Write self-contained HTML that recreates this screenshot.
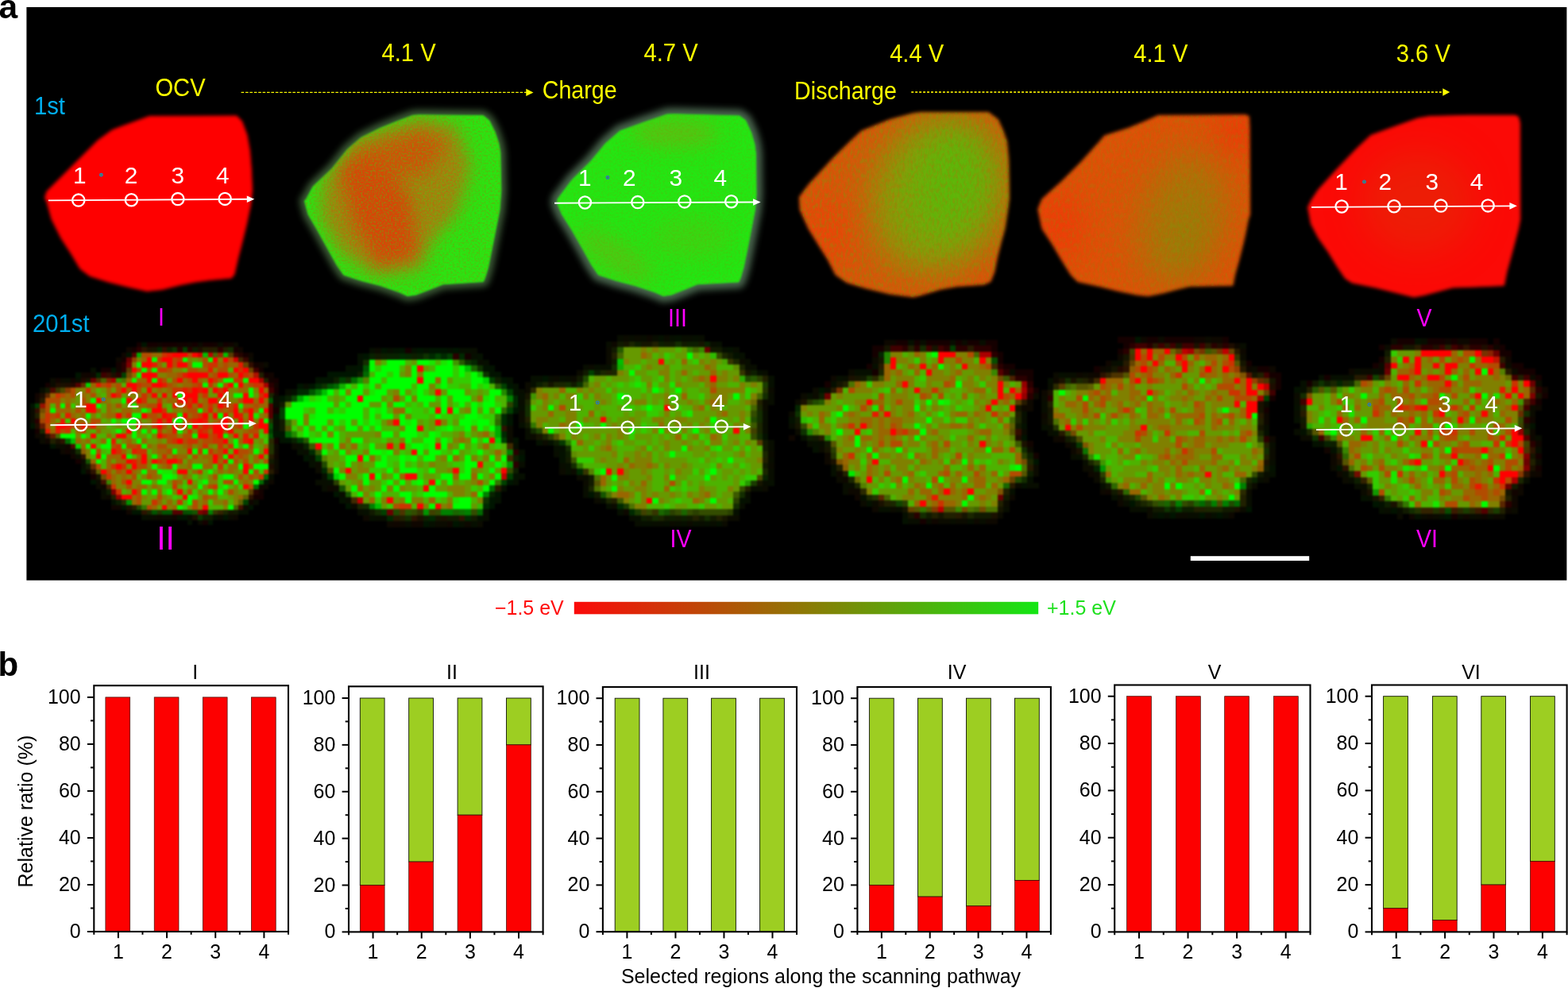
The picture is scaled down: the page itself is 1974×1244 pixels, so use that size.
<!DOCTYPE html>
<html lang="en">
<head>
<meta charset="utf-8">
<title>Figure</title>
<style>
html,body{margin:0;padding:0;background:#fff;}
body{width:1974px;height:1244px;}
svg{display:block;}
</style>
</head>
<body>
<svg width="1974" height="1244" viewBox="0 0 1974 1244">
<defs>
<filter id="b3" color-interpolation-filters="sRGB" x="-10%" y="-10%" width="120%" height="120%"><feGaussianBlur stdDeviation="3"/></filter>
<filter id="b2" color-interpolation-filters="sRGB" x="-10%" y="-10%" width="120%" height="120%"><feGaussianBlur stdDeviation="2"/></filter>
<filter id="b1" color-interpolation-filters="sRGB" x="-10%" y="-10%" width="120%" height="120%"><feGaussianBlur stdDeviation="1.2"/></filter>
<filter id="b5" color-interpolation-filters="sRGB" x="-20%" y="-20%" width="140%" height="140%"><feGaussianBlur stdDeviation="5"/></filter>
<filter id="b14" color-interpolation-filters="sRGB" x="-50%" y="-50%" width="200%" height="200%"><feGaussianBlur stdDeviation="14"/></filter>
<filter id="bp" color-interpolation-filters="sRGB" x="-5%" y="-5%" width="110%" height="110%"><feGaussianBlur stdDeviation="0.9"/></filter>
<filter id="b10" color-interpolation-filters="sRGB" x="-50%" y="-50%" width="200%" height="200%"><feGaussianBlur stdDeviation="10"/></filter>
<filter id="b12" color-interpolation-filters="sRGB" x="-50%" y="-50%" width="200%" height="200%"><feGaussianBlur stdDeviation="12"/></filter>
<filter id="b22" color-interpolation-filters="sRGB" x="-60%" y="-60%" width="220%" height="220%"><feGaussianBlur stdDeviation="22"/></filter>
<filter id="b4" color-interpolation-filters="sRGB" x="-20%" y="-20%" width="140%" height="140%"><feGaussianBlur stdDeviation="4"/></filter>
<clipPath id="c1"><polygon points="56.5,249 59,241 91,209 123,177 141,164 151,160 188,146.5 298,146 304.5,152.5 311,170 314.5,190 316.5,215 317.5,240 315.5,258 310.5,282 304.5,306.5 299.8,324.5 295,345.5 291.5,350 264.5,352.5 246,355 228,358.5 204,364.5 185,366.5 160.5,361 136.5,355 113,347.5 101,338.5 89,318.5 77,300 65,276 59,254"/></clipPath>
<clipPath id="c2"><polygon points="383.5,253 385.7,250.6 394.1,234.9 418.2,212 437.5,187.9 454.4,173.4 478.5,161.4 502.6,151.7 520,145.3 527.8,144.8 608.5,145.7 615.8,151.7 623,166.2 627.8,180.6 629.8,192 630.8,240 629,264.1 624.2,288.2 619.4,312.4 614.6,336.5 610.9,348.5 608.5,354.6 557.9,357.8 542.2,364 524,371 513,372.6 502.6,367.8 478.5,359.4 454.4,353.3 432.7,346.1 424.3,334.1 412.2,312.4 400.1,290.6 388.1,270.1"/></clipPath>
<clipPath id="c3"><polygon points="701.5,256 702.1,250.6 720.1,226.5 744.3,202.4 762.4,180.6 780.4,165 810.6,154.1 840,144 850.1,143.8 931,146 938.5,151.5 945.7,167 950,182 951.5,194.3 952,245 950.5,264 945.5,290 941,313 936,337 932.5,349 930,355 878,357.8 863,364 845.6,371 835,372.6 824,367.8 800,359.8 776,353.5 753.3,346 745,334 733,312.4 720.5,290.6 707.5,270"/></clipPath>
<clipPath id="c4"><polygon points="1006.5,248 1018,232.5 1048,200 1072.5,176 1084.5,165 1120.5,150.5 1150,142.7 1160,141.5 1244.5,141.5 1256.5,150.5 1262.5,164 1267.5,178 1269.8,202 1270.5,250 1268.7,264 1265,288 1260,306 1255.4,324.4 1251.8,342.5 1247,354.6 1238.5,358.2 1204.8,360.6 1184.3,364.2 1160,371.4 1150,373.9 1120.6,370.2 1090.4,363 1066.3,355.8 1052,346 1042.2,326.8 1030,307.5 1018,288 1007.2,264"/></clipPath>
<clipPath id="c5"><polygon points="1306.8,263.5 1312,250.6 1336,229 1360.3,204.8 1384.4,178.2 1390.4,171 1420.6,161.4 1440,153.5 1458,145.5 1568,144.8 1572.3,146.5 1573,160 1573.5,270 1571.4,276.2 1566.6,300.3 1560.6,324.4 1554.6,346.1 1552,359.4 1498,360.4 1482.2,364.2 1464,369 1446,372.6 1432.6,371.4 1408.5,366.6 1384.4,360.6 1356.7,354.6 1348.2,346.1 1336.2,326.8 1324.1,306.3 1312.1,288.2"/></clipPath>
<clipPath id="c6"><polygon points="1646.5,261 1651,252 1659.5,239 1683.5,212.5 1707.5,187.5 1725.5,170.5 1755.5,159.5 1785,149 1800,146.5 1850,145.3 1907,145.3 1911.5,147 1913.5,155 1913.8,276 1911.5,288 1906.8,306 1902,324 1897,342 1893.5,359.5 1859,361 1829,362 1811,366.8 1793,371.6 1780,374 1755.5,368 1731.5,362 1702,356 1693.5,350.5 1684,336.5 1672,317 1660,300 1650.5,282"/></clipPath>
<filter id="ng" x="0" y="0" width="100%" height="100%" color-interpolation-filters="sRGB"><feTurbulence type="fractalNoise" baseFrequency="0.42" numOctaves="2" seed="3"/><feColorMatrix type="matrix" values="0 0 0 0 0.196 0 0 0 0 0.882 0 0 0 0 0.078 3.2 0 0 0 -1.35"/><feComposite operator="in" in2="SourceGraphic"/></filter>
<filter id="nr" x="0" y="0" width="100%" height="100%" color-interpolation-filters="sRGB"><feTurbulence type="fractalNoise" baseFrequency="0.40" numOctaves="2" seed="11"/><feColorMatrix type="matrix" values="0 0 0 0 0.882 0 0 0 0 0.235 0 0 0 0 0.039 3.2 0 0 0 -1.45"/><feComposite operator="in" in2="SourceGraphic"/></filter>
<filter id="ngs" x="0" y="0" width="100%" height="100%" color-interpolation-filters="sRGB"><feTurbulence type="fractalNoise" baseFrequency="0.34 0.16" numOctaves="2" seed="5"/><feColorMatrix type="matrix" values="0 0 0 0 0.275 0 0 0 0 0.745 0 0 0 0 0.039 3.0 0 0 0 -1.25"/><feComposite operator="in" in2="SourceGraphic"/></filter>
<filter id="nrs" x="0" y="0" width="100%" height="100%" color-interpolation-filters="sRGB"><feTurbulence type="fractalNoise" baseFrequency="0.30 0.16" numOctaves="2" seed="9"/><feColorMatrix type="matrix" values="0 0 0 0 0.882 0 0 0 0 0.275 0 0 0 0 0.031 3.0 0 0 0 -1.35"/><feComposite operator="in" in2="SourceGraphic"/></filter>
<linearGradient id="cb" x1="0" x2="1" y1="0" y2="0"><stop offset="0" stop-color="#fb0a0a"/><stop offset="0.5" stop-color="#8c7a05"/><stop offset="1" stop-color="#14e614"/></linearGradient>
</defs>
<rect x="0" y="0" width="1974" height="1244" fill="#fff"/>
<rect x="33.4" y="9" width="1939" height="721.7" fill="#000"/>
<g filter="url(#b2)">
<polygon points="56.5,249 59,241 91,209 123,177 141,164 151,160 188,146.5 298,146 304.5,152.5 311,170 314.5,190 316.5,215 317.5,240 315.5,258 310.5,282 304.5,306.5 299.8,324.5 295,345.5 291.5,350 264.5,352.5 246,355 228,358.5 204,364.5 185,366.5 160.5,361 136.5,355 113,347.5 101,338.5 89,318.5 77,300 65,276 59,254" fill="#fe0000" stroke="#fe0000" stroke-width="1" stroke-linejoin="round"/>
</g>
<polygon points="383.5,253 385.7,250.6 394.1,234.9 418.2,212 437.5,187.9 454.4,173.4 478.5,161.4 502.6,151.7 520,145.3 527.8,144.8 608.5,145.7 615.8,151.7 623,166.2 627.8,180.6 629.8,192 630.8,240 629,264.1 624.2,288.2 619.4,312.4 614.6,336.5 610.9,348.5 608.5,354.6 557.9,357.8 542.2,364 524,371 513,372.6 502.6,367.8 478.5,359.4 454.4,353.3 432.7,346.1 424.3,334.1 412.2,312.4 400.1,290.6 388.1,270.1" fill="#46683f" stroke="#46683f" stroke-width="13" stroke-linejoin="round" filter="url(#b4)" opacity="0.85"/>
<g filter="url(#b1)">
<polygon points="383.5,253 385.7,250.6 394.1,234.9 418.2,212 437.5,187.9 454.4,173.4 478.5,161.4 502.6,151.7 520,145.3 527.8,144.8 608.5,145.7 615.8,151.7 623,166.2 627.8,180.6 629.8,192 630.8,240 629,264.1 624.2,288.2 619.4,312.4 614.6,336.5 610.9,348.5 608.5,354.6 557.9,357.8 542.2,364 524,371 513,372.6 502.6,367.8 478.5,359.4 454.4,353.3 432.7,346.1 424.3,334.1 412.2,312.4 400.1,290.6 388.1,270.1" fill="#2ce412" stroke="#2ce412" stroke-width="1" stroke-linejoin="round"/>
<g clip-path="url(#c2)"><g filter="url(#b10)"><polygon points="406.3,228 446.8,171.8 530.1,147 575.1,158.3 593.1,210 575.1,268.5 543.6,304.6 527.8,340.6 473.8,347.3 428.8,318.1 404,273" fill="#a8800e" opacity="0.95"/><polygon points="426.5,210 467,187.5 516.6,246 527.8,322.6 476,336.1 444.5,282.1" fill="#da4408" opacity="0.95"/><polygon points="440,194.3 530.1,162.8 563.8,180.8 536.8,221.3 476,223.5" fill="#d25008" opacity="0.9"/></g></g>
</g>
<g clip-path="url(#c2)">
<polygon points="383.5,253 385.7,250.6 394.1,234.9 418.2,212 437.5,187.9 454.4,173.4 478.5,161.4 502.6,151.7 520,145.3 527.8,144.8 608.5,145.7 615.8,151.7 623,166.2 627.8,180.6 629.8,192 630.8,240 629,264.1 624.2,288.2 619.4,312.4 614.6,336.5 610.9,348.5 608.5,354.6 557.9,357.8 542.2,364 524,371 513,372.6 502.6,367.8 478.5,359.4 454.4,353.3 432.7,346.1 424.3,334.1 412.2,312.4 400.1,290.6 388.1,270.1" fill="#fff" filter="url(#ng)" opacity="0.32"/>
<polygon points="383.5,253 385.7,250.6 394.1,234.9 418.2,212 437.5,187.9 454.4,173.4 478.5,161.4 502.6,151.7 520,145.3 527.8,144.8 608.5,145.7 615.8,151.7 623,166.2 627.8,180.6 629.8,192 630.8,240 629,264.1 624.2,288.2 619.4,312.4 614.6,336.5 610.9,348.5 608.5,354.6 557.9,357.8 542.2,364 524,371 513,372.6 502.6,367.8 478.5,359.4 454.4,353.3 432.7,346.1 424.3,334.1 412.2,312.4 400.1,290.6 388.1,270.1" fill="#fff" filter="url(#nr)" opacity="0.22"/>
</g>
<polygon points="701.5,256 702.1,250.6 720.1,226.5 744.3,202.4 762.4,180.6 780.4,165 810.6,154.1 840,144 850.1,143.8 931,146 938.5,151.5 945.7,167 950,182 951.5,194.3 952,245 950.5,264 945.5,290 941,313 936,337 932.5,349 930,355 878,357.8 863,364 845.6,371 835,372.6 824,367.8 800,359.8 776,353.5 753.3,346 745,334 733,312.4 720.5,290.6 707.5,270" fill="#55755a" stroke="#55755a" stroke-width="16" stroke-linejoin="round" filter="url(#b4)" opacity="0.85"/>
<g filter="url(#b1)">
<polygon points="701.5,256 702.1,250.6 720.1,226.5 744.3,202.4 762.4,180.6 780.4,165 810.6,154.1 840,144 850.1,143.8 931,146 938.5,151.5 945.7,167 950,182 951.5,194.3 952,245 950.5,264 945.5,290 941,313 936,337 932.5,349 930,355 878,357.8 863,364 845.6,371 835,372.6 824,367.8 800,359.8 776,353.5 753.3,346 745,334 733,312.4 720.5,290.6 707.5,270" fill="#24e612" stroke="#24e612" stroke-width="1" stroke-linejoin="round"/>
<g clip-path="url(#c3)"><g filter="url(#b12)"><ellipse cx="850" cy="168" rx="55" ry="16" fill="#72b010" opacity="0.7"/><ellipse cx="775" cy="322" rx="55" ry="18" fill="#68b810" transform="rotate(32 775 322)" opacity="0.6"/><ellipse cx="870" cy="300" rx="50" ry="25" fill="#50c810" opacity="0.5"/></g></g>
</g>
<g clip-path="url(#c3)">
<polygon points="701.5,256 702.1,250.6 720.1,226.5 744.3,202.4 762.4,180.6 780.4,165 810.6,154.1 840,144 850.1,143.8 931,146 938.5,151.5 945.7,167 950,182 951.5,194.3 952,245 950.5,264 945.5,290 941,313 936,337 932.5,349 930,355 878,357.8 863,364 845.6,371 835,372.6 824,367.8 800,359.8 776,353.5 753.3,346 745,334 733,312.4 720.5,290.6 707.5,270" fill="#fff" filter="url(#nr)" opacity="0.1"/>
</g>
<g filter="url(#b2)">
<polygon points="1006.5,248 1018,232.5 1048,200 1072.5,176 1084.5,165 1120.5,150.5 1150,142.7 1160,141.5 1244.5,141.5 1256.5,150.5 1262.5,164 1267.5,178 1269.8,202 1270.5,250 1268.7,264 1265,288 1260,306 1255.4,324.4 1251.8,342.5 1247,354.6 1238.5,358.2 1204.8,360.6 1184.3,364.2 1160,371.4 1150,373.9 1120.6,370.2 1090.4,363 1066.3,355.8 1052,346 1042.2,326.8 1030,307.5 1018,288 1007.2,264" fill="#d6580a" stroke="#d6580a" stroke-width="1" stroke-linejoin="round"/>
<g clip-path="url(#c4)"><g filter="url(#b22)"><ellipse cx="1183" cy="245" rx="82" ry="100" fill="#7ea40a" transform="rotate(18 1183 245)" opacity="0.95"/><ellipse cx="1200" cy="228" rx="46" ry="72" fill="#54be0a" transform="rotate(12 1200 228)" opacity="0.75"/><ellipse cx="1040" cy="292" rx="36" ry="48" fill="#ee4208" opacity="0.85"/><ellipse cx="1200" cy="366" rx="75" ry="12" fill="#ea4608" opacity="0.9"/><ellipse cx="1250" cy="340" rx="22" ry="26" fill="#e04c08" opacity="0.7"/></g></g>
</g>
<g clip-path="url(#c4)">
<polygon points="1006.5,248 1018,232.5 1048,200 1072.5,176 1084.5,165 1120.5,150.5 1150,142.7 1160,141.5 1244.5,141.5 1256.5,150.5 1262.5,164 1267.5,178 1269.8,202 1270.5,250 1268.7,264 1265,288 1260,306 1255.4,324.4 1251.8,342.5 1247,354.6 1238.5,358.2 1204.8,360.6 1184.3,364.2 1160,371.4 1150,373.9 1120.6,370.2 1090.4,363 1066.3,355.8 1052,346 1042.2,326.8 1030,307.5 1018,288 1007.2,264" fill="#fff" filter="url(#ngs)" opacity="0.24"/>
<polygon points="1006.5,248 1018,232.5 1048,200 1072.5,176 1084.5,165 1120.5,150.5 1150,142.7 1160,141.5 1244.5,141.5 1256.5,150.5 1262.5,164 1267.5,178 1269.8,202 1270.5,250 1268.7,264 1265,288 1260,306 1255.4,324.4 1251.8,342.5 1247,354.6 1238.5,358.2 1204.8,360.6 1184.3,364.2 1160,371.4 1150,373.9 1120.6,370.2 1090.4,363 1066.3,355.8 1052,346 1042.2,326.8 1030,307.5 1018,288 1007.2,264" fill="#fff" filter="url(#nrs)" opacity="0.22"/>
</g>
<g filter="url(#b2)">
<polygon points="1306.8,263.5 1312,250.6 1336,229 1360.3,204.8 1384.4,178.2 1390.4,171 1420.6,161.4 1440,153.5 1458,145.5 1568,144.8 1572.3,146.5 1573,160 1573.5,270 1571.4,276.2 1566.6,300.3 1560.6,324.4 1554.6,346.1 1552,359.4 1498,360.4 1482.2,364.2 1464,369 1446,372.6 1432.6,371.4 1408.5,366.6 1384.4,360.6 1356.7,354.6 1348.2,346.1 1336.2,326.8 1324.1,306.3 1312.1,288.2" fill="#de5208" stroke="#de5208" stroke-width="1" stroke-linejoin="round"/>
<g clip-path="url(#c5)"><g filter="url(#b22)"><ellipse cx="1488" cy="275" rx="52" ry="85" fill="#a27a08" transform="rotate(15 1488 275)" opacity="0.85"/><ellipse cx="1498" cy="300" rx="25" ry="50" fill="#868808" transform="rotate(15 1498 300)" opacity="0.5"/><ellipse cx="1334" cy="285" rx="30" ry="48" fill="#f03a08"/><ellipse cx="1558" cy="165" rx="26" ry="28" fill="#f03408"/></g></g>
</g>
<g clip-path="url(#c5)">
<polygon points="1306.8,263.5 1312,250.6 1336,229 1360.3,204.8 1384.4,178.2 1390.4,171 1420.6,161.4 1440,153.5 1458,145.5 1568,144.8 1572.3,146.5 1573,160 1573.5,270 1571.4,276.2 1566.6,300.3 1560.6,324.4 1554.6,346.1 1552,359.4 1498,360.4 1482.2,364.2 1464,369 1446,372.6 1432.6,371.4 1408.5,366.6 1384.4,360.6 1356.7,354.6 1348.2,346.1 1336.2,326.8 1324.1,306.3 1312.1,288.2" fill="#fff" filter="url(#ngs)" opacity="0.14"/>
<polygon points="1306.8,263.5 1312,250.6 1336,229 1360.3,204.8 1384.4,178.2 1390.4,171 1420.6,161.4 1440,153.5 1458,145.5 1568,144.8 1572.3,146.5 1573,160 1573.5,270 1571.4,276.2 1566.6,300.3 1560.6,324.4 1554.6,346.1 1552,359.4 1498,360.4 1482.2,364.2 1464,369 1446,372.6 1432.6,371.4 1408.5,366.6 1384.4,360.6 1356.7,354.6 1348.2,346.1 1336.2,326.8 1324.1,306.3 1312.1,288.2" fill="#fff" filter="url(#nrs)" opacity="0.2"/>
</g>
<g filter="url(#b2)">
<polygon points="1646.5,261 1651,252 1659.5,239 1683.5,212.5 1707.5,187.5 1725.5,170.5 1755.5,159.5 1785,149 1800,146.5 1850,145.3 1907,145.3 1911.5,147 1913.5,155 1913.8,276 1911.5,288 1906.8,306 1902,324 1897,342 1893.5,359.5 1859,361 1829,362 1811,366.8 1793,371.6 1780,374 1755.5,368 1731.5,362 1702,356 1693.5,350.5 1684,336.5 1672,317 1660,300 1650.5,282" fill="#fb0a06" stroke="#fb0a06" stroke-width="1" stroke-linejoin="round"/>
<g clip-path="url(#c6)"><g filter="url(#b22)"><ellipse cx="1785" cy="255" rx="70" ry="65" fill="#ea2206" opacity="0.8"/></g></g>
</g>
<g filter="url(#bp)"><g transform="translate(31.10 424.40) scale(6.4)" shape-rendering="crispEdges">
<path fill="#150000" d="M22 1h1v1h-1zM24 1h1v1h-1zM25 1h1v1h-1zM27 1h1v1h-1zM28 1h1v1h-1zM29 1h1v1h-1zM33 1h1v1h-1zM35 1h1v1h-1zM36 1h1v1h-1zM39 1h1v1h-1zM21 2h1v1h-1zM41 2h1v1h-1zM43 3h1v1h-1zM19 4h1v1h-1zM15 6h1v1h-1zM16 6h1v1h-1zM47 7h1v1h-1zM49 8h1v1h-1zM4 9h1v1h-1zM49 10h1v1h-1zM2 18h1v1h-1zM49 19h1v1h-1zM49 20h1v1h-1zM10 24h1v1h-1zM13 27h1v1h-1zM45 31h1v1h-1zM46 31h1v1h-1zM35 36h1v1h-1z"/>
<path fill="#001500" d="M23 1h1v1h-1zM20 3h1v1h-1zM17 6h1v1h-1zM10 7h1v1h-1zM49 12h1v1h-1zM1 13h1v1h-1zM1 17h1v1h-1zM5 21h1v1h-1zM11 26h1v1h-1zM13 28h1v1h-1zM47 28h1v1h-1zM19 33h1v1h-1zM44 33h1v1h-1zM21 34h1v1h-1zM22 34h1v1h-1zM31 35h1v1h-1zM39 35h1v1h-1zM36 36h1v1h-1z"/>
<path fill="#110400" d="M26 1h1v1h-1zM30 1h1v1h-1zM40 1h1v1h-1zM18 6h1v1h-1zM12 7h1v1h-1zM48 7h1v1h-1zM6 8h1v1h-1zM9 8h1v1h-1zM49 9h1v1h-1zM2 11h1v1h-1zM8 22h1v1h-1zM9 23h1v1h-1zM17 33h1v1h-1z"/>
<path fill="#130200" d="M31 1h1v1h-1zM37 1h1v1h-1zM18 5h1v1h-1zM45 5h1v1h-1zM46 6h1v1h-1zM48 8h1v1h-1zM46 30h1v1h-1z"/>
<path fill="#0f0600" d="M32 1h1v1h-1zM20 2h1v1h-1zM42 2h1v1h-1zM19 3h1v1h-1zM46 5h1v1h-1zM11 7h1v1h-1zM49 11h1v1h-1zM2 12h1v1h-1zM4 20h1v1h-1zM8 21h1v1h-1zM49 23h1v1h-1zM12 26h1v1h-1zM49 26h1v1h-1zM15 29h1v1h-1zM46 29h1v1h-1zM44 32h1v1h-1zM18 33h1v1h-1zM20 34h1v1h-1zM29 35h1v1h-1z"/>
<path fill="#0b0b00" d="M34 1h1v1h-1zM41 1h1v1h-1zM44 4h1v1h-1zM47 5h1v1h-1zM5 8h1v1h-1zM7 8h1v1h-1zM5 9h1v1h-1zM1 14h1v1h-1zM1 15h1v1h-1zM1 16h1v1h-1zM49 18h1v1h-1zM3 19h1v1h-1zM3 20h1v1h-1zM6 21h1v1h-1zM7 21h1v1h-1zM49 21h1v1h-1zM9 22h1v1h-1zM11 24h1v1h-1zM49 24h1v1h-1zM49 25h1v1h-1zM14 28h1v1h-1zM14 29h1v1h-1zM15 31h1v1h-1zM43 33h1v1h-1zM25 35h1v1h-1zM27 35h1v1h-1zM28 35h1v1h-1zM32 35h1v1h-1zM38 35h1v1h-1zM40 35h1v1h-1zM34 36h1v1h-1z"/>
<path fill="#080d00" d="M38 1h1v1h-1zM8 8h1v1h-1zM10 8h1v1h-1zM3 10h1v1h-1zM49 13h1v1h-1zM49 15h1v1h-1zM10 23h1v1h-1zM11 25h1v1h-1zM48 27h1v1h-1zM15 30h1v1h-1zM45 32h1v1h-1zM24 35h1v1h-1z"/>
<path fill="#2a0000" d="M22 2h1v1h-1zM30 2h1v1h-1zM32 2h1v1h-1zM38 2h1v1h-1zM19 5h1v1h-1zM19 6h1v1h-1zM18 7h1v1h-1zM48 9h1v1h-1zM2 16h1v1h-1z"/>
<path fill="#2d1300" d="M23 2h1v1h-1zM4 19h1v1h-1zM7 20h1v1h-1zM11 23h1v1h-1zM13 26h1v1h-1zM44 31h1v1h-1zM23 34h1v1h-1z"/>
<path fill="#1a1100" d="M24 2h1v1h-1zM17 7h1v1h-1zM7 9h1v1h-1zM6 20h1v1h-1zM20 33h1v1h-1zM33 35h1v1h-1z"/>
<path fill="#151500" d="M25 2h1v1h-1zM12 8h1v1h-1zM14 27h1v1h-1zM40 34h1v1h-1z"/>
<path fill="#002a00" d="M26 2h1v1h-1zM14 7h1v1h-1z"/>
<path fill="#330d00" d="M27 2h1v1h-1zM44 5h1v1h-1zM16 7h1v1h-1zM2 14h1v1h-1z"/>
<path fill="#0d1e00" d="M28 2h1v1h-1zM33 2h1v1h-1zM16 30h1v1h-1zM18 32h1v1h-1zM35 35h1v1h-1z"/>
<path fill="#0d3300" d="M29 2h1v1h-1z"/>
<path fill="#004000" d="M31 2h1v1h-1zM19 7h1v1h-1zM2 13h1v1h-1zM48 18h1v1h-1zM43 32h1v1h-1z"/>
<path fill="#1e0d00" d="M34 2h1v1h-1zM6 9h1v1h-1zM8 9h1v1h-1zM3 11h1v1h-1zM2 17h1v1h-1zM48 25h1v1h-1z"/>
<path fill="#202000" d="M35 2h1v1h-1zM37 2h1v1h-1zM39 2h1v1h-1zM46 7h1v1h-1zM47 8h1v1h-1zM2 15h1v1h-1zM5 20h1v1h-1zM17 31h1v1h-1z"/>
<path fill="#261a00" d="M36 2h1v1h-1zM3 12h1v1h-1zM48 23h1v1h-1zM48 26h1v1h-1zM21 33h1v1h-1z"/>
<path fill="#132d00" d="M40 2h1v1h-1zM10 22h1v1h-1z"/>
<path fill="#550000" d="M21 3h1v1h-1zM10 9h1v1h-1zM48 13h1v1h-1zM48 14h1v1h-1zM48 15h1v1h-1zM29 34h1v1h-1zM30 34h1v1h-1z"/>
<path fill="#00aa00" d="M22 3h1v1h-1z"/>
<path fill="#b24c00" d="M23 3h1v1h-1zM24 3h1v1h-1zM32 3h1v1h-1zM29 4h1v1h-1zM35 4h1v1h-1zM40 4h1v1h-1zM29 5h1v1h-1zM35 5h1v1h-1zM39 5h1v1h-1zM22 6h1v1h-1zM24 6h1v1h-1zM28 6h1v1h-1zM32 6h1v1h-1zM33 6h1v1h-1zM38 6h1v1h-1zM39 6h1v1h-1zM30 7h1v1h-1zM37 7h1v1h-1zM40 7h1v1h-1zM44 7h1v1h-1zM27 8h1v1h-1zM29 8h1v1h-1zM32 8h1v1h-1zM15 9h1v1h-1zM18 9h1v1h-1zM23 9h1v1h-1zM24 9h1v1h-1zM28 9h1v1h-1zM33 9h1v1h-1zM39 9h1v1h-1zM44 9h1v1h-1zM9 10h1v1h-1zM18 10h1v1h-1zM22 10h1v1h-1zM7 11h1v1h-1zM9 11h1v1h-1zM13 11h1v1h-1zM4 12h1v1h-1zM5 12h1v1h-1zM6 12h1v1h-1zM11 12h1v1h-1zM42 12h1v1h-1zM4 13h1v1h-1zM6 13h1v1h-1zM8 13h1v1h-1zM11 13h1v1h-1zM18 13h1v1h-1zM24 13h1v1h-1zM25 13h1v1h-1zM31 13h1v1h-1zM40 13h1v1h-1zM45 13h1v1h-1zM4 14h1v1h-1zM10 14h1v1h-1zM32 14h1v1h-1zM33 14h1v1h-1zM38 14h1v1h-1zM40 14h1v1h-1zM5 15h1v1h-1zM24 15h1v1h-1zM25 15h1v1h-1zM33 15h1v1h-1zM13 16h1v1h-1zM14 16h1v1h-1zM25 16h1v1h-1zM27 16h1v1h-1zM38 16h1v1h-1zM4 17h1v1h-1zM9 17h1v1h-1zM10 17h1v1h-1zM12 17h1v1h-1zM27 17h1v1h-1zM34 17h1v1h-1zM41 17h1v1h-1zM7 18h1v1h-1zM39 18h1v1h-1zM44 18h1v1h-1zM45 18h1v1h-1zM28 19h1v1h-1zM29 19h1v1h-1zM31 19h1v1h-1zM32 19h1v1h-1zM36 19h1v1h-1zM28 20h1v1h-1zM31 20h1v1h-1zM35 20h1v1h-1zM36 20h1v1h-1zM17 21h1v1h-1zM20 21h1v1h-1zM21 21h1v1h-1zM26 21h1v1h-1zM27 21h1v1h-1zM32 21h1v1h-1zM44 21h1v1h-1zM14 22h1v1h-1zM28 22h1v1h-1zM38 22h1v1h-1zM42 22h1v1h-1zM43 22h1v1h-1zM29 23h1v1h-1zM33 23h1v1h-1zM38 23h1v1h-1zM42 23h1v1h-1zM22 24h1v1h-1zM27 24h1v1h-1zM41 24h1v1h-1zM43 24h1v1h-1zM47 24h1v1h-1zM14 25h1v1h-1zM22 25h1v1h-1zM23 25h1v1h-1zM28 25h1v1h-1zM44 25h1v1h-1zM16 26h1v1h-1zM18 26h1v1h-1zM45 26h1v1h-1zM21 27h1v1h-1zM24 27h1v1h-1zM37 27h1v1h-1zM42 27h1v1h-1zM44 27h1v1h-1zM19 28h1v1h-1zM29 28h1v1h-1zM39 28h1v1h-1zM40 28h1v1h-1zM20 29h1v1h-1zM36 29h1v1h-1zM44 29h1v1h-1zM22 30h1v1h-1zM32 30h1v1h-1zM40 30h1v1h-1zM22 31h1v1h-1zM26 31h1v1h-1zM35 31h1v1h-1zM22 32h1v1h-1zM33 32h1v1h-1zM24 33h1v1h-1zM33 33h1v1h-1z"/>
<path fill="#996600" d="M25 3h1v1h-1zM26 3h1v1h-1zM23 4h1v1h-1zM26 5h1v1h-1zM32 5h1v1h-1zM38 5h1v1h-1zM40 5h1v1h-1zM41 5h1v1h-1zM34 6h1v1h-1zM35 6h1v1h-1zM21 7h1v1h-1zM28 7h1v1h-1zM29 7h1v1h-1zM36 7h1v1h-1zM41 7h1v1h-1zM20 8h1v1h-1zM22 8h1v1h-1zM23 8h1v1h-1zM31 8h1v1h-1zM34 8h1v1h-1zM38 8h1v1h-1zM13 9h1v1h-1zM17 9h1v1h-1zM29 9h1v1h-1zM31 9h1v1h-1zM32 9h1v1h-1zM43 9h1v1h-1zM16 10h1v1h-1zM20 10h1v1h-1zM26 10h1v1h-1zM28 10h1v1h-1zM42 10h1v1h-1zM43 10h1v1h-1zM47 10h1v1h-1zM5 11h1v1h-1zM8 11h1v1h-1zM11 11h1v1h-1zM16 11h1v1h-1zM24 11h1v1h-1zM34 11h1v1h-1zM8 12h1v1h-1zM15 12h1v1h-1zM28 12h1v1h-1zM29 12h1v1h-1zM35 12h1v1h-1zM45 12h1v1h-1zM47 12h1v1h-1zM16 13h1v1h-1zM22 13h1v1h-1zM23 13h1v1h-1zM30 13h1v1h-1zM33 13h1v1h-1zM35 13h1v1h-1zM37 13h1v1h-1zM43 13h1v1h-1zM44 13h1v1h-1zM46 13h1v1h-1zM47 13h1v1h-1zM6 14h1v1h-1zM7 14h1v1h-1zM8 14h1v1h-1zM14 14h1v1h-1zM16 14h1v1h-1zM19 14h1v1h-1zM20 14h1v1h-1zM31 14h1v1h-1zM35 14h1v1h-1zM39 14h1v1h-1zM45 14h1v1h-1zM9 15h1v1h-1zM11 15h1v1h-1zM16 15h1v1h-1zM17 15h1v1h-1zM19 15h1v1h-1zM26 15h1v1h-1zM32 15h1v1h-1zM47 15h1v1h-1zM5 16h1v1h-1zM10 16h1v1h-1zM11 16h1v1h-1zM22 16h1v1h-1zM31 16h1v1h-1zM37 16h1v1h-1zM43 16h1v1h-1zM23 17h1v1h-1zM30 17h1v1h-1zM5 18h1v1h-1zM10 18h1v1h-1zM14 18h1v1h-1zM28 18h1v1h-1zM36 18h1v1h-1zM43 18h1v1h-1zM16 19h1v1h-1zM10 20h1v1h-1zM12 20h1v1h-1zM15 20h1v1h-1zM20 20h1v1h-1zM23 20h1v1h-1zM34 20h1v1h-1zM42 20h1v1h-1zM11 21h1v1h-1zM24 21h1v1h-1zM31 21h1v1h-1zM34 21h1v1h-1zM47 21h1v1h-1zM19 22h1v1h-1zM26 22h1v1h-1zM27 22h1v1h-1zM37 22h1v1h-1zM44 22h1v1h-1zM16 23h1v1h-1zM17 23h1v1h-1zM18 23h1v1h-1zM22 23h1v1h-1zM30 23h1v1h-1zM31 23h1v1h-1zM35 23h1v1h-1zM36 23h1v1h-1zM41 23h1v1h-1zM43 23h1v1h-1zM45 23h1v1h-1zM13 24h1v1h-1zM16 24h1v1h-1zM18 24h1v1h-1zM19 24h1v1h-1zM32 24h1v1h-1zM36 24h1v1h-1zM38 24h1v1h-1zM45 24h1v1h-1zM16 25h1v1h-1zM27 25h1v1h-1zM32 25h1v1h-1zM35 25h1v1h-1zM36 25h1v1h-1zM40 25h1v1h-1zM41 25h1v1h-1zM19 26h1v1h-1zM21 26h1v1h-1zM24 26h1v1h-1zM25 26h1v1h-1zM33 26h1v1h-1zM38 26h1v1h-1zM40 26h1v1h-1zM17 27h1v1h-1zM19 27h1v1h-1zM25 27h1v1h-1zM31 27h1v1h-1zM45 27h1v1h-1zM17 28h1v1h-1zM30 28h1v1h-1zM43 28h1v1h-1zM22 29h1v1h-1zM23 29h1v1h-1zM25 29h1v1h-1zM26 30h1v1h-1zM21 31h1v1h-1zM36 31h1v1h-1zM37 31h1v1h-1zM42 31h1v1h-1zM21 32h1v1h-1zM26 32h1v1h-1zM28 32h1v1h-1zM35 32h1v1h-1zM39 32h1v1h-1zM25 33h1v1h-1zM29 33h1v1h-1z"/>
<path fill="#cc3300" d="M27 3h1v1h-1zM26 4h1v1h-1zM30 4h1v1h-1zM36 5h1v1h-1zM37 5h1v1h-1zM26 6h1v1h-1zM27 6h1v1h-1zM42 6h1v1h-1zM43 7h1v1h-1zM37 8h1v1h-1zM41 8h1v1h-1zM42 8h1v1h-1zM16 9h1v1h-1zM22 9h1v1h-1zM34 9h1v1h-1zM36 9h1v1h-1zM45 9h1v1h-1zM46 9h1v1h-1zM12 10h1v1h-1zM29 10h1v1h-1zM30 10h1v1h-1zM32 10h1v1h-1zM38 10h1v1h-1zM6 11h1v1h-1zM18 11h1v1h-1zM23 11h1v1h-1zM35 11h1v1h-1zM46 11h1v1h-1zM23 12h1v1h-1zM26 12h1v1h-1zM32 12h1v1h-1zM39 12h1v1h-1zM36 13h1v1h-1zM39 13h1v1h-1zM27 14h1v1h-1zM43 14h1v1h-1zM4 15h1v1h-1zM6 15h1v1h-1zM20 15h1v1h-1zM29 15h1v1h-1zM34 15h1v1h-1zM4 16h1v1h-1zM32 16h1v1h-1zM40 16h1v1h-1zM25 17h1v1h-1zM36 17h1v1h-1zM42 17h1v1h-1zM45 17h1v1h-1zM8 18h1v1h-1zM11 18h1v1h-1zM26 18h1v1h-1zM32 18h1v1h-1zM35 18h1v1h-1zM27 19h1v1h-1zM37 19h1v1h-1zM29 20h1v1h-1zM32 20h1v1h-1zM33 20h1v1h-1zM37 20h1v1h-1zM38 20h1v1h-1zM18 21h1v1h-1zM22 21h1v1h-1zM35 21h1v1h-1zM38 21h1v1h-1zM40 21h1v1h-1zM18 22h1v1h-1zM22 22h1v1h-1zM23 22h1v1h-1zM34 22h1v1h-1zM36 22h1v1h-1zM27 23h1v1h-1zM26 24h1v1h-1zM30 24h1v1h-1zM17 25h1v1h-1zM19 25h1v1h-1zM38 25h1v1h-1zM34 26h1v1h-1zM47 26h1v1h-1zM16 27h1v1h-1zM46 27h1v1h-1zM17 29h1v1h-1zM29 29h1v1h-1zM37 29h1v1h-1zM18 30h1v1h-1zM25 32h1v1h-1zM30 32h1v1h-1z"/>
<path fill="#e61a00" d="M28 3h1v1h-1zM25 5h1v1h-1zM42 5h1v1h-1zM36 6h1v1h-1zM31 7h1v1h-1zM26 8h1v1h-1zM14 9h1v1h-1zM27 9h1v1h-1zM31 10h1v1h-1zM34 10h1v1h-1zM30 12h1v1h-1zM29 13h1v1h-1zM32 13h1v1h-1zM34 13h1v1h-1zM41 13h1v1h-1zM36 14h1v1h-1zM8 15h1v1h-1zM28 15h1v1h-1zM42 15h1v1h-1zM7 16h1v1h-1zM33 16h1v1h-1zM35 16h1v1h-1zM8 17h1v1h-1zM11 17h1v1h-1zM13 17h1v1h-1zM31 17h1v1h-1zM35 17h1v1h-1zM4 18h1v1h-1zM6 18h1v1h-1zM29 18h1v1h-1zM34 18h1v1h-1zM43 19h1v1h-1zM45 19h1v1h-1zM17 20h1v1h-1zM43 20h1v1h-1zM21 22h1v1h-1zM21 24h1v1h-1zM39 24h1v1h-1z"/>
<path fill="#ff0000" d="M29 3h1v1h-1zM30 3h1v1h-1zM31 3h1v1h-1zM33 3h1v1h-1zM24 4h1v1h-1zM27 4h1v1h-1zM28 4h1v1h-1zM37 4h1v1h-1zM39 4h1v1h-1zM23 5h1v1h-1zM24 5h1v1h-1zM28 5h1v1h-1zM30 5h1v1h-1zM31 5h1v1h-1zM21 6h1v1h-1zM41 6h1v1h-1zM43 6h1v1h-1zM23 7h1v1h-1zM24 7h1v1h-1zM25 7h1v1h-1zM32 7h1v1h-1zM33 7h1v1h-1zM34 7h1v1h-1zM35 7h1v1h-1zM38 7h1v1h-1zM39 7h1v1h-1zM42 7h1v1h-1zM24 8h1v1h-1zM30 8h1v1h-1zM33 8h1v1h-1zM36 8h1v1h-1zM44 8h1v1h-1zM45 8h1v1h-1zM20 9h1v1h-1zM21 9h1v1h-1zM25 9h1v1h-1zM26 9h1v1h-1zM40 9h1v1h-1zM42 9h1v1h-1zM19 10h1v1h-1zM21 10h1v1h-1zM24 10h1v1h-1zM33 10h1v1h-1zM35 10h1v1h-1zM37 10h1v1h-1zM39 10h1v1h-1zM46 10h1v1h-1zM17 11h1v1h-1zM25 11h1v1h-1zM27 11h1v1h-1zM29 11h1v1h-1zM31 11h1v1h-1zM32 11h1v1h-1zM33 11h1v1h-1zM38 11h1v1h-1zM43 11h1v1h-1zM47 11h1v1h-1zM14 12h1v1h-1zM20 12h1v1h-1zM22 12h1v1h-1zM31 12h1v1h-1zM33 12h1v1h-1zM36 12h1v1h-1zM37 12h1v1h-1zM43 12h1v1h-1zM44 12h1v1h-1zM46 12h1v1h-1zM12 13h1v1h-1zM13 13h1v1h-1zM26 13h1v1h-1zM38 13h1v1h-1zM12 14h1v1h-1zM13 14h1v1h-1zM25 14h1v1h-1zM26 14h1v1h-1zM41 14h1v1h-1zM44 14h1v1h-1zM47 14h1v1h-1zM18 15h1v1h-1zM23 15h1v1h-1zM27 15h1v1h-1zM31 15h1v1h-1zM35 15h1v1h-1zM37 15h1v1h-1zM39 15h1v1h-1zM41 15h1v1h-1zM44 15h1v1h-1zM9 16h1v1h-1zM26 16h1v1h-1zM28 16h1v1h-1zM34 16h1v1h-1zM39 16h1v1h-1zM42 16h1v1h-1zM44 16h1v1h-1zM46 16h1v1h-1zM6 17h1v1h-1zM7 17h1v1h-1zM22 17h1v1h-1zM26 17h1v1h-1zM29 17h1v1h-1zM33 17h1v1h-1zM37 17h1v1h-1zM38 17h1v1h-1zM39 17h1v1h-1zM46 17h1v1h-1zM47 17h1v1h-1zM20 18h1v1h-1zM37 18h1v1h-1zM38 18h1v1h-1zM40 18h1v1h-1zM47 18h1v1h-1zM13 19h1v1h-1zM18 19h1v1h-1zM19 19h1v1h-1zM26 19h1v1h-1zM34 19h1v1h-1zM35 19h1v1h-1zM38 19h1v1h-1zM41 19h1v1h-1zM30 20h1v1h-1zM39 20h1v1h-1zM44 20h1v1h-1zM13 21h1v1h-1zM17 22h1v1h-1zM32 22h1v1h-1zM39 22h1v1h-1zM41 22h1v1h-1zM47 22h1v1h-1zM14 23h1v1h-1zM19 23h1v1h-1zM23 23h1v1h-1zM37 23h1v1h-1zM40 23h1v1h-1zM46 23h1v1h-1zM20 24h1v1h-1zM23 24h1v1h-1zM25 24h1v1h-1zM28 24h1v1h-1zM29 24h1v1h-1zM37 24h1v1h-1zM18 25h1v1h-1zM21 25h1v1h-1zM43 25h1v1h-1zM15 26h1v1h-1zM20 26h1v1h-1zM30 26h1v1h-1zM31 26h1v1h-1zM43 26h1v1h-1zM20 28h1v1h-1zM32 28h1v1h-1zM43 29h1v1h-1zM21 30h1v1h-1zM30 30h1v1h-1zM19 31h1v1h-1zM20 31h1v1h-1zM31 31h1v1h-1zM27 33h1v1h-1zM35 33h1v1h-1z"/>
<path fill="#d40000" d="M34 3h1v1h-1zM41 4h1v1h-1z"/>
<path fill="#00bf00" d="M35 3h1v1h-1zM39 3h1v1h-1zM9 20h1v1h-1z"/>
<path fill="#bf0000" d="M36 3h1v1h-1z"/>
<path fill="#446600" d="M37 3h1v1h-1zM15 8h1v1h-1zM6 19h1v1h-1zM41 33h1v1h-1z"/>
<path fill="#992600" d="M38 3h1v1h-1z"/>
<path fill="#593c00" d="M40 3h1v1h-1zM20 6h1v1h-1zM44 30h1v1h-1z"/>
<path fill="#390600" d="M41 3h1v1h-1zM43 4h1v1h-1z"/>
<path fill="#260400" d="M42 3h1v1h-1zM45 30h1v1h-1z"/>
<path fill="#0d0800" d="M44 3h1v1h-1zM18 4h1v1h-1zM13 7h1v1h-1zM49 14h1v1h-1zM2 19h1v1h-1zM7 22h1v1h-1zM49 22h1v1h-1zM48 28h1v1h-1zM47 29h1v1h-1zM16 31h1v1h-1zM26 35h1v1h-1zM41 35h1v1h-1z"/>
<path fill="#6a0000" d="M20 4h1v1h-1zM13 8h1v1h-1zM35 34h1v1h-1z"/>
<path fill="#954000" d="M21 4h1v1h-1z"/>
<path fill="#808000" d="M22 4h1v1h-1zM32 4h1v1h-1zM34 4h1v1h-1zM38 4h1v1h-1zM21 5h1v1h-1zM29 6h1v1h-1zM30 6h1v1h-1zM37 6h1v1h-1zM26 7h1v1h-1zM27 7h1v1h-1zM35 8h1v1h-1zM30 9h1v1h-1zM37 9h1v1h-1zM10 10h1v1h-1zM11 10h1v1h-1zM13 10h1v1h-1zM25 10h1v1h-1zM27 10h1v1h-1zM40 10h1v1h-1zM41 10h1v1h-1zM45 10h1v1h-1zM12 11h1v1h-1zM20 11h1v1h-1zM21 11h1v1h-1zM22 11h1v1h-1zM28 11h1v1h-1zM39 11h1v1h-1zM40 11h1v1h-1zM7 12h1v1h-1zM9 12h1v1h-1zM12 12h1v1h-1zM16 12h1v1h-1zM21 12h1v1h-1zM24 12h1v1h-1zM25 12h1v1h-1zM27 12h1v1h-1zM34 12h1v1h-1zM38 12h1v1h-1zM40 12h1v1h-1zM41 12h1v1h-1zM10 13h1v1h-1zM17 13h1v1h-1zM20 13h1v1h-1zM9 14h1v1h-1zM11 14h1v1h-1zM17 14h1v1h-1zM21 14h1v1h-1zM22 14h1v1h-1zM29 14h1v1h-1zM30 14h1v1h-1zM37 14h1v1h-1zM10 15h1v1h-1zM13 15h1v1h-1zM15 15h1v1h-1zM36 15h1v1h-1zM40 15h1v1h-1zM43 15h1v1h-1zM46 15h1v1h-1zM24 16h1v1h-1zM36 16h1v1h-1zM45 16h1v1h-1zM5 17h1v1h-1zM14 17h1v1h-1zM15 17h1v1h-1zM18 17h1v1h-1zM24 17h1v1h-1zM28 17h1v1h-1zM44 17h1v1h-1zM22 18h1v1h-1zM24 18h1v1h-1zM27 18h1v1h-1zM31 18h1v1h-1zM33 18h1v1h-1zM41 18h1v1h-1zM42 18h1v1h-1zM10 19h1v1h-1zM20 19h1v1h-1zM25 19h1v1h-1zM30 19h1v1h-1zM40 19h1v1h-1zM42 19h1v1h-1zM44 19h1v1h-1zM11 20h1v1h-1zM19 20h1v1h-1zM26 20h1v1h-1zM46 20h1v1h-1zM25 21h1v1h-1zM28 21h1v1h-1zM29 21h1v1h-1zM30 21h1v1h-1zM33 21h1v1h-1zM36 21h1v1h-1zM39 21h1v1h-1zM12 22h1v1h-1zM25 22h1v1h-1zM30 22h1v1h-1zM31 22h1v1h-1zM12 23h1v1h-1zM26 23h1v1h-1zM28 23h1v1h-1zM34 23h1v1h-1zM24 24h1v1h-1zM33 24h1v1h-1zM34 24h1v1h-1zM35 24h1v1h-1zM42 24h1v1h-1zM24 25h1v1h-1zM26 25h1v1h-1zM30 25h1v1h-1zM31 25h1v1h-1zM17 26h1v1h-1zM22 26h1v1h-1zM39 26h1v1h-1zM41 26h1v1h-1zM18 27h1v1h-1zM20 27h1v1h-1zM23 27h1v1h-1zM26 27h1v1h-1zM32 27h1v1h-1zM36 27h1v1h-1zM43 27h1v1h-1zM18 28h1v1h-1zM21 28h1v1h-1zM22 28h1v1h-1zM36 28h1v1h-1zM37 28h1v1h-1zM42 28h1v1h-1zM44 28h1v1h-1zM18 29h1v1h-1zM19 29h1v1h-1zM21 29h1v1h-1zM26 29h1v1h-1zM33 29h1v1h-1zM35 29h1v1h-1zM41 29h1v1h-1zM29 30h1v1h-1zM34 30h1v1h-1zM41 30h1v1h-1zM23 31h1v1h-1zM27 31h1v1h-1zM41 31h1v1h-1zM34 32h1v1h-1zM37 32h1v1h-1zM38 32h1v1h-1zM41 32h1v1h-1zM28 33h1v1h-1zM32 33h1v1h-1zM34 33h1v1h-1zM39 33h1v1h-1z"/>
<path fill="#00ff00" d="M25 4h1v1h-1zM31 4h1v1h-1zM36 4h1v1h-1zM22 5h1v1h-1zM33 5h1v1h-1zM34 5h1v1h-1zM23 6h1v1h-1zM25 6h1v1h-1zM22 7h1v1h-1zM21 8h1v1h-1zM25 8h1v1h-1zM39 8h1v1h-1zM40 8h1v1h-1zM43 8h1v1h-1zM35 9h1v1h-1zM38 9h1v1h-1zM41 9h1v1h-1zM44 10h1v1h-1zM30 11h1v1h-1zM41 11h1v1h-1zM42 11h1v1h-1zM44 11h1v1h-1zM13 12h1v1h-1zM19 12h1v1h-1zM7 13h1v1h-1zM14 13h1v1h-1zM21 13h1v1h-1zM42 13h1v1h-1zM5 14h1v1h-1zM23 14h1v1h-1zM34 14h1v1h-1zM46 14h1v1h-1zM12 15h1v1h-1zM21 15h1v1h-1zM22 15h1v1h-1zM30 15h1v1h-1zM38 15h1v1h-1zM17 16h1v1h-1zM19 16h1v1h-1zM20 16h1v1h-1zM21 16h1v1h-1zM29 16h1v1h-1zM30 16h1v1h-1zM47 16h1v1h-1zM32 17h1v1h-1zM43 17h1v1h-1zM18 18h1v1h-1zM21 18h1v1h-1zM23 18h1v1h-1zM25 18h1v1h-1zM30 18h1v1h-1zM7 19h1v1h-1zM8 19h1v1h-1zM9 19h1v1h-1zM11 19h1v1h-1zM21 19h1v1h-1zM33 19h1v1h-1zM39 19h1v1h-1zM16 20h1v1h-1zM22 20h1v1h-1zM41 20h1v1h-1zM12 21h1v1h-1zM15 21h1v1h-1zM16 21h1v1h-1zM19 21h1v1h-1zM23 21h1v1h-1zM41 21h1v1h-1zM43 21h1v1h-1zM13 22h1v1h-1zM29 22h1v1h-1zM33 22h1v1h-1zM35 22h1v1h-1zM45 22h1v1h-1zM15 23h1v1h-1zM20 23h1v1h-1zM25 23h1v1h-1zM39 23h1v1h-1zM14 24h1v1h-1zM40 24h1v1h-1zM25 25h1v1h-1zM29 25h1v1h-1zM33 25h1v1h-1zM34 25h1v1h-1zM42 25h1v1h-1zM45 25h1v1h-1zM46 25h1v1h-1zM47 25h1v1h-1zM23 26h1v1h-1zM26 26h1v1h-1zM36 26h1v1h-1zM44 26h1v1h-1zM27 27h1v1h-1zM28 27h1v1h-1zM39 27h1v1h-1zM40 27h1v1h-1zM23 28h1v1h-1zM24 28h1v1h-1zM26 28h1v1h-1zM27 28h1v1h-1zM35 28h1v1h-1zM41 28h1v1h-1zM45 28h1v1h-1zM34 29h1v1h-1zM39 29h1v1h-1zM23 30h1v1h-1zM25 30h1v1h-1zM28 30h1v1h-1zM36 30h1v1h-1zM38 30h1v1h-1zM32 31h1v1h-1zM32 32h1v1h-1zM30 33h1v1h-1zM40 33h1v1h-1z"/>
<path fill="#669900" d="M33 4h1v1h-1zM27 5h1v1h-1zM28 8h1v1h-1zM15 10h1v1h-1zM17 10h1v1h-1zM23 10h1v1h-1zM36 10h1v1h-1zM10 11h1v1h-1zM14 11h1v1h-1zM19 11h1v1h-1zM26 11h1v1h-1zM36 11h1v1h-1zM37 11h1v1h-1zM45 11h1v1h-1zM10 12h1v1h-1zM17 12h1v1h-1zM18 12h1v1h-1zM19 13h1v1h-1zM27 13h1v1h-1zM18 14h1v1h-1zM42 14h1v1h-1zM7 15h1v1h-1zM6 16h1v1h-1zM12 16h1v1h-1zM16 16h1v1h-1zM23 16h1v1h-1zM41 16h1v1h-1zM17 17h1v1h-1zM19 17h1v1h-1zM40 17h1v1h-1zM12 18h1v1h-1zM15 18h1v1h-1zM16 18h1v1h-1zM19 18h1v1h-1zM17 19h1v1h-1zM22 19h1v1h-1zM23 19h1v1h-1zM14 20h1v1h-1zM21 20h1v1h-1zM24 20h1v1h-1zM25 20h1v1h-1zM27 20h1v1h-1zM40 20h1v1h-1zM45 20h1v1h-1zM37 21h1v1h-1zM42 21h1v1h-1zM46 21h1v1h-1zM20 22h1v1h-1zM46 22h1v1h-1zM24 23h1v1h-1zM44 23h1v1h-1zM47 23h1v1h-1zM17 24h1v1h-1zM31 24h1v1h-1zM44 24h1v1h-1zM46 24h1v1h-1zM20 25h1v1h-1zM32 26h1v1h-1zM37 26h1v1h-1zM42 26h1v1h-1zM30 27h1v1h-1zM34 27h1v1h-1zM41 27h1v1h-1zM25 28h1v1h-1zM28 28h1v1h-1zM33 28h1v1h-1zM24 29h1v1h-1zM30 29h1v1h-1zM32 29h1v1h-1zM20 30h1v1h-1zM24 30h1v1h-1zM31 30h1v1h-1zM35 30h1v1h-1zM37 30h1v1h-1zM39 30h1v1h-1zM42 30h1v1h-1zM43 30h1v1h-1zM24 31h1v1h-1zM25 31h1v1h-1zM28 31h1v1h-1zM34 31h1v1h-1zM40 31h1v1h-1zM23 32h1v1h-1zM24 32h1v1h-1zM27 32h1v1h-1zM29 32h1v1h-1zM26 33h1v1h-1z"/>
<path fill="#402a00" d="M42 4h1v1h-1z"/>
<path fill="#800000" d="M20 5h1v1h-1zM17 30h1v1h-1zM34 34h1v1h-1z"/>
<path fill="#664400" d="M43 5h1v1h-1zM44 6h1v1h-1z"/>
<path fill="#060f00" d="M13 6h1v1h-1zM49 16h1v1h-1zM49 17h1v1h-1zM42 34h1v1h-1zM43 34h1v1h-1zM23 35h1v1h-1zM37 35h1v1h-1z"/>
<path fill="#4db200" d="M31 6h1v1h-1zM40 6h1v1h-1zM19 9h1v1h-1zM14 10h1v1h-1zM15 11h1v1h-1zM5 13h1v1h-1zM15 13h1v1h-1zM28 13h1v1h-1zM15 14h1v1h-1zM24 14h1v1h-1zM28 14h1v1h-1zM14 15h1v1h-1zM15 16h1v1h-1zM18 16h1v1h-1zM16 17h1v1h-1zM20 17h1v1h-1zM21 17h1v1h-1zM9 18h1v1h-1zM13 18h1v1h-1zM17 18h1v1h-1zM46 18h1v1h-1zM12 19h1v1h-1zM14 19h1v1h-1zM15 19h1v1h-1zM47 19h1v1h-1zM13 20h1v1h-1zM18 20h1v1h-1zM14 21h1v1h-1zM45 21h1v1h-1zM15 22h1v1h-1zM24 22h1v1h-1zM40 22h1v1h-1zM13 23h1v1h-1zM21 23h1v1h-1zM32 23h1v1h-1zM15 24h1v1h-1zM15 25h1v1h-1zM39 25h1v1h-1zM29 26h1v1h-1zM35 26h1v1h-1zM22 27h1v1h-1zM35 27h1v1h-1zM31 28h1v1h-1zM27 29h1v1h-1zM28 29h1v1h-1zM40 29h1v1h-1zM19 30h1v1h-1zM30 31h1v1h-1zM38 31h1v1h-1zM39 31h1v1h-1zM31 32h1v1h-1zM40 32h1v1h-1zM36 33h1v1h-1zM37 33h1v1h-1zM38 33h1v1h-1z"/>
<path fill="#400000" d="M45 6h1v1h-1zM15 7h1v1h-1zM48 10h1v1h-1z"/>
<path fill="#734c00" d="M20 7h1v1h-1zM3 14h1v1h-1zM15 27h1v1h-1z"/>
<path fill="#ac1300" d="M45 7h1v1h-1z"/>
<path fill="#220800" d="M11 8h1v1h-1zM9 9h1v1h-1z"/>
<path fill="#4c3300" d="M14 8h1v1h-1z"/>
<path fill="#882200" d="M16 8h1v1h-1z"/>
<path fill="#aa0000" d="M17 8h1v1h-1zM46 8h1v1h-1zM47 9h1v1h-1z"/>
<path fill="#269900" d="M18 8h1v1h-1z"/>
<path fill="#4c7300" d="M19 8h1v1h-1z"/>
<path fill="#682d00" d="M11 9h1v1h-1zM13 25h1v1h-1z"/>
<path fill="#00d400" d="M12 9h1v1h-1zM10 21h1v1h-1z"/>
<path fill="#111a00" d="M4 10h1v1h-1zM48 24h1v1h-1zM12 25h1v1h-1zM41 34h1v1h-1zM36 35h1v1h-1z"/>
<path fill="#4c0800" d="M5 10h1v1h-1zM9 21h1v1h-1z"/>
<path fill="#353500" d="M6 10h1v1h-1zM37 34h1v1h-1z"/>
<path fill="#4a4a00" d="M7 10h1v1h-1z"/>
<path fill="#863900" d="M8 10h1v1h-1z"/>
<path fill="#592600" d="M4 11h1v1h-1z"/>
<path fill="#1a2600" d="M48 11h1v1h-1zM3 18h1v1h-1zM24 34h1v1h-1zM39 34h1v1h-1z"/>
<path fill="#005500" d="M48 12h1v1h-1zM48 17h1v1h-1zM48 19h1v1h-1zM25 34h1v1h-1zM27 34h1v1h-1zM28 34h1v1h-1zM32 34h1v1h-1z"/>
<path fill="#991100" d="M3 13h1v1h-1z"/>
<path fill="#33cc00" d="M9 13h1v1h-1zM8 16h1v1h-1zM24 19h1v1h-1zM46 19h1v1h-1zM47 20h1v1h-1zM16 22h1v1h-1zM37 25h1v1h-1zM46 26h1v1h-1zM33 27h1v1h-1zM38 27h1v1h-1zM34 28h1v1h-1zM38 28h1v1h-1zM31 29h1v1h-1zM38 29h1v1h-1zM42 29h1v1h-1zM27 30h1v1h-1zM33 30h1v1h-1zM29 31h1v1h-1zM36 32h1v1h-1zM31 33h1v1h-1z"/>
<path fill="#8c5e00" d="M3 15h1v1h-1zM11 22h1v1h-1z"/>
<path fill="#19e600" d="M45 15h1v1h-1zM27 26h1v1h-1zM28 26h1v1h-1zM29 27h1v1h-1zM33 31h1v1h-1z"/>
<path fill="#a44600" d="M3 16h1v1h-1z"/>
<path fill="#223300" d="M48 16h1v1h-1zM48 21h1v1h-1zM48 22h1v1h-1zM26 34h1v1h-1z"/>
<path fill="#661a00" d="M3 17h1v1h-1zM5 19h1v1h-1z"/>
<path fill="#006a00" d="M8 20h1v1h-1zM47 27h1v1h-1zM46 28h1v1h-1zM45 29h1v1h-1z"/>
<path fill="#2a2a00" d="M48 20h1v1h-1zM19 32h1v1h-1z"/>
<path fill="#155500" d="M12 24h1v1h-1zM33 34h1v1h-1z"/>
<path fill="#606000" d="M14 26h1v1h-1zM43 31h1v1h-1zM42 32h1v1h-1z"/>
<path fill="#441100" d="M15 28h1v1h-1zM42 33h1v1h-1z"/>
<path fill="#398600" d="M16 28h1v1h-1z"/>
<path fill="#4a2000" d="M16 29h1v1h-1z"/>
<path fill="#950000" d="M18 31h1v1h-1z"/>
<path fill="#041100" d="M17 32h1v1h-1zM32 36h1v1h-1z"/>
<path fill="#009500" d="M20 32h1v1h-1z"/>
<path fill="#204a00" d="M22 33h1v1h-1z"/>
<path fill="#337700" d="M23 33h1v1h-1z"/>
<path fill="#084c00" d="M31 34h1v1h-1z"/>
<path fill="#008000" d="M36 34h1v1h-1z"/>
<path fill="#332200" d="M38 34h1v1h-1z"/>
<path fill="#021300" d="M30 35h1v1h-1z"/>
<path fill="#063900" d="M34 35h1v1h-1z"/>
</g></g>
<g filter="url(#bp)"><g transform="translate(336.68 430.18) scale(7.54)" shape-rendering="crispEdges">
<path fill="#060f00" d="M17 1h1v1h-1zM20 1h1v1h-1zM32 1h1v1h-1zM33 1h1v1h-1zM34 2h1v1h-1zM36 3h1v1h-1zM1 14h1v1h-1zM41 17h1v1h-1zM5 18h1v1h-1zM42 18h1v1h-1zM7 19h1v1h-1zM7 20h1v1h-1zM9 22h1v1h-1zM42 22h1v1h-1zM10 23h1v1h-1zM41 23h1v1h-1zM39 24h1v1h-1zM16 28h1v1h-1zM17 29h1v1h-1zM27 30h1v1h-1zM32 30h1v1h-1zM34 30h1v1h-1z"/>
<path fill="#0b0b00" d="M18 1h1v1h-1zM40 14h1v1h-1zM40 15h1v1h-1zM40 16h1v1h-1zM4 17h1v1h-1zM8 20h1v1h-1zM8 21h1v1h-1zM11 24h1v1h-1zM14 27h1v1h-1zM28 30h1v1h-1zM29 30h1v1h-1zM35 30h1v1h-1z"/>
<path fill="#001500" d="M19 1h1v1h-1zM22 1h1v1h-1zM25 1h1v1h-1zM27 1h1v1h-1zM28 1h1v1h-1zM29 1h1v1h-1zM31 1h1v1h-1zM16 2h1v1h-1zM15 4h1v1h-1zM10 5h1v1h-1zM11 5h1v1h-1zM12 5h1v1h-1zM13 5h1v1h-1zM14 5h1v1h-1zM9 6h1v1h-1zM39 6h1v1h-1zM5 7h1v1h-1zM7 7h1v1h-1zM40 7h1v1h-1zM2 9h1v1h-1zM41 11h1v1h-1zM42 11h1v1h-1zM1 12h1v1h-1zM40 13h1v1h-1zM1 15h1v1h-1zM2 15h1v1h-1zM3 16h1v1h-1zM6 19h1v1h-1zM42 19h1v1h-1zM40 23h1v1h-1zM11 25h1v1h-1zM38 25h1v1h-1zM37 26h1v1h-1zM13 27h1v1h-1zM37 27h1v1h-1zM26 30h1v1h-1zM31 30h1v1h-1z"/>
<path fill="#021300" d="M21 1h1v1h-1zM14 4h1v1h-1zM36 4h1v1h-1zM37 4h1v1h-1zM37 5h1v1h-1zM38 5h1v1h-1zM8 6h1v1h-1zM10 6h1v1h-1zM2 16h1v1h-1zM41 16h1v1h-1z"/>
<path fill="#150000" d="M23 1h1v1h-1zM33 2h1v1h-1zM1 11h1v1h-1z"/>
<path fill="#041100" d="M24 1h1v1h-1zM26 1h1v1h-1zM30 1h1v1h-1zM15 2h1v1h-1zM35 2h1v1h-1zM15 3h1v1h-1zM13 4h1v1h-1zM40 6h1v1h-1zM41 7h1v1h-1zM4 8h1v1h-1zM41 8h1v1h-1zM40 12h1v1h-1zM41 22h1v1h-1zM12 26h1v1h-1zM38 26h1v1h-1zM35 29h1v1h-1z"/>
<path fill="#080d00" d="M34 1h1v1h-1zM35 3h1v1h-1zM6 7h1v1h-1zM3 8h1v1h-1zM42 8h1v1h-1zM1 9h1v1h-1zM1 10h1v1h-1zM1 13h1v1h-1zM5 17h1v1h-1zM6 18h1v1h-1zM42 20h1v1h-1zM8 23h1v1h-1zM9 23h1v1h-1zM9 24h1v1h-1zM12 25h1v1h-1zM13 26h1v1h-1zM15 28h1v1h-1zM36 28h1v1h-1zM18 29h1v1h-1zM19 29h1v1h-1zM36 29h1v1h-1zM23 30h1v1h-1z"/>
<path fill="#082200" d="M17 2h1v1h-1zM20 2h1v1h-1zM21 2h1v1h-1zM25 2h1v1h-1zM3 9h1v1h-1zM4 16h1v1h-1zM6 17h1v1h-1zM37 25h1v1h-1z"/>
<path fill="#111a00" d="M18 2h1v1h-1zM2 10h1v1h-1zM2 13h1v1h-1zM2 14h1v1h-1zM17 28h1v1h-1zM30 29h1v1h-1zM31 29h1v1h-1zM34 29h1v1h-1z"/>
<path fill="#0d1e00" d="M19 2h1v1h-1zM24 2h1v1h-1zM15 5h1v1h-1zM11 6h1v1h-1zM38 6h1v1h-1zM41 19h1v1h-1zM41 21h1v1h-1zM26 29h1v1h-1z"/>
<path fill="#002a00" d="M22 2h1v1h-1zM27 2h1v1h-1zM29 2h1v1h-1zM32 2h1v1h-1zM8 7h1v1h-1zM5 8h1v1h-1zM6 8h1v1h-1zM41 9h1v1h-1zM41 10h1v1h-1zM39 12h1v1h-1zM39 13h1v1h-1zM39 15h1v1h-1zM7 18h1v1h-1zM9 21h1v1h-1zM36 27h1v1h-1zM20 29h1v1h-1zM27 29h1v1h-1zM33 29h1v1h-1z"/>
<path fill="#042600" d="M23 2h1v1h-1zM34 3h1v1h-1z"/>
<path fill="#0d3300" d="M26 2h1v1h-1zM33 3h1v1h-1zM35 4h1v1h-1zM36 5h1v1h-1zM9 7h1v1h-1zM36 26h1v1h-1z"/>
<path fill="#004000" d="M28 2h1v1h-1zM30 2h1v1h-1zM12 6h1v1h-1zM37 6h1v1h-1zM39 7h1v1h-1zM40 8h1v1h-1zM2 11h1v1h-1zM40 11h1v1h-1zM2 12h1v1h-1zM5 16h1v1h-1zM39 16h1v1h-1zM8 19h1v1h-1zM10 22h1v1h-1zM40 22h1v1h-1zM39 23h1v1h-1zM19 28h1v1h-1z"/>
<path fill="#2a0000" d="M31 2h1v1h-1zM41 18h1v1h-1zM41 20h1v1h-1z"/>
<path fill="#132d00" d="M16 3h1v1h-1zM13 6h1v1h-1zM16 27h1v1h-1zM18 28h1v1h-1zM23 29h1v1h-1z"/>
<path fill="#00ff00" d="M17 3h1v1h-1zM20 3h1v1h-1zM21 3h1v1h-1zM22 3h1v1h-1zM25 3h1v1h-1zM26 3h1v1h-1zM30 3h1v1h-1zM17 4h1v1h-1zM19 4h1v1h-1zM20 4h1v1h-1zM21 4h1v1h-1zM24 4h1v1h-1zM28 4h1v1h-1zM29 4h1v1h-1zM30 4h1v1h-1zM32 4h1v1h-1zM18 5h1v1h-1zM19 5h1v1h-1zM21 5h1v1h-1zM24 5h1v1h-1zM26 5h1v1h-1zM27 5h1v1h-1zM28 5h1v1h-1zM29 5h1v1h-1zM30 5h1v1h-1zM32 5h1v1h-1zM34 5h1v1h-1zM17 6h1v1h-1zM18 6h1v1h-1zM20 6h1v1h-1zM21 6h1v1h-1zM22 6h1v1h-1zM23 6h1v1h-1zM24 6h1v1h-1zM26 6h1v1h-1zM27 6h1v1h-1zM29 6h1v1h-1zM34 6h1v1h-1zM35 6h1v1h-1zM15 7h1v1h-1zM17 7h1v1h-1zM19 7h1v1h-1zM20 7h1v1h-1zM21 7h1v1h-1zM22 7h1v1h-1zM23 7h1v1h-1zM25 7h1v1h-1zM26 7h1v1h-1zM29 7h1v1h-1zM34 7h1v1h-1zM10 8h1v1h-1zM12 8h1v1h-1zM14 8h1v1h-1zM15 8h1v1h-1zM18 8h1v1h-1zM19 8h1v1h-1zM22 8h1v1h-1zM25 8h1v1h-1zM30 8h1v1h-1zM31 8h1v1h-1zM32 8h1v1h-1zM37 8h1v1h-1zM38 8h1v1h-1zM9 9h1v1h-1zM13 9h1v1h-1zM14 9h1v1h-1zM16 9h1v1h-1zM17 9h1v1h-1zM18 9h1v1h-1zM23 9h1v1h-1zM25 9h1v1h-1zM26 9h1v1h-1zM27 9h1v1h-1zM29 9h1v1h-1zM31 9h1v1h-1zM32 9h1v1h-1zM33 9h1v1h-1zM37 9h1v1h-1zM4 10h1v1h-1zM5 10h1v1h-1zM6 10h1v1h-1zM7 10h1v1h-1zM8 10h1v1h-1zM9 10h1v1h-1zM10 10h1v1h-1zM12 10h1v1h-1zM14 10h1v1h-1zM15 10h1v1h-1zM16 10h1v1h-1zM19 10h1v1h-1zM21 10h1v1h-1zM22 10h1v1h-1zM26 10h1v1h-1zM29 10h1v1h-1zM32 10h1v1h-1zM34 10h1v1h-1zM36 10h1v1h-1zM37 10h1v1h-1zM3 11h1v1h-1zM4 11h1v1h-1zM5 11h1v1h-1zM8 11h1v1h-1zM9 11h1v1h-1zM13 11h1v1h-1zM14 11h1v1h-1zM15 11h1v1h-1zM17 11h1v1h-1zM19 11h1v1h-1zM29 11h1v1h-1zM31 11h1v1h-1zM34 11h1v1h-1zM36 11h1v1h-1zM38 11h1v1h-1zM3 12h1v1h-1zM4 12h1v1h-1zM5 12h1v1h-1zM8 12h1v1h-1zM9 12h1v1h-1zM10 12h1v1h-1zM11 12h1v1h-1zM12 12h1v1h-1zM13 12h1v1h-1zM14 12h1v1h-1zM15 12h1v1h-1zM17 12h1v1h-1zM19 12h1v1h-1zM20 12h1v1h-1zM22 12h1v1h-1zM28 12h1v1h-1zM33 12h1v1h-1zM34 12h1v1h-1zM5 13h1v1h-1zM7 13h1v1h-1zM8 13h1v1h-1zM9 13h1v1h-1zM11 13h1v1h-1zM13 13h1v1h-1zM15 13h1v1h-1zM17 13h1v1h-1zM22 13h1v1h-1zM24 13h1v1h-1zM32 13h1v1h-1zM33 13h1v1h-1zM35 13h1v1h-1zM36 13h1v1h-1zM6 14h1v1h-1zM8 14h1v1h-1zM10 14h1v1h-1zM13 14h1v1h-1zM14 14h1v1h-1zM16 14h1v1h-1zM18 14h1v1h-1zM23 14h1v1h-1zM24 14h1v1h-1zM30 14h1v1h-1zM33 14h1v1h-1zM35 14h1v1h-1zM37 14h1v1h-1zM6 15h1v1h-1zM9 15h1v1h-1zM11 15h1v1h-1zM19 15h1v1h-1zM20 15h1v1h-1zM22 15h1v1h-1zM23 15h1v1h-1zM24 15h1v1h-1zM27 15h1v1h-1zM8 16h1v1h-1zM9 16h1v1h-1zM10 16h1v1h-1zM11 16h1v1h-1zM14 16h1v1h-1zM15 16h1v1h-1zM23 16h1v1h-1zM26 16h1v1h-1zM27 16h1v1h-1zM29 16h1v1h-1zM34 16h1v1h-1zM36 16h1v1h-1zM11 17h1v1h-1zM17 17h1v1h-1zM24 17h1v1h-1zM25 17h1v1h-1zM27 17h1v1h-1zM29 17h1v1h-1zM32 17h1v1h-1zM9 18h1v1h-1zM12 18h1v1h-1zM17 18h1v1h-1zM18 18h1v1h-1zM20 18h1v1h-1zM25 18h1v1h-1zM27 18h1v1h-1zM28 18h1v1h-1zM31 18h1v1h-1zM35 18h1v1h-1zM13 19h1v1h-1zM14 19h1v1h-1zM16 19h1v1h-1zM19 19h1v1h-1zM22 19h1v1h-1zM24 19h1v1h-1zM26 19h1v1h-1zM27 19h1v1h-1zM30 19h1v1h-1zM33 19h1v1h-1zM37 19h1v1h-1zM39 19h1v1h-1zM13 20h1v1h-1zM18 20h1v1h-1zM19 20h1v1h-1zM22 20h1v1h-1zM33 20h1v1h-1zM34 20h1v1h-1zM38 20h1v1h-1zM11 21h1v1h-1zM20 21h1v1h-1zM22 21h1v1h-1zM23 21h1v1h-1zM24 21h1v1h-1zM27 21h1v1h-1zM33 21h1v1h-1zM37 21h1v1h-1zM12 22h1v1h-1zM16 22h1v1h-1zM18 22h1v1h-1zM21 22h1v1h-1zM29 22h1v1h-1zM30 22h1v1h-1zM32 22h1v1h-1zM33 22h1v1h-1zM35 22h1v1h-1zM38 22h1v1h-1zM16 23h1v1h-1zM20 23h1v1h-1zM22 23h1v1h-1zM25 23h1v1h-1zM28 23h1v1h-1zM30 23h1v1h-1zM37 23h1v1h-1zM14 24h1v1h-1zM19 24h1v1h-1zM21 24h1v1h-1zM27 24h1v1h-1zM36 24h1v1h-1zM15 25h1v1h-1zM18 25h1v1h-1zM22 25h1v1h-1zM23 25h1v1h-1zM26 25h1v1h-1zM27 25h1v1h-1zM28 25h1v1h-1zM29 25h1v1h-1zM35 25h1v1h-1zM23 26h1v1h-1zM32 26h1v1h-1zM33 26h1v1h-1zM27 27h1v1h-1zM31 27h1v1h-1zM32 27h1v1h-1zM33 27h1v1h-1z"/>
<path fill="#808000" d="M18 3h1v1h-1zM23 4h1v1h-1zM23 5h1v1h-1zM25 5h1v1h-1zM27 7h1v1h-1zM13 8h1v1h-1zM21 8h1v1h-1zM24 9h1v1h-1zM20 10h1v1h-1zM33 11h1v1h-1zM6 12h1v1h-1zM23 12h1v1h-1zM6 13h1v1h-1zM29 13h1v1h-1zM22 14h1v1h-1zM34 14h1v1h-1zM10 15h1v1h-1zM18 15h1v1h-1zM32 15h1v1h-1zM35 15h1v1h-1zM13 16h1v1h-1zM22 16h1v1h-1zM31 16h1v1h-1zM33 16h1v1h-1zM10 17h1v1h-1zM30 17h1v1h-1zM13 18h1v1h-1zM16 18h1v1h-1zM21 18h1v1h-1zM29 19h1v1h-1zM34 19h1v1h-1zM36 19h1v1h-1zM38 19h1v1h-1zM15 20h1v1h-1zM27 20h1v1h-1zM12 21h1v1h-1zM15 21h1v1h-1zM16 21h1v1h-1zM30 21h1v1h-1zM34 21h1v1h-1zM13 22h1v1h-1zM14 22h1v1h-1zM19 22h1v1h-1zM37 22h1v1h-1zM15 23h1v1h-1zM34 23h1v1h-1zM17 24h1v1h-1zM20 24h1v1h-1zM22 24h1v1h-1zM30 24h1v1h-1zM31 24h1v1h-1zM32 24h1v1h-1zM16 25h1v1h-1zM31 25h1v1h-1zM32 25h1v1h-1zM19 26h1v1h-1zM22 26h1v1h-1zM24 26h1v1h-1zM25 26h1v1h-1zM30 26h1v1h-1zM35 26h1v1h-1zM26 27h1v1h-1zM29 27h1v1h-1z"/>
<path fill="#4db200" d="M19 3h1v1h-1zM23 3h1v1h-1zM28 3h1v1h-1zM22 4h1v1h-1zM27 4h1v1h-1zM17 5h1v1h-1zM19 6h1v1h-1zM14 7h1v1h-1zM24 7h1v1h-1zM32 7h1v1h-1zM33 7h1v1h-1zM37 7h1v1h-1zM11 8h1v1h-1zM34 8h1v1h-1zM36 8h1v1h-1zM10 9h1v1h-1zM12 9h1v1h-1zM20 9h1v1h-1zM28 9h1v1h-1zM38 9h1v1h-1zM39 9h1v1h-1zM13 10h1v1h-1zM23 10h1v1h-1zM25 10h1v1h-1zM33 10h1v1h-1zM39 10h1v1h-1zM7 11h1v1h-1zM10 11h1v1h-1zM16 11h1v1h-1zM20 11h1v1h-1zM26 11h1v1h-1zM16 12h1v1h-1zM18 12h1v1h-1zM27 12h1v1h-1zM31 12h1v1h-1zM26 13h1v1h-1zM11 14h1v1h-1zM17 14h1v1h-1zM19 14h1v1h-1zM20 14h1v1h-1zM21 14h1v1h-1zM26 14h1v1h-1zM8 15h1v1h-1zM12 15h1v1h-1zM26 15h1v1h-1zM29 15h1v1h-1zM30 15h1v1h-1zM37 15h1v1h-1zM12 16h1v1h-1zM17 16h1v1h-1zM18 16h1v1h-1zM21 16h1v1h-1zM24 16h1v1h-1zM25 16h1v1h-1zM35 16h1v1h-1zM9 17h1v1h-1zM16 17h1v1h-1zM37 17h1v1h-1zM39 17h1v1h-1zM10 18h1v1h-1zM14 18h1v1h-1zM15 18h1v1h-1zM23 18h1v1h-1zM30 18h1v1h-1zM33 18h1v1h-1zM36 18h1v1h-1zM12 19h1v1h-1zM18 19h1v1h-1zM25 19h1v1h-1zM35 19h1v1h-1zM11 20h1v1h-1zM21 20h1v1h-1zM23 20h1v1h-1zM26 20h1v1h-1zM30 20h1v1h-1zM36 20h1v1h-1zM37 20h1v1h-1zM19 21h1v1h-1zM26 21h1v1h-1zM36 21h1v1h-1zM15 22h1v1h-1zM28 22h1v1h-1zM36 22h1v1h-1zM13 23h1v1h-1zM26 23h1v1h-1zM32 23h1v1h-1zM25 24h1v1h-1zM35 24h1v1h-1zM14 25h1v1h-1zM17 25h1v1h-1zM19 25h1v1h-1zM20 25h1v1h-1zM21 25h1v1h-1zM24 25h1v1h-1zM30 25h1v1h-1zM26 26h1v1h-1zM29 26h1v1h-1zM34 26h1v1h-1zM24 27h1v1h-1z"/>
<path fill="#669900" d="M24 3h1v1h-1zM26 4h1v1h-1zM22 5h1v1h-1zM30 6h1v1h-1zM18 7h1v1h-1zM16 8h1v1h-1zM20 8h1v1h-1zM23 8h1v1h-1zM27 8h1v1h-1zM29 8h1v1h-1zM33 8h1v1h-1zM35 8h1v1h-1zM11 9h1v1h-1zM19 9h1v1h-1zM22 9h1v1h-1zM30 9h1v1h-1zM34 9h1v1h-1zM11 10h1v1h-1zM17 10h1v1h-1zM18 10h1v1h-1zM27 10h1v1h-1zM28 10h1v1h-1zM30 10h1v1h-1zM32 11h1v1h-1zM35 11h1v1h-1zM37 11h1v1h-1zM21 12h1v1h-1zM4 13h1v1h-1zM10 13h1v1h-1zM14 13h1v1h-1zM19 13h1v1h-1zM25 13h1v1h-1zM27 13h1v1h-1zM31 13h1v1h-1zM5 14h1v1h-1zM7 14h1v1h-1zM9 14h1v1h-1zM12 14h1v1h-1zM15 14h1v1h-1zM27 14h1v1h-1zM13 15h1v1h-1zM14 15h1v1h-1zM15 15h1v1h-1zM16 15h1v1h-1zM17 15h1v1h-1zM21 15h1v1h-1zM31 15h1v1h-1zM34 15h1v1h-1zM16 16h1v1h-1zM20 16h1v1h-1zM28 16h1v1h-1zM13 17h1v1h-1zM18 17h1v1h-1zM19 17h1v1h-1zM21 17h1v1h-1zM31 17h1v1h-1zM33 17h1v1h-1zM35 17h1v1h-1zM11 18h1v1h-1zM26 18h1v1h-1zM32 18h1v1h-1zM37 18h1v1h-1zM39 18h1v1h-1zM10 19h1v1h-1zM11 19h1v1h-1zM28 19h1v1h-1zM32 19h1v1h-1zM10 20h1v1h-1zM12 20h1v1h-1zM14 20h1v1h-1zM16 20h1v1h-1zM17 20h1v1h-1zM25 20h1v1h-1zM28 20h1v1h-1zM29 20h1v1h-1zM14 21h1v1h-1zM21 21h1v1h-1zM28 21h1v1h-1zM29 21h1v1h-1zM35 21h1v1h-1zM38 21h1v1h-1zM20 22h1v1h-1zM26 22h1v1h-1zM27 22h1v1h-1zM12 23h1v1h-1zM14 23h1v1h-1zM17 23h1v1h-1zM18 23h1v1h-1zM21 23h1v1h-1zM23 23h1v1h-1zM29 23h1v1h-1zM31 23h1v1h-1zM33 23h1v1h-1zM36 23h1v1h-1zM13 24h1v1h-1zM16 24h1v1h-1zM18 24h1v1h-1zM23 24h1v1h-1zM24 24h1v1h-1zM28 24h1v1h-1zM29 24h1v1h-1zM33 24h1v1h-1zM33 25h1v1h-1zM16 26h1v1h-1zM21 26h1v1h-1zM19 27h1v1h-1zM34 27h1v1h-1z"/>
<path fill="#19e600" d="M27 3h1v1h-1zM29 3h1v1h-1zM13 7h1v1h-1zM36 7h1v1h-1zM17 8h1v1h-1zM8 9h1v1h-1zM36 9h1v1h-1zM11 11h1v1h-1zM18 11h1v1h-1zM23 11h1v1h-1zM27 11h1v1h-1zM7 12h1v1h-1zM35 12h1v1h-1zM18 13h1v1h-1zM23 13h1v1h-1zM34 13h1v1h-1zM29 14h1v1h-1zM28 15h1v1h-1zM7 16h1v1h-1zM26 17h1v1h-1zM19 18h1v1h-1zM23 19h1v1h-1zM24 23h1v1h-1zM31 26h1v1h-1z"/>
<path fill="#409500" d="M31 3h1v1h-1z"/>
<path fill="#265900" d="M32 3h1v1h-1zM38 7h1v1h-1zM6 16h1v1h-1zM23 28h1v1h-1z"/>
<path fill="#005500" d="M16 4h1v1h-1zM10 7h1v1h-1zM7 8h1v1h-1z"/>
<path fill="#33cc00" d="M18 4h1v1h-1zM31 4h1v1h-1zM20 5h1v1h-1zM31 5h1v1h-1zM33 5h1v1h-1zM31 6h1v1h-1zM32 6h1v1h-1zM33 6h1v1h-1zM16 7h1v1h-1zM28 7h1v1h-1zM30 7h1v1h-1zM31 7h1v1h-1zM35 7h1v1h-1zM24 8h1v1h-1zM26 8h1v1h-1zM7 9h1v1h-1zM24 10h1v1h-1zM31 10h1v1h-1zM35 10h1v1h-1zM38 10h1v1h-1zM6 11h1v1h-1zM12 11h1v1h-1zM24 11h1v1h-1zM25 11h1v1h-1zM24 12h1v1h-1zM25 12h1v1h-1zM26 12h1v1h-1zM29 12h1v1h-1zM30 12h1v1h-1zM32 12h1v1h-1zM36 12h1v1h-1zM37 12h1v1h-1zM12 13h1v1h-1zM16 13h1v1h-1zM30 13h1v1h-1zM37 13h1v1h-1zM4 14h1v1h-1zM28 14h1v1h-1zM31 14h1v1h-1zM32 14h1v1h-1zM36 14h1v1h-1zM5 15h1v1h-1zM7 15h1v1h-1zM25 15h1v1h-1zM33 15h1v1h-1zM19 16h1v1h-1zM30 16h1v1h-1zM15 17h1v1h-1zM23 17h1v1h-1zM34 17h1v1h-1zM38 17h1v1h-1zM22 18h1v1h-1zM29 18h1v1h-1zM34 18h1v1h-1zM20 19h1v1h-1zM21 19h1v1h-1zM20 20h1v1h-1zM24 20h1v1h-1zM31 20h1v1h-1zM32 20h1v1h-1zM39 20h1v1h-1zM17 21h1v1h-1zM18 21h1v1h-1zM25 21h1v1h-1zM32 21h1v1h-1zM25 22h1v1h-1zM19 23h1v1h-1zM34 24h1v1h-1zM25 25h1v1h-1zM18 26h1v1h-1zM28 26h1v1h-1zM20 27h1v1h-1z"/>
<path fill="#ff0000" d="M25 4h1v1h-1zM25 6h1v1h-1zM28 8h1v1h-1zM15 9h1v1h-1zM28 11h1v1h-1zM30 11h1v1h-1zM21 13h1v1h-1zM28 13h1v1h-1zM25 14h1v1h-1zM37 16h1v1h-1zM8 17h1v1h-1zM20 17h1v1h-1zM22 17h1v1h-1zM28 17h1v1h-1zM24 18h1v1h-1zM15 19h1v1h-1zM35 20h1v1h-1zM13 21h1v1h-1zM31 21h1v1h-1zM39 21h1v1h-1zM17 22h1v1h-1zM23 22h1v1h-1zM24 22h1v1h-1zM27 23h1v1h-1zM26 24h1v1h-1zM20 26h1v1h-1zM25 27h1v1h-1zM28 27h1v1h-1z"/>
<path fill="#00bf00" d="M33 4h1v1h-1zM9 8h1v1h-1zM18 27h1v1h-1z"/>
<path fill="#196600" d="M34 4h1v1h-1zM31 28h1v1h-1z"/>
<path fill="#006a00" d="M16 5h1v1h-1zM14 6h1v1h-1zM11 7h1v1h-1zM3 15h1v1h-1zM37 24h1v1h-1zM35 28h1v1h-1z"/>
<path fill="#15bf00" d="M35 5h1v1h-1z"/>
<path fill="#119900" d="M15 6h1v1h-1z"/>
<path fill="#558000" d="M16 6h1v1h-1zM9 19h1v1h-1z"/>
<path fill="#996600" d="M28 6h1v1h-1zM35 9h1v1h-1zM21 11h1v1h-1zM22 11h1v1h-1zM20 13h1v1h-1zM36 15h1v1h-1zM32 16h1v1h-1zM12 17h1v1h-1zM14 17h1v1h-1zM36 17h1v1h-1zM38 18h1v1h-1zM17 19h1v1h-1zM31 19h1v1h-1zM22 22h1v1h-1zM31 22h1v1h-1zM34 22h1v1h-1zM15 24h1v1h-1zM34 25h1v1h-1zM17 26h1v1h-1zM27 26h1v1h-1zM30 27h1v1h-1z"/>
<path fill="#00d400" d="M36 6h1v1h-1zM38 16h1v1h-1zM11 22h1v1h-1z"/>
<path fill="#13ac00" d="M12 7h1v1h-1z"/>
<path fill="#008000" d="M8 8h1v1h-1zM40 9h1v1h-1zM40 18h1v1h-1zM36 25h1v1h-1zM17 27h1v1h-1zM29 28h1v1h-1zM30 28h1v1h-1zM33 28h1v1h-1z"/>
<path fill="#228800" d="M39 8h1v1h-1zM4 15h1v1h-1z"/>
<path fill="#084c00" d="M4 9h1v1h-1z"/>
<path fill="#00aa00" d="M5 9h1v1h-1zM38 14h1v1h-1zM38 15h1v1h-1z"/>
<path fill="#00ea00" d="M6 9h1v1h-1z"/>
<path fill="#b24c00" d="M21 9h1v1h-1zM35 23h1v1h-1zM21 27h1v1h-1z"/>
<path fill="#5e8c00" d="M3 10h1v1h-1z"/>
<path fill="#2a4000" d="M40 10h1v1h-1zM11 23h1v1h-1z"/>
<path fill="#2d6800" d="M39 11h1v1h-1zM38 13h1v1h-1z"/>
<path fill="#337700" d="M38 12h1v1h-1zM3 13h1v1h-1zM38 23h1v1h-1z"/>
<path fill="#555500" d="M3 14h1v1h-1zM10 21h1v1h-1z"/>
<path fill="#2d1300" d="M39 14h1v1h-1zM24 29h1v1h-1zM32 29h1v1h-1z"/>
<path fill="#3c5900" d="M7 17h1v1h-1zM8 18h1v1h-1z"/>
<path fill="#402a00" d="M40 17h1v1h-1zM40 19h1v1h-1zM14 26h1v1h-1z"/>
<path fill="#204a00" d="M9 20h1v1h-1zM21 28h1v1h-1z"/>
<path fill="#009500" d="M40 20h1v1h-1zM26 28h1v1h-1z"/>
<path fill="#334c00" d="M40 21h1v1h-1zM24 28h1v1h-1zM28 28h1v1h-1zM34 28h1v1h-1z"/>
<path fill="#bf0000" d="M39 22h1v1h-1zM15 26h1v1h-1z"/>
<path fill="#0d0800" d="M10 24h1v1h-1zM16 29h1v1h-1zM20 30h1v1h-1zM22 30h1v1h-1zM33 30h1v1h-1z"/>
<path fill="#155500" d="M12 24h1v1h-1zM13 25h1v1h-1z"/>
<path fill="#261a00" d="M38 24h1v1h-1zM21 29h1v1h-1z"/>
<path fill="#1a2600" d="M15 27h1v1h-1z"/>
<path fill="#cc3300" d="M22 27h1v1h-1zM23 27h1v1h-1z"/>
<path fill="#2fbb00" d="M35 27h1v1h-1z"/>
<path fill="#6a0000" d="M20 28h1v1h-1z"/>
<path fill="#4c3300" d="M22 28h1v1h-1z"/>
<path fill="#353500" d="M25 28h1v1h-1z"/>
<path fill="#404000" d="M27 28h1v1h-1z"/>
<path fill="#0d7300" d="M32 28h1v1h-1z"/>
<path fill="#202000" d="M22 29h1v1h-1z"/>
<path fill="#1a1100" d="M25 29h1v1h-1zM29 29h1v1h-1z"/>
<path fill="#151500" d="M28 29h1v1h-1z"/>
<path fill="#0f0600" d="M21 30h1v1h-1zM24 30h1v1h-1zM25 30h1v1h-1zM30 30h1v1h-1z"/>
</g></g>
<g filter="url(#bp)"><g transform="translate(646.00 415.00) scale(7.3)" shape-rendering="crispEdges">
<path fill="#080d00" d="M18 1h1v1h-1zM20 1h1v1h-1zM22 1h1v1h-1zM24 1h1v1h-1zM29 1h1v1h-1zM30 1h1v1h-1zM32 1h1v1h-1zM16 2h1v1h-1zM34 2h1v1h-1zM38 3h1v1h-1zM40 5h1v1h-1zM12 6h1v1h-1zM15 6h1v1h-1zM40 6h1v1h-1zM41 6h1v1h-1zM43 7h1v1h-1zM6 8h1v1h-1zM9 8h1v1h-1zM44 11h1v1h-1zM1 12h1v1h-1zM44 12h1v1h-1zM43 14h1v1h-1zM43 15h1v1h-1zM43 16h1v1h-1zM2 17h1v1h-1zM43 17h1v1h-1zM2 18h1v1h-1zM44 19h1v1h-1zM44 20h1v1h-1zM7 21h1v1h-1zM44 22h1v1h-1zM8 23h1v1h-1zM44 24h1v1h-1zM12 25h1v1h-1zM44 25h1v1h-1zM43 26h1v1h-1zM12 27h1v1h-1zM41 27h1v1h-1zM42 27h1v1h-1zM12 28h1v1h-1zM40 28h1v1h-1zM39 30h1v1h-1zM20 32h1v1h-1zM21 33h1v1h-1zM24 33h1v1h-1zM25 33h1v1h-1zM28 33h1v1h-1zM32 33h1v1h-1zM34 33h1v1h-1z"/>
<path fill="#0b0b00" d="M19 1h1v1h-1zM21 1h1v1h-1zM26 1h1v1h-1zM16 3h1v1h-1zM16 4h1v1h-1zM16 5h1v1h-1zM39 5h1v1h-1zM13 6h1v1h-1zM11 7h1v1h-1zM7 8h1v1h-1zM10 8h1v1h-1zM2 9h1v1h-1zM2 10h1v1h-1zM44 10h1v1h-1zM43 12h1v1h-1zM43 13h1v1h-1zM1 14h1v1h-1zM1 15h1v1h-1zM3 18h1v1h-1zM5 19h1v1h-1zM44 21h1v1h-1zM44 23h1v1h-1zM8 24h1v1h-1zM10 24h1v1h-1zM11 25h1v1h-1zM12 26h1v1h-1zM43 27h1v1h-1zM14 29h1v1h-1zM17 30h1v1h-1zM37 32h1v1h-1zM38 32h1v1h-1zM27 33h1v1h-1zM30 33h1v1h-1zM36 33h1v1h-1z"/>
<path fill="#0d0800" d="M23 1h1v1h-1zM17 2h1v1h-1zM19 31h1v1h-1z"/>
<path fill="#041100" d="M25 1h1v1h-1zM28 1h1v1h-1zM37 3h1v1h-1zM38 4h1v1h-1zM43 18h1v1h-1zM4 19h1v1h-1zM6 19h1v1h-1zM8 21h1v1h-1zM8 22h1v1h-1zM39 29h1v1h-1zM35 33h1v1h-1z"/>
<path fill="#060f00" d="M27 1h1v1h-1zM31 1h1v1h-1zM35 2h1v1h-1zM36 3h1v1h-1zM39 4h1v1h-1zM14 6h1v1h-1zM16 6h1v1h-1zM42 7h1v1h-1zM3 8h1v1h-1zM4 8h1v1h-1zM8 8h1v1h-1zM44 8h1v1h-1zM3 9h1v1h-1zM44 9h1v1h-1zM1 11h1v1h-1zM1 13h1v1h-1zM1 16h1v1h-1zM7 20h1v1h-1zM8 20h1v1h-1zM9 23h1v1h-1zM9 24h1v1h-1zM44 26h1v1h-1zM15 29h1v1h-1zM40 29h1v1h-1zM16 30h1v1h-1zM18 31h1v1h-1zM38 31h1v1h-1zM21 32h1v1h-1zM22 33h1v1h-1zM23 33h1v1h-1zM26 33h1v1h-1zM29 33h1v1h-1zM31 33h1v1h-1zM33 33h1v1h-1z"/>
<path fill="#111a00" d="M18 2h1v1h-1zM26 2h1v1h-1zM27 2h1v1h-1zM29 2h1v1h-1zM17 3h1v1h-1zM34 3h1v1h-1zM35 3h1v1h-1zM37 4h1v1h-1zM17 5h1v1h-1zM12 7h1v1h-1zM11 8h1v1h-1zM10 9h1v1h-1zM2 16h1v1h-1zM43 19h1v1h-1zM43 20h1v1h-1zM9 22h1v1h-1zM43 23h1v1h-1zM13 25h1v1h-1zM13 26h1v1h-1zM14 28h1v1h-1zM23 32h1v1h-1zM26 32h1v1h-1zM28 32h1v1h-1zM30 32h1v1h-1zM32 32h1v1h-1zM34 32h1v1h-1z"/>
<path fill="#151500" d="M19 2h1v1h-1zM22 2h1v1h-1zM23 2h1v1h-1zM32 2h1v1h-1zM40 7h1v1h-1zM6 9h1v1h-1zM2 11h1v1h-1zM4 18h1v1h-1zM42 26h1v1h-1zM36 32h1v1h-1z"/>
<path fill="#1a2600" d="M20 2h1v1h-1zM36 4h1v1h-1zM38 5h1v1h-1zM39 6h1v1h-1zM15 7h1v1h-1zM17 7h1v1h-1zM5 9h1v1h-1zM7 9h1v1h-1zM8 9h1v1h-1zM2 12h1v1h-1zM42 13h1v1h-1zM42 16h1v1h-1zM42 17h1v1h-1zM5 18h1v1h-1zM43 21h1v1h-1zM43 24h1v1h-1zM13 27h1v1h-1zM16 29h1v1h-1zM25 32h1v1h-1z"/>
<path fill="#0d1e00" d="M21 2h1v1h-1zM25 2h1v1h-1zM30 2h1v1h-1zM31 2h1v1h-1zM14 7h1v1h-1zM41 7h1v1h-1zM4 9h1v1h-1zM7 19h1v1h-1zM9 21h1v1h-1zM22 32h1v1h-1zM27 32h1v1h-1zM29 32h1v1h-1z"/>
<path fill="#202000" d="M24 2h1v1h-1zM17 4h1v1h-1zM16 7h1v1h-1zM43 8h1v1h-1zM42 12h1v1h-1zM2 15h1v1h-1zM43 22h1v1h-1zM40 27h1v1h-1zM17 29h1v1h-1zM31 32h1v1h-1zM35 32h1v1h-1z"/>
<path fill="#132d00" d="M28 2h1v1h-1zM17 6h1v1h-1zM9 9h1v1h-1zM43 11h1v1h-1zM2 13h1v1h-1zM2 14h1v1h-1zM42 14h1v1h-1zM42 15h1v1h-1zM3 17h1v1h-1zM42 18h1v1h-1zM9 20h1v1h-1zM10 23h1v1h-1zM39 28h1v1h-1zM38 30h1v1h-1zM24 32h1v1h-1zM33 32h1v1h-1z"/>
<path fill="#082200" d="M33 2h1v1h-1zM43 25h1v1h-1z"/>
<path fill="#265900" d="M18 3h1v1h-1zM41 8h1v1h-1z"/>
<path fill="#669900" d="M19 3h1v1h-1zM20 3h1v1h-1zM21 3h1v1h-1zM23 3h1v1h-1zM25 3h1v1h-1zM26 3h1v1h-1zM27 3h1v1h-1zM29 3h1v1h-1zM19 4h1v1h-1zM20 4h1v1h-1zM21 4h1v1h-1zM25 4h1v1h-1zM28 4h1v1h-1zM29 4h1v1h-1zM31 4h1v1h-1zM33 4h1v1h-1zM20 5h1v1h-1zM21 5h1v1h-1zM23 5h1v1h-1zM24 5h1v1h-1zM27 5h1v1h-1zM33 5h1v1h-1zM35 5h1v1h-1zM22 6h1v1h-1zM24 6h1v1h-1zM25 6h1v1h-1zM29 6h1v1h-1zM30 6h1v1h-1zM31 6h1v1h-1zM32 6h1v1h-1zM19 7h1v1h-1zM21 7h1v1h-1zM22 7h1v1h-1zM28 7h1v1h-1zM30 7h1v1h-1zM32 7h1v1h-1zM33 7h1v1h-1zM35 7h1v1h-1zM37 7h1v1h-1zM38 7h1v1h-1zM14 8h1v1h-1zM15 8h1v1h-1zM17 8h1v1h-1zM18 8h1v1h-1zM19 8h1v1h-1zM22 8h1v1h-1zM23 8h1v1h-1zM28 8h1v1h-1zM30 8h1v1h-1zM37 8h1v1h-1zM13 9h1v1h-1zM16 9h1v1h-1zM25 9h1v1h-1zM26 9h1v1h-1zM29 9h1v1h-1zM30 9h1v1h-1zM31 9h1v1h-1zM35 9h1v1h-1zM36 9h1v1h-1zM40 9h1v1h-1zM42 9h1v1h-1zM5 10h1v1h-1zM6 10h1v1h-1zM7 10h1v1h-1zM12 10h1v1h-1zM14 10h1v1h-1zM15 10h1v1h-1zM17 10h1v1h-1zM23 10h1v1h-1zM26 10h1v1h-1zM29 10h1v1h-1zM32 10h1v1h-1zM33 10h1v1h-1zM42 10h1v1h-1zM6 11h1v1h-1zM15 11h1v1h-1zM16 11h1v1h-1zM22 11h1v1h-1zM24 11h1v1h-1zM25 11h1v1h-1zM33 11h1v1h-1zM37 11h1v1h-1zM39 11h1v1h-1zM3 12h1v1h-1zM6 12h1v1h-1zM8 12h1v1h-1zM9 12h1v1h-1zM10 12h1v1h-1zM14 12h1v1h-1zM16 12h1v1h-1zM20 12h1v1h-1zM24 12h1v1h-1zM28 12h1v1h-1zM29 12h1v1h-1zM31 12h1v1h-1zM39 12h1v1h-1zM4 13h1v1h-1zM7 13h1v1h-1zM9 13h1v1h-1zM10 13h1v1h-1zM11 13h1v1h-1zM14 13h1v1h-1zM18 13h1v1h-1zM35 13h1v1h-1zM37 13h1v1h-1zM38 13h1v1h-1zM39 13h1v1h-1zM3 14h1v1h-1zM4 14h1v1h-1zM5 14h1v1h-1zM7 14h1v1h-1zM8 14h1v1h-1zM15 14h1v1h-1zM19 14h1v1h-1zM21 14h1v1h-1zM22 14h1v1h-1zM28 14h1v1h-1zM31 14h1v1h-1zM32 14h1v1h-1zM33 14h1v1h-1zM34 14h1v1h-1zM37 14h1v1h-1zM38 14h1v1h-1zM40 14h1v1h-1zM3 15h1v1h-1zM6 15h1v1h-1zM7 15h1v1h-1zM13 15h1v1h-1zM14 15h1v1h-1zM16 15h1v1h-1zM18 15h1v1h-1zM19 15h1v1h-1zM21 15h1v1h-1zM26 15h1v1h-1zM27 15h1v1h-1zM30 15h1v1h-1zM31 15h1v1h-1zM32 15h1v1h-1zM35 15h1v1h-1zM37 15h1v1h-1zM6 16h1v1h-1zM7 16h1v1h-1zM10 16h1v1h-1zM14 16h1v1h-1zM16 16h1v1h-1zM18 16h1v1h-1zM19 16h1v1h-1zM20 16h1v1h-1zM21 16h1v1h-1zM26 16h1v1h-1zM27 16h1v1h-1zM29 16h1v1h-1zM33 16h1v1h-1zM35 16h1v1h-1zM36 16h1v1h-1zM39 16h1v1h-1zM40 16h1v1h-1zM8 17h1v1h-1zM11 17h1v1h-1zM12 17h1v1h-1zM13 17h1v1h-1zM14 17h1v1h-1zM15 17h1v1h-1zM16 17h1v1h-1zM17 17h1v1h-1zM19 17h1v1h-1zM32 17h1v1h-1zM35 17h1v1h-1zM36 17h1v1h-1zM11 18h1v1h-1zM13 18h1v1h-1zM17 18h1v1h-1zM19 18h1v1h-1zM21 18h1v1h-1zM22 18h1v1h-1zM23 18h1v1h-1zM25 18h1v1h-1zM27 18h1v1h-1zM30 18h1v1h-1zM37 18h1v1h-1zM38 18h1v1h-1zM12 19h1v1h-1zM13 19h1v1h-1zM15 19h1v1h-1zM19 19h1v1h-1zM20 19h1v1h-1zM23 19h1v1h-1zM25 19h1v1h-1zM27 19h1v1h-1zM28 19h1v1h-1zM30 19h1v1h-1zM32 19h1v1h-1zM37 19h1v1h-1zM41 19h1v1h-1zM12 20h1v1h-1zM14 20h1v1h-1zM17 20h1v1h-1zM21 20h1v1h-1zM24 20h1v1h-1zM27 20h1v1h-1zM28 20h1v1h-1zM31 20h1v1h-1zM32 20h1v1h-1zM36 20h1v1h-1zM37 20h1v1h-1zM39 20h1v1h-1zM41 20h1v1h-1zM11 21h1v1h-1zM12 21h1v1h-1zM13 21h1v1h-1zM14 21h1v1h-1zM15 21h1v1h-1zM16 21h1v1h-1zM19 21h1v1h-1zM20 21h1v1h-1zM22 21h1v1h-1zM25 21h1v1h-1zM31 21h1v1h-1zM32 21h1v1h-1zM34 21h1v1h-1zM38 21h1v1h-1zM41 21h1v1h-1zM42 21h1v1h-1zM14 22h1v1h-1zM16 22h1v1h-1zM17 22h1v1h-1zM20 22h1v1h-1zM25 22h1v1h-1zM26 22h1v1h-1zM27 22h1v1h-1zM28 22h1v1h-1zM29 22h1v1h-1zM33 22h1v1h-1zM40 22h1v1h-1zM41 22h1v1h-1zM16 23h1v1h-1zM17 23h1v1h-1zM19 23h1v1h-1zM27 23h1v1h-1zM28 23h1v1h-1zM30 23h1v1h-1zM38 23h1v1h-1zM41 23h1v1h-1zM42 23h1v1h-1zM17 24h1v1h-1zM20 24h1v1h-1zM21 24h1v1h-1zM23 24h1v1h-1zM26 24h1v1h-1zM29 24h1v1h-1zM30 24h1v1h-1zM32 24h1v1h-1zM36 24h1v1h-1zM37 24h1v1h-1zM39 24h1v1h-1zM41 24h1v1h-1zM16 25h1v1h-1zM20 25h1v1h-1zM21 25h1v1h-1zM22 25h1v1h-1zM28 25h1v1h-1zM29 25h1v1h-1zM34 25h1v1h-1zM36 25h1v1h-1zM38 25h1v1h-1zM16 26h1v1h-1zM18 26h1v1h-1zM21 26h1v1h-1zM23 26h1v1h-1zM26 26h1v1h-1zM28 26h1v1h-1zM30 26h1v1h-1zM32 26h1v1h-1zM38 26h1v1h-1zM15 27h1v1h-1zM19 27h1v1h-1zM20 27h1v1h-1zM23 27h1v1h-1zM33 27h1v1h-1zM34 27h1v1h-1zM38 27h1v1h-1zM23 28h1v1h-1zM25 28h1v1h-1zM26 28h1v1h-1zM28 28h1v1h-1zM31 28h1v1h-1zM34 28h1v1h-1zM36 28h1v1h-1zM37 28h1v1h-1zM20 29h1v1h-1zM26 29h1v1h-1zM35 29h1v1h-1zM36 29h1v1h-1zM28 30h1v1h-1zM29 30h1v1h-1zM33 30h1v1h-1zM34 30h1v1h-1zM36 30h1v1h-1zM37 30h1v1h-1z"/>
<path fill="#808000" d="M22 3h1v1h-1zM24 3h1v1h-1zM23 4h1v1h-1zM19 5h1v1h-1zM32 5h1v1h-1zM34 5h1v1h-1zM23 6h1v1h-1zM26 6h1v1h-1zM34 6h1v1h-1zM18 7h1v1h-1zM25 7h1v1h-1zM26 7h1v1h-1zM36 7h1v1h-1zM26 8h1v1h-1zM31 8h1v1h-1zM33 8h1v1h-1zM35 8h1v1h-1zM36 8h1v1h-1zM38 8h1v1h-1zM14 9h1v1h-1zM23 9h1v1h-1zM28 9h1v1h-1zM33 9h1v1h-1zM39 9h1v1h-1zM41 9h1v1h-1zM4 10h1v1h-1zM11 10h1v1h-1zM13 10h1v1h-1zM35 10h1v1h-1zM36 10h1v1h-1zM37 10h1v1h-1zM38 10h1v1h-1zM39 10h1v1h-1zM4 11h1v1h-1zM7 11h1v1h-1zM9 11h1v1h-1zM10 11h1v1h-1zM12 11h1v1h-1zM14 11h1v1h-1zM26 11h1v1h-1zM34 11h1v1h-1zM35 11h1v1h-1zM36 11h1v1h-1zM41 11h1v1h-1zM5 12h1v1h-1zM15 12h1v1h-1zM21 12h1v1h-1zM22 12h1v1h-1zM26 12h1v1h-1zM30 12h1v1h-1zM33 12h1v1h-1zM35 12h1v1h-1zM36 12h1v1h-1zM40 12h1v1h-1zM5 13h1v1h-1zM27 13h1v1h-1zM31 13h1v1h-1zM34 13h1v1h-1zM9 14h1v1h-1zM10 14h1v1h-1zM26 14h1v1h-1zM35 14h1v1h-1zM39 14h1v1h-1zM4 15h1v1h-1zM5 15h1v1h-1zM9 15h1v1h-1zM10 15h1v1h-1zM12 15h1v1h-1zM20 15h1v1h-1zM24 15h1v1h-1zM25 15h1v1h-1zM28 15h1v1h-1zM29 15h1v1h-1zM33 15h1v1h-1zM39 15h1v1h-1zM4 16h1v1h-1zM9 16h1v1h-1zM17 16h1v1h-1zM28 16h1v1h-1zM30 16h1v1h-1zM32 16h1v1h-1zM38 16h1v1h-1zM5 17h1v1h-1zM18 17h1v1h-1zM24 17h1v1h-1zM26 17h1v1h-1zM29 17h1v1h-1zM33 17h1v1h-1zM40 17h1v1h-1zM8 18h1v1h-1zM10 18h1v1h-1zM14 18h1v1h-1zM16 18h1v1h-1zM18 18h1v1h-1zM31 18h1v1h-1zM35 18h1v1h-1zM16 19h1v1h-1zM26 19h1v1h-1zM29 19h1v1h-1zM34 19h1v1h-1zM35 19h1v1h-1zM38 19h1v1h-1zM40 19h1v1h-1zM15 20h1v1h-1zM22 20h1v1h-1zM26 20h1v1h-1zM30 20h1v1h-1zM33 20h1v1h-1zM17 21h1v1h-1zM21 21h1v1h-1zM23 21h1v1h-1zM39 21h1v1h-1zM15 22h1v1h-1zM21 22h1v1h-1zM22 22h1v1h-1zM23 22h1v1h-1zM42 22h1v1h-1zM18 23h1v1h-1zM21 23h1v1h-1zM22 23h1v1h-1zM24 23h1v1h-1zM26 23h1v1h-1zM29 23h1v1h-1zM35 23h1v1h-1zM19 24h1v1h-1zM22 24h1v1h-1zM28 24h1v1h-1zM18 25h1v1h-1zM19 25h1v1h-1zM23 25h1v1h-1zM26 25h1v1h-1zM20 26h1v1h-1zM18 27h1v1h-1zM21 27h1v1h-1zM22 27h1v1h-1zM32 27h1v1h-1zM37 27h1v1h-1zM17 28h1v1h-1zM20 28h1v1h-1zM22 28h1v1h-1zM24 28h1v1h-1zM27 28h1v1h-1zM30 28h1v1h-1zM32 28h1v1h-1zM19 29h1v1h-1zM22 29h1v1h-1zM25 29h1v1h-1zM32 29h1v1h-1zM21 30h1v1h-1zM22 30h1v1h-1z"/>
<path fill="#4db200" d="M28 3h1v1h-1zM24 4h1v1h-1zM27 4h1v1h-1zM32 4h1v1h-1zM22 5h1v1h-1zM26 5h1v1h-1zM28 5h1v1h-1zM30 5h1v1h-1zM19 6h1v1h-1zM20 6h1v1h-1zM27 6h1v1h-1zM28 6h1v1h-1zM35 6h1v1h-1zM36 6h1v1h-1zM37 6h1v1h-1zM23 7h1v1h-1zM24 7h1v1h-1zM27 7h1v1h-1zM31 7h1v1h-1zM13 8h1v1h-1zM16 8h1v1h-1zM20 8h1v1h-1zM24 8h1v1h-1zM27 8h1v1h-1zM29 8h1v1h-1zM15 9h1v1h-1zM17 9h1v1h-1zM19 9h1v1h-1zM32 9h1v1h-1zM37 9h1v1h-1zM38 9h1v1h-1zM9 10h1v1h-1zM10 10h1v1h-1zM18 10h1v1h-1zM19 10h1v1h-1zM20 10h1v1h-1zM21 10h1v1h-1zM27 10h1v1h-1zM30 10h1v1h-1zM31 10h1v1h-1zM41 10h1v1h-1zM8 11h1v1h-1zM13 11h1v1h-1zM17 11h1v1h-1zM20 11h1v1h-1zM21 11h1v1h-1zM23 11h1v1h-1zM28 11h1v1h-1zM30 11h1v1h-1zM31 11h1v1h-1zM4 12h1v1h-1zM7 12h1v1h-1zM11 12h1v1h-1zM12 12h1v1h-1zM13 12h1v1h-1zM17 12h1v1h-1zM19 12h1v1h-1zM23 12h1v1h-1zM25 12h1v1h-1zM27 12h1v1h-1zM32 12h1v1h-1zM37 12h1v1h-1zM38 12h1v1h-1zM12 13h1v1h-1zM13 13h1v1h-1zM15 13h1v1h-1zM16 13h1v1h-1zM17 13h1v1h-1zM21 13h1v1h-1zM29 13h1v1h-1zM30 13h1v1h-1zM33 13h1v1h-1zM36 13h1v1h-1zM40 13h1v1h-1zM11 14h1v1h-1zM12 14h1v1h-1zM14 14h1v1h-1zM16 14h1v1h-1zM17 14h1v1h-1zM18 14h1v1h-1zM20 14h1v1h-1zM25 14h1v1h-1zM27 14h1v1h-1zM8 15h1v1h-1zM11 15h1v1h-1zM17 15h1v1h-1zM22 15h1v1h-1zM23 15h1v1h-1zM36 15h1v1h-1zM38 15h1v1h-1zM40 15h1v1h-1zM5 16h1v1h-1zM12 16h1v1h-1zM13 16h1v1h-1zM23 16h1v1h-1zM24 16h1v1h-1zM31 16h1v1h-1zM37 16h1v1h-1zM7 17h1v1h-1zM9 17h1v1h-1zM10 17h1v1h-1zM21 17h1v1h-1zM23 17h1v1h-1zM27 17h1v1h-1zM30 17h1v1h-1zM37 17h1v1h-1zM39 17h1v1h-1zM9 18h1v1h-1zM12 18h1v1h-1zM15 18h1v1h-1zM24 18h1v1h-1zM26 18h1v1h-1zM33 18h1v1h-1zM39 18h1v1h-1zM40 18h1v1h-1zM14 19h1v1h-1zM17 19h1v1h-1zM21 19h1v1h-1zM22 19h1v1h-1zM24 19h1v1h-1zM31 19h1v1h-1zM36 19h1v1h-1zM39 19h1v1h-1zM10 20h1v1h-1zM11 20h1v1h-1zM18 20h1v1h-1zM19 20h1v1h-1zM20 20h1v1h-1zM25 20h1v1h-1zM42 20h1v1h-1zM18 21h1v1h-1zM24 21h1v1h-1zM26 21h1v1h-1zM28 21h1v1h-1zM29 21h1v1h-1zM30 21h1v1h-1zM33 21h1v1h-1zM35 21h1v1h-1zM36 21h1v1h-1zM37 21h1v1h-1zM40 21h1v1h-1zM18 22h1v1h-1zM24 22h1v1h-1zM30 22h1v1h-1zM31 22h1v1h-1zM34 22h1v1h-1zM36 22h1v1h-1zM38 22h1v1h-1zM39 22h1v1h-1zM12 23h1v1h-1zM13 23h1v1h-1zM14 23h1v1h-1zM15 23h1v1h-1zM25 23h1v1h-1zM31 23h1v1h-1zM32 23h1v1h-1zM33 23h1v1h-1zM36 23h1v1h-1zM37 23h1v1h-1zM40 23h1v1h-1zM24 24h1v1h-1zM25 24h1v1h-1zM27 24h1v1h-1zM35 24h1v1h-1zM38 24h1v1h-1zM40 24h1v1h-1zM42 24h1v1h-1zM24 25h1v1h-1zM25 25h1v1h-1zM30 25h1v1h-1zM31 25h1v1h-1zM32 25h1v1h-1zM35 25h1v1h-1zM37 25h1v1h-1zM39 25h1v1h-1zM17 26h1v1h-1zM19 26h1v1h-1zM24 26h1v1h-1zM25 26h1v1h-1zM31 26h1v1h-1zM33 26h1v1h-1zM34 26h1v1h-1zM35 26h1v1h-1zM36 26h1v1h-1zM37 26h1v1h-1zM16 27h1v1h-1zM24 27h1v1h-1zM25 27h1v1h-1zM28 27h1v1h-1zM30 27h1v1h-1zM31 27h1v1h-1zM35 27h1v1h-1zM36 27h1v1h-1zM21 28h1v1h-1zM29 28h1v1h-1zM35 28h1v1h-1zM21 29h1v1h-1zM27 29h1v1h-1zM29 29h1v1h-1zM30 29h1v1h-1zM33 29h1v1h-1zM37 29h1v1h-1zM23 30h1v1h-1zM24 30h1v1h-1zM25 30h1v1h-1zM27 30h1v1h-1zM30 30h1v1h-1zM31 30h1v1h-1zM35 30h1v1h-1z"/>
<path fill="#398600" d="M30 3h1v1h-1zM32 3h1v1h-1z"/>
<path fill="#446600" d="M31 3h1v1h-1zM18 4h1v1h-1zM12 9h1v1h-1zM42 11h1v1h-1zM41 13h1v1h-1z"/>
<path fill="#6a0000" d="M33 3h1v1h-1z"/>
<path fill="#996600" d="M22 4h1v1h-1zM29 5h1v1h-1zM33 6h1v1h-1zM29 7h1v1h-1zM34 7h1v1h-1zM32 8h1v1h-1zM34 9h1v1h-1zM8 10h1v1h-1zM5 11h1v1h-1zM29 11h1v1h-1zM34 12h1v1h-1zM32 13h1v1h-1zM6 14h1v1h-1zM13 14h1v1h-1zM36 14h1v1h-1zM8 16h1v1h-1zM25 16h1v1h-1zM28 18h1v1h-1zM34 18h1v1h-1zM11 19h1v1h-1zM16 20h1v1h-1zM19 22h1v1h-1zM20 23h1v1h-1zM23 23h1v1h-1zM15 25h1v1h-1zM15 26h1v1h-1zM22 26h1v1h-1zM26 27h1v1h-1zM18 28h1v1h-1zM19 28h1v1h-1zM33 28h1v1h-1zM31 29h1v1h-1z"/>
<path fill="#33cc00" d="M26 4h1v1h-1zM31 5h1v1h-1zM21 6h1v1h-1zM21 8h1v1h-1zM25 8h1v1h-1zM18 9h1v1h-1zM20 9h1v1h-1zM22 9h1v1h-1zM24 9h1v1h-1zM16 10h1v1h-1zM22 10h1v1h-1zM25 10h1v1h-1zM40 10h1v1h-1zM11 11h1v1h-1zM19 11h1v1h-1zM27 11h1v1h-1zM32 11h1v1h-1zM40 11h1v1h-1zM18 12h1v1h-1zM3 13h1v1h-1zM19 13h1v1h-1zM20 13h1v1h-1zM22 13h1v1h-1zM24 13h1v1h-1zM25 13h1v1h-1zM28 13h1v1h-1zM23 14h1v1h-1zM24 14h1v1h-1zM29 14h1v1h-1zM22 16h1v1h-1zM34 16h1v1h-1zM22 17h1v1h-1zM28 17h1v1h-1zM34 17h1v1h-1zM20 18h1v1h-1zM29 18h1v1h-1zM32 18h1v1h-1zM36 18h1v1h-1zM10 19h1v1h-1zM18 19h1v1h-1zM33 19h1v1h-1zM13 20h1v1h-1zM23 20h1v1h-1zM34 20h1v1h-1zM38 20h1v1h-1zM40 20h1v1h-1zM11 22h1v1h-1zM12 22h1v1h-1zM13 22h1v1h-1zM32 22h1v1h-1zM35 22h1v1h-1zM34 23h1v1h-1zM39 23h1v1h-1zM14 24h1v1h-1zM31 24h1v1h-1zM33 24h1v1h-1zM40 25h1v1h-1zM41 25h1v1h-1zM29 26h1v1h-1zM39 26h1v1h-1zM27 27h1v1h-1zM29 27h1v1h-1zM28 29h1v1h-1zM26 30h1v1h-1zM32 30h1v1h-1z"/>
<path fill="#00ff00" d="M30 4h1v1h-1zM20 7h1v1h-1zM24 10h1v1h-1zM28 10h1v1h-1zM18 11h1v1h-1zM38 11h1v1h-1zM6 13h1v1h-1zM23 13h1v1h-1zM34 15h1v1h-1zM11 16h1v1h-1zM15 16h1v1h-1zM6 17h1v1h-1zM20 17h1v1h-1zM25 17h1v1h-1zM31 17h1v1h-1zM29 20h1v1h-1zM27 21h1v1h-1zM37 22h1v1h-1zM15 24h1v1h-1zM34 24h1v1h-1zM17 25h1v1h-1zM27 25h1v1h-1zM33 25h1v1h-1zM17 27h1v1h-1zM24 29h1v1h-1zM34 29h1v1h-1z"/>
<path fill="#2fbb00" d="M34 4h1v1h-1z"/>
<path fill="#334c00" d="M35 4h1v1h-1zM41 14h1v1h-1zM41 18h1v1h-1zM39 27h1v1h-1zM23 31h1v1h-1zM28 31h1v1h-1zM30 31h1v1h-1zM32 31h1v1h-1zM33 31h1v1h-1zM34 31h1v1h-1zM35 31h1v1h-1zM36 31h1v1h-1z"/>
<path fill="#00bf00" d="M18 5h1v1h-1z"/>
<path fill="#ff0000" d="M25 5h1v1h-1zM34 8h1v1h-1zM26 13h1v1h-1zM15 15h1v1h-1zM38 17h1v1h-1zM16 24h1v1h-1zM18 24h1v1h-1zM23 29h1v1h-1z"/>
<path fill="#46a400" d="M36 5h1v1h-1z"/>
<path fill="#353500" d="M37 5h1v1h-1zM39 7h1v1h-1zM12 24h1v1h-1zM24 31h1v1h-1z"/>
<path fill="#13ac00" d="M18 6h1v1h-1z"/>
<path fill="#5e8c00" d="M38 6h1v1h-1zM10 21h1v1h-1z"/>
<path fill="#004000" d="M13 7h1v1h-1z"/>
<path fill="#001500" d="M5 8h1v1h-1zM13 28h1v1h-1z"/>
<path fill="#204a00" d="M12 8h1v1h-1zM40 8h1v1h-1zM41 15h1v1h-1zM4 17h1v1h-1z"/>
<path fill="#2aaa00" d="M39 8h1v1h-1z"/>
<path fill="#2a4000" d="M42 8h1v1h-1zM6 18h1v1h-1zM38 29h1v1h-1zM27 31h1v1h-1zM31 31h1v1h-1zM37 31h1v1h-1z"/>
<path fill="#0d3300" d="M11 9h1v1h-1z"/>
<path fill="#19e600" d="M21 9h1v1h-1zM27 9h1v1h-1zM30 14h1v1h-1zM35 20h1v1h-1z"/>
<path fill="#1a3c00" d="M43 9h1v1h-1zM41 26h1v1h-1zM19 30h1v1h-1zM21 31h1v1h-1z"/>
<path fill="#2a2a00" d="M3 10h1v1h-1z"/>
<path fill="#b24c00" d="M34 10h1v1h-1zM8 13h1v1h-1zM27 26h1v1h-1z"/>
<path fill="#223300" d="M43 10h1v1h-1z"/>
<path fill="#409500" d="M3 11h1v1h-1z"/>
<path fill="#6a6a00" d="M41 12h1v1h-1z"/>
<path fill="#337700" d="M3 16h1v1h-1zM9 19h1v1h-1zM11 23h1v1h-1z"/>
<path fill="#3c5900" d="M41 16h1v1h-1zM10 22h1v1h-1zM38 28h1v1h-1zM18 29h1v1h-1z"/>
<path fill="#404000" d="M41 17h1v1h-1zM22 31h1v1h-1z"/>
<path fill="#555500" d="M7 18h1v1h-1zM14 26h1v1h-1z"/>
<path fill="#063900" d="M8 19h1v1h-1z"/>
<path fill="#593c00" d="M42 19h1v1h-1z"/>
<path fill="#002a00" d="M11 24h1v1h-1zM18 30h1v1h-1zM20 31h1v1h-1z"/>
<path fill="#558000" d="M13 24h1v1h-1z"/>
<path fill="#4c7300" d="M14 25h1v1h-1zM14 27h1v1h-1zM16 28h1v1h-1zM20 30h1v1h-1z"/>
<path fill="#4a4a00" d="M42 25h1v1h-1z"/>
<path fill="#269900" d="M40 26h1v1h-1z"/>
<path fill="#155500" d="M15 28h1v1h-1zM26 31h1v1h-1z"/>
<path fill="#196600" d="M25 31h1v1h-1zM29 31h1v1h-1z"/>
</g></g>
<g filter="url(#bp)"><g transform="translate(985.50 420.00) scale(7.5)" shape-rendering="crispEdges">
<path fill="#0d0800" d="M17 1h1v1h-1zM18 1h1v1h-1zM8 7h1v1h-1zM41 11h1v1h-1zM40 12h1v1h-1zM41 12h1v1h-1zM7 20h1v1h-1zM7 21h1v1h-1zM9 23h1v1h-1zM10 24h1v1h-1zM11 26h1v1h-1zM12 26h1v1h-1zM38 27h1v1h-1zM15 29h1v1h-1zM32 31h1v1h-1zM34 31h1v1h-1zM35 31h1v1h-1z"/>
<path fill="#150000" d="M19 1h1v1h-1zM20 1h1v1h-1zM22 1h1v1h-1zM24 1h1v1h-1zM25 1h1v1h-1zM26 1h1v1h-1zM27 1h1v1h-1zM29 1h1v1h-1zM31 1h1v1h-1zM32 1h1v1h-1zM34 1h1v1h-1zM35 1h1v1h-1zM15 2h1v1h-1zM16 2h1v1h-1zM35 2h1v1h-1zM15 3h1v1h-1zM36 3h1v1h-1zM36 4h1v1h-1zM14 5h1v1h-1zM37 5h1v1h-1zM38 5h1v1h-1zM15 6h1v1h-1zM39 6h1v1h-1zM40 6h1v1h-1zM41 6h1v1h-1zM41 7h1v1h-1zM7 8h1v1h-1zM42 9h1v1h-1zM23 31h1v1h-1z"/>
<path fill="#060f00" d="M21 1h1v1h-1zM15 5h1v1h-1zM12 6h1v1h-1zM13 6h1v1h-1zM14 6h1v1h-1zM9 7h1v1h-1zM8 8h1v1h-1zM4 10h1v1h-1zM40 13h1v1h-1zM3 17h1v1h-1zM5 18h1v1h-1zM8 22h1v1h-1zM8 23h1v1h-1zM41 24h1v1h-1zM38 26h1v1h-1zM16 29h1v1h-1zM17 29h1v1h-1zM20 30h1v1h-1zM31 31h1v1h-1z"/>
<path fill="#080d00" d="M23 1h1v1h-1zM28 1h1v1h-1zM33 1h1v1h-1zM38 6h1v1h-1zM10 7h1v1h-1zM7 9h1v1h-1zM40 14h1v1h-1zM1 15h1v1h-1zM4 18h1v1h-1zM6 18h1v1h-1zM10 25h1v1h-1zM11 25h1v1h-1zM41 25h1v1h-1zM42 25h1v1h-1zM10 26h1v1h-1zM19 29h1v1h-1zM37 29h1v1h-1zM21 31h1v1h-1zM22 31h1v1h-1zM24 31h1v1h-1zM28 31h1v1h-1zM33 31h1v1h-1z"/>
<path fill="#0b0b00" d="M30 1h1v1h-1zM15 4h1v1h-1zM11 6h1v1h-1zM5 9h1v1h-1zM3 10h1v1h-1zM5 10h1v1h-1zM42 10h1v1h-1zM2 11h1v1h-1zM1 13h1v1h-1zM2 16h1v1h-1zM40 16h1v1h-1zM6 19h1v1h-1zM41 19h1v1h-1zM42 22h1v1h-1zM42 23h1v1h-1zM9 24h1v1h-1zM39 25h1v1h-1zM13 28h1v1h-1zM15 28h1v1h-1zM37 28h1v1h-1zM18 29h1v1h-1zM36 30h1v1h-1zM26 31h1v1h-1zM27 31h1v1h-1zM29 31h1v1h-1zM30 31h1v1h-1z"/>
<path fill="#151500" d="M17 2h1v1h-1zM25 2h1v1h-1zM16 4h1v1h-1zM12 7h1v1h-1zM9 8h1v1h-1zM39 12h1v1h-1zM2 15h1v1h-1zM7 19h1v1h-1zM20 29h1v1h-1zM36 29h1v1h-1zM21 30h1v1h-1zM26 30h1v1h-1zM30 30h1v1h-1z"/>
<path fill="#400000" d="M18 2h1v1h-1zM19 2h1v1h-1zM24 2h1v1h-1zM26 2h1v1h-1zM41 9h1v1h-1z"/>
<path fill="#2a0000" d="M20 2h1v1h-1zM22 2h1v1h-1zM27 2h1v1h-1zM29 2h1v1h-1zM30 2h1v1h-1zM32 2h1v1h-1zM33 2h1v1h-1zM34 2h1v1h-1zM35 3h1v1h-1zM36 5h1v1h-1zM37 6h1v1h-1zM39 7h1v1h-1zM40 7h1v1h-1zM41 8h1v1h-1zM41 10h1v1h-1zM22 30h1v1h-1z"/>
<path fill="#202000" d="M21 2h1v1h-1zM10 8h1v1h-1zM39 13h1v1h-1zM9 22h1v1h-1zM10 23h1v1h-1zM37 26h1v1h-1zM17 28h1v1h-1zM36 28h1v1h-1zM25 30h1v1h-1zM27 30h1v1h-1zM28 30h1v1h-1z"/>
<path fill="#132d00" d="M23 2h1v1h-1zM40 19h1v1h-1zM40 24h1v1h-1zM23 30h1v1h-1z"/>
<path fill="#004000" d="M28 2h1v1h-1z"/>
<path fill="#261a00" d="M31 2h1v1h-1zM16 5h1v1h-1zM8 9h1v1h-1zM40 11h1v1h-1zM6 17h1v1h-1zM41 22h1v1h-1zM38 25h1v1h-1zM29 30h1v1h-1z"/>
<path fill="#042600" d="M16 3h1v1h-1zM2 12h1v1h-1z"/>
<path fill="#228800" d="M17 3h1v1h-1zM17 4h1v1h-1zM4 16h1v1h-1zM7 17h1v1h-1z"/>
<path fill="#808000" d="M18 3h1v1h-1zM19 3h1v1h-1zM23 3h1v1h-1zM29 3h1v1h-1zM30 3h1v1h-1zM19 4h1v1h-1zM20 4h1v1h-1zM23 4h1v1h-1zM27 4h1v1h-1zM28 4h1v1h-1zM30 4h1v1h-1zM31 4h1v1h-1zM34 4h1v1h-1zM22 5h1v1h-1zM28 5h1v1h-1zM31 5h1v1h-1zM32 5h1v1h-1zM18 6h1v1h-1zM25 6h1v1h-1zM26 6h1v1h-1zM28 6h1v1h-1zM32 6h1v1h-1zM33 6h1v1h-1zM34 6h1v1h-1zM19 7h1v1h-1zM20 7h1v1h-1zM21 7h1v1h-1zM24 7h1v1h-1zM25 7h1v1h-1zM26 7h1v1h-1zM27 7h1v1h-1zM31 7h1v1h-1zM33 7h1v1h-1zM35 7h1v1h-1zM13 8h1v1h-1zM15 8h1v1h-1zM16 8h1v1h-1zM21 8h1v1h-1zM24 8h1v1h-1zM30 8h1v1h-1zM31 8h1v1h-1zM34 8h1v1h-1zM35 8h1v1h-1zM37 8h1v1h-1zM12 9h1v1h-1zM13 9h1v1h-1zM14 9h1v1h-1zM20 9h1v1h-1zM23 9h1v1h-1zM24 9h1v1h-1zM26 9h1v1h-1zM31 9h1v1h-1zM35 9h1v1h-1zM9 10h1v1h-1zM18 10h1v1h-1zM19 10h1v1h-1zM20 10h1v1h-1zM33 10h1v1h-1zM7 11h1v1h-1zM12 11h1v1h-1zM13 11h1v1h-1zM18 11h1v1h-1zM20 11h1v1h-1zM21 11h1v1h-1zM32 11h1v1h-1zM34 11h1v1h-1zM36 11h1v1h-1zM3 12h1v1h-1zM9 12h1v1h-1zM14 12h1v1h-1zM18 12h1v1h-1zM20 12h1v1h-1zM21 12h1v1h-1zM23 12h1v1h-1zM25 12h1v1h-1zM33 12h1v1h-1zM4 13h1v1h-1zM7 13h1v1h-1zM10 13h1v1h-1zM12 13h1v1h-1zM16 13h1v1h-1zM18 13h1v1h-1zM20 13h1v1h-1zM24 13h1v1h-1zM28 13h1v1h-1zM33 13h1v1h-1zM36 13h1v1h-1zM11 14h1v1h-1zM12 14h1v1h-1zM15 14h1v1h-1zM17 14h1v1h-1zM20 14h1v1h-1zM21 14h1v1h-1zM31 14h1v1h-1zM33 14h1v1h-1zM4 15h1v1h-1zM6 15h1v1h-1zM7 15h1v1h-1zM9 15h1v1h-1zM12 15h1v1h-1zM15 15h1v1h-1zM17 15h1v1h-1zM24 15h1v1h-1zM26 15h1v1h-1zM27 15h1v1h-1zM30 15h1v1h-1zM7 16h1v1h-1zM15 16h1v1h-1zM24 16h1v1h-1zM32 16h1v1h-1zM37 16h1v1h-1zM10 17h1v1h-1zM15 17h1v1h-1zM17 17h1v1h-1zM19 17h1v1h-1zM21 17h1v1h-1zM23 17h1v1h-1zM26 17h1v1h-1zM34 17h1v1h-1zM10 18h1v1h-1zM11 18h1v1h-1zM13 18h1v1h-1zM15 18h1v1h-1zM17 18h1v1h-1zM21 18h1v1h-1zM22 18h1v1h-1zM24 18h1v1h-1zM31 18h1v1h-1zM34 18h1v1h-1zM36 18h1v1h-1zM9 19h1v1h-1zM12 19h1v1h-1zM20 19h1v1h-1zM26 19h1v1h-1zM27 19h1v1h-1zM32 19h1v1h-1zM33 19h1v1h-1zM16 20h1v1h-1zM17 20h1v1h-1zM19 20h1v1h-1zM23 20h1v1h-1zM31 20h1v1h-1zM11 21h1v1h-1zM12 21h1v1h-1zM14 21h1v1h-1zM18 21h1v1h-1zM19 21h1v1h-1zM20 21h1v1h-1zM21 21h1v1h-1zM24 21h1v1h-1zM26 21h1v1h-1zM29 21h1v1h-1zM31 21h1v1h-1zM36 21h1v1h-1zM12 22h1v1h-1zM15 22h1v1h-1zM17 22h1v1h-1zM19 22h1v1h-1zM20 22h1v1h-1zM22 22h1v1h-1zM15 23h1v1h-1zM20 23h1v1h-1zM33 23h1v1h-1zM16 24h1v1h-1zM18 24h1v1h-1zM21 24h1v1h-1zM28 24h1v1h-1zM29 24h1v1h-1zM31 24h1v1h-1zM36 24h1v1h-1zM19 25h1v1h-1zM23 25h1v1h-1zM25 25h1v1h-1zM30 25h1v1h-1zM14 26h1v1h-1zM29 26h1v1h-1zM34 26h1v1h-1zM35 26h1v1h-1zM20 27h1v1h-1zM21 27h1v1h-1zM26 27h1v1h-1zM27 27h1v1h-1zM28 27h1v1h-1zM29 27h1v1h-1zM32 27h1v1h-1zM34 27h1v1h-1zM24 28h1v1h-1zM29 28h1v1h-1zM33 28h1v1h-1zM35 28h1v1h-1z"/>
<path fill="#4db200" d="M20 3h1v1h-1zM24 4h1v1h-1zM32 4h1v1h-1zM19 5h1v1h-1zM29 5h1v1h-1zM21 6h1v1h-1zM23 6h1v1h-1zM22 7h1v1h-1zM29 7h1v1h-1zM32 7h1v1h-1zM22 8h1v1h-1zM23 8h1v1h-1zM38 8h1v1h-1zM10 9h1v1h-1zM16 9h1v1h-1zM19 9h1v1h-1zM28 9h1v1h-1zM29 9h1v1h-1zM34 9h1v1h-1zM37 9h1v1h-1zM15 10h1v1h-1zM22 10h1v1h-1zM25 10h1v1h-1zM27 10h1v1h-1zM29 10h1v1h-1zM31 10h1v1h-1zM9 11h1v1h-1zM28 11h1v1h-1zM30 11h1v1h-1zM11 12h1v1h-1zM17 12h1v1h-1zM24 12h1v1h-1zM27 12h1v1h-1zM30 12h1v1h-1zM31 12h1v1h-1zM35 12h1v1h-1zM37 12h1v1h-1zM23 13h1v1h-1zM25 13h1v1h-1zM27 13h1v1h-1zM5 14h1v1h-1zM7 14h1v1h-1zM35 14h1v1h-1zM37 14h1v1h-1zM8 15h1v1h-1zM23 15h1v1h-1zM25 15h1v1h-1zM36 15h1v1h-1zM8 16h1v1h-1zM13 16h1v1h-1zM28 16h1v1h-1zM29 16h1v1h-1zM30 16h1v1h-1zM8 17h1v1h-1zM20 17h1v1h-1zM33 17h1v1h-1zM35 17h1v1h-1zM23 18h1v1h-1zM30 18h1v1h-1zM37 18h1v1h-1zM17 19h1v1h-1zM21 19h1v1h-1zM22 19h1v1h-1zM23 19h1v1h-1zM28 19h1v1h-1zM13 20h1v1h-1zM27 20h1v1h-1zM30 20h1v1h-1zM35 20h1v1h-1zM36 20h1v1h-1zM37 20h1v1h-1zM38 20h1v1h-1zM16 21h1v1h-1zM17 21h1v1h-1zM22 21h1v1h-1zM33 21h1v1h-1zM35 21h1v1h-1zM38 21h1v1h-1zM13 22h1v1h-1zM18 22h1v1h-1zM21 22h1v1h-1zM28 22h1v1h-1zM29 22h1v1h-1zM34 22h1v1h-1zM35 22h1v1h-1zM36 22h1v1h-1zM37 22h1v1h-1zM12 23h1v1h-1zM22 23h1v1h-1zM15 24h1v1h-1zM17 24h1v1h-1zM24 24h1v1h-1zM17 25h1v1h-1zM20 25h1v1h-1zM27 25h1v1h-1zM34 25h1v1h-1zM18 27h1v1h-1zM21 28h1v1h-1z"/>
<path fill="#669900" d="M21 3h1v1h-1zM21 4h1v1h-1zM25 4h1v1h-1zM20 5h1v1h-1zM24 5h1v1h-1zM27 5h1v1h-1zM20 6h1v1h-1zM27 6h1v1h-1zM30 6h1v1h-1zM31 6h1v1h-1zM18 7h1v1h-1zM30 7h1v1h-1zM34 7h1v1h-1zM17 8h1v1h-1zM18 8h1v1h-1zM25 8h1v1h-1zM26 8h1v1h-1zM32 8h1v1h-1zM39 8h1v1h-1zM15 9h1v1h-1zM21 9h1v1h-1zM27 9h1v1h-1zM30 9h1v1h-1zM8 10h1v1h-1zM10 10h1v1h-1zM11 10h1v1h-1zM12 10h1v1h-1zM13 10h1v1h-1zM14 10h1v1h-1zM17 10h1v1h-1zM21 10h1v1h-1zM28 10h1v1h-1zM32 10h1v1h-1zM34 10h1v1h-1zM35 10h1v1h-1zM8 11h1v1h-1zM10 11h1v1h-1zM11 11h1v1h-1zM17 11h1v1h-1zM23 11h1v1h-1zM25 11h1v1h-1zM29 11h1v1h-1zM33 11h1v1h-1zM38 11h1v1h-1zM4 12h1v1h-1zM5 12h1v1h-1zM6 12h1v1h-1zM7 12h1v1h-1zM8 12h1v1h-1zM12 12h1v1h-1zM19 12h1v1h-1zM26 12h1v1h-1zM28 12h1v1h-1zM32 12h1v1h-1zM36 12h1v1h-1zM3 13h1v1h-1zM5 13h1v1h-1zM13 13h1v1h-1zM14 13h1v1h-1zM19 13h1v1h-1zM22 13h1v1h-1zM31 13h1v1h-1zM34 13h1v1h-1zM38 13h1v1h-1zM9 14h1v1h-1zM10 14h1v1h-1zM22 14h1v1h-1zM23 14h1v1h-1zM25 14h1v1h-1zM26 14h1v1h-1zM28 14h1v1h-1zM32 14h1v1h-1zM34 14h1v1h-1zM20 15h1v1h-1zM21 15h1v1h-1zM32 15h1v1h-1zM34 15h1v1h-1zM35 15h1v1h-1zM6 16h1v1h-1zM10 16h1v1h-1zM11 16h1v1h-1zM26 16h1v1h-1zM27 16h1v1h-1zM31 16h1v1h-1zM35 16h1v1h-1zM36 16h1v1h-1zM9 17h1v1h-1zM24 17h1v1h-1zM25 17h1v1h-1zM27 17h1v1h-1zM29 17h1v1h-1zM30 17h1v1h-1zM32 17h1v1h-1zM36 17h1v1h-1zM37 17h1v1h-1zM9 18h1v1h-1zM14 18h1v1h-1zM20 18h1v1h-1zM26 18h1v1h-1zM28 18h1v1h-1zM29 18h1v1h-1zM32 18h1v1h-1zM35 18h1v1h-1zM38 18h1v1h-1zM10 19h1v1h-1zM11 19h1v1h-1zM13 19h1v1h-1zM16 19h1v1h-1zM18 19h1v1h-1zM24 19h1v1h-1zM29 19h1v1h-1zM30 19h1v1h-1zM31 19h1v1h-1zM37 19h1v1h-1zM9 20h1v1h-1zM12 20h1v1h-1zM18 20h1v1h-1zM20 20h1v1h-1zM24 20h1v1h-1zM26 20h1v1h-1zM28 20h1v1h-1zM32 20h1v1h-1zM33 20h1v1h-1zM34 20h1v1h-1zM25 21h1v1h-1zM37 21h1v1h-1zM11 22h1v1h-1zM16 22h1v1h-1zM23 22h1v1h-1zM24 22h1v1h-1zM25 22h1v1h-1zM26 22h1v1h-1zM30 22h1v1h-1zM32 22h1v1h-1zM13 23h1v1h-1zM16 23h1v1h-1zM18 23h1v1h-1zM19 23h1v1h-1zM24 23h1v1h-1zM25 23h1v1h-1zM28 23h1v1h-1zM30 23h1v1h-1zM31 23h1v1h-1zM34 23h1v1h-1zM37 23h1v1h-1zM13 24h1v1h-1zM22 24h1v1h-1zM23 24h1v1h-1zM27 24h1v1h-1zM34 24h1v1h-1zM35 24h1v1h-1zM14 25h1v1h-1zM15 25h1v1h-1zM21 25h1v1h-1zM29 25h1v1h-1zM31 25h1v1h-1zM36 25h1v1h-1zM16 26h1v1h-1zM17 26h1v1h-1zM18 26h1v1h-1zM19 26h1v1h-1zM20 26h1v1h-1zM22 26h1v1h-1zM25 26h1v1h-1zM32 26h1v1h-1zM33 26h1v1h-1zM19 27h1v1h-1zM22 27h1v1h-1zM23 27h1v1h-1zM35 27h1v1h-1zM31 28h1v1h-1zM32 28h1v1h-1zM34 28h1v1h-1z"/>
<path fill="#996600" d="M22 3h1v1h-1zM17 5h1v1h-1zM21 5h1v1h-1zM25 5h1v1h-1zM33 5h1v1h-1zM17 6h1v1h-1zM19 6h1v1h-1zM22 6h1v1h-1zM29 6h1v1h-1zM17 7h1v1h-1zM28 7h1v1h-1zM12 8h1v1h-1zM19 8h1v1h-1zM28 8h1v1h-1zM18 9h1v1h-1zM32 9h1v1h-1zM33 9h1v1h-1zM39 9h1v1h-1zM24 10h1v1h-1zM30 10h1v1h-1zM38 10h1v1h-1zM15 11h1v1h-1zM16 11h1v1h-1zM37 11h1v1h-1zM6 13h1v1h-1zM11 13h1v1h-1zM21 13h1v1h-1zM29 13h1v1h-1zM30 13h1v1h-1zM32 13h1v1h-1zM37 13h1v1h-1zM6 14h1v1h-1zM13 14h1v1h-1zM14 14h1v1h-1zM16 14h1v1h-1zM18 14h1v1h-1zM19 14h1v1h-1zM36 14h1v1h-1zM10 15h1v1h-1zM14 15h1v1h-1zM16 15h1v1h-1zM19 15h1v1h-1zM28 15h1v1h-1zM29 15h1v1h-1zM31 15h1v1h-1zM37 15h1v1h-1zM16 16h1v1h-1zM17 16h1v1h-1zM21 16h1v1h-1zM22 16h1v1h-1zM25 16h1v1h-1zM33 16h1v1h-1zM34 16h1v1h-1zM11 17h1v1h-1zM13 17h1v1h-1zM14 17h1v1h-1zM16 17h1v1h-1zM18 17h1v1h-1zM31 17h1v1h-1zM25 18h1v1h-1zM15 19h1v1h-1zM25 19h1v1h-1zM35 19h1v1h-1zM36 19h1v1h-1zM10 20h1v1h-1zM14 20h1v1h-1zM22 20h1v1h-1zM25 20h1v1h-1zM39 20h1v1h-1zM10 21h1v1h-1zM23 21h1v1h-1zM28 21h1v1h-1zM39 21h1v1h-1zM14 22h1v1h-1zM27 22h1v1h-1zM31 22h1v1h-1zM33 22h1v1h-1zM14 23h1v1h-1zM21 23h1v1h-1zM26 23h1v1h-1zM29 23h1v1h-1zM35 23h1v1h-1zM19 24h1v1h-1zM32 24h1v1h-1zM33 24h1v1h-1zM37 24h1v1h-1zM22 25h1v1h-1zM26 25h1v1h-1zM28 25h1v1h-1zM32 25h1v1h-1zM33 25h1v1h-1zM35 25h1v1h-1zM21 26h1v1h-1zM23 26h1v1h-1zM24 26h1v1h-1zM26 26h1v1h-1zM28 26h1v1h-1zM30 26h1v1h-1zM24 27h1v1h-1zM30 27h1v1h-1zM33 27h1v1h-1zM22 28h1v1h-1zM25 28h1v1h-1zM27 28h1v1h-1zM28 28h1v1h-1z"/>
<path fill="#33cc00" d="M24 3h1v1h-1zM22 4h1v1h-1zM23 7h1v1h-1zM14 8h1v1h-1zM33 8h1v1h-1zM17 9h1v1h-1zM22 11h1v1h-1zM31 11h1v1h-1zM29 12h1v1h-1zM8 13h1v1h-1zM4 14h1v1h-1zM8 14h1v1h-1zM27 14h1v1h-1zM29 14h1v1h-1zM30 14h1v1h-1zM5 15h1v1h-1zM33 15h1v1h-1zM14 16h1v1h-1zM28 17h1v1h-1zM13 21h1v1h-1zM27 21h1v1h-1zM32 21h1v1h-1zM34 21h1v1h-1zM23 23h1v1h-1zM36 23h1v1h-1zM16 25h1v1h-1zM15 26h1v1h-1z"/>
<path fill="#00ff00" d="M25 3h1v1h-1zM26 5h1v1h-1zM29 8h1v1h-1zM24 11h1v1h-1zM26 11h1v1h-1zM10 12h1v1h-1zM22 12h1v1h-1zM9 13h1v1h-1zM24 14h1v1h-1zM22 15h1v1h-1zM9 16h1v1h-1zM23 16h1v1h-1zM12 17h1v1h-1zM22 17h1v1h-1zM12 18h1v1h-1zM14 19h1v1h-1zM19 19h1v1h-1zM34 19h1v1h-1zM15 20h1v1h-1zM30 21h1v1h-1zM39 22h1v1h-1zM20 24h1v1h-1zM26 24h1v1h-1zM30 24h1v1h-1zM24 25h1v1h-1zM31 27h1v1h-1zM30 28h1v1h-1z"/>
<path fill="#ff0000" d="M26 3h1v1h-1zM27 3h1v1h-1zM28 3h1v1h-1zM18 4h1v1h-1zM26 4h1v1h-1zM33 4h1v1h-1zM18 5h1v1h-1zM23 5h1v1h-1zM30 5h1v1h-1zM24 6h1v1h-1zM20 8h1v1h-1zM36 8h1v1h-1zM22 9h1v1h-1zM36 9h1v1h-1zM38 9h1v1h-1zM36 10h1v1h-1zM39 10h1v1h-1zM14 11h1v1h-1zM35 11h1v1h-1zM34 12h1v1h-1zM38 12h1v1h-1zM17 13h1v1h-1zM13 15h1v1h-1zM12 16h1v1h-1zM18 16h1v1h-1zM33 18h1v1h-1zM15 21h1v1h-1zM14 24h1v1h-1zM27 26h1v1h-1zM31 26h1v1h-1zM23 28h1v1h-1z"/>
<path fill="#b24c00" d="M31 3h1v1h-1zM29 4h1v1h-1zM34 5h1v1h-1zM27 8h1v1h-1zM11 9h1v1h-1zM16 10h1v1h-1zM23 10h1v1h-1zM26 10h1v1h-1zM37 10h1v1h-1zM19 11h1v1h-1zM13 12h1v1h-1zM16 12h1v1h-1zM18 15h1v1h-1zM19 16h1v1h-1zM16 18h1v1h-1zM18 18h1v1h-1zM19 18h1v1h-1zM27 18h1v1h-1zM38 19h1v1h-1zM29 20h1v1h-1zM17 23h1v1h-1zM27 23h1v1h-1zM32 23h1v1h-1zM38 23h1v1h-1zM39 23h1v1h-1zM25 24h1v1h-1z"/>
<path fill="#446600" d="M32 3h1v1h-1zM38 14h1v1h-1zM17 27h1v1h-1zM32 29h1v1h-1z"/>
<path fill="#aa0000" d="M33 3h1v1h-1zM34 3h1v1h-1zM40 9h1v1h-1z"/>
<path fill="#084c00" d="M35 4h1v1h-1z"/>
<path fill="#402a00" d="M35 5h1v1h-1z"/>
<path fill="#1a2600" d="M16 6h1v1h-1zM39 14h1v1h-1zM41 21h1v1h-1zM11 24h1v1h-1zM12 25h1v1h-1zM14 27h1v1h-1zM18 28h1v1h-1zM31 30h1v1h-1z"/>
<path fill="#398600" d="M35 6h1v1h-1zM29 29h1v1h-1z"/>
<path fill="#550000" d="M36 6h1v1h-1z"/>
<path fill="#1a1100" d="M11 7h1v1h-1zM3 11h1v1h-1zM40 18h1v1h-1zM8 21h1v1h-1zM16 28h1v1h-1zM35 30h1v1h-1z"/>
<path fill="#111a00" d="M13 7h1v1h-1zM2 14h1v1h-1zM39 15h1v1h-1zM5 17h1v1h-1zM7 18h1v1h-1zM37 27h1v1h-1zM24 30h1v1h-1zM32 30h1v1h-1zM33 30h1v1h-1zM34 30h1v1h-1z"/>
<path fill="#1a3c00" d="M14 7h1v1h-1z"/>
<path fill="#2a2a00" d="M15 7h1v1h-1zM13 26h1v1h-1z"/>
<path fill="#3c5900" d="M16 7h1v1h-1zM37 7h1v1h-1zM39 18h1v1h-1z"/>
<path fill="#734c00" d="M36 7h1v1h-1zM40 21h1v1h-1zM30 29h1v1h-1zM33 29h1v1h-1z"/>
<path fill="#4a2000" d="M38 7h1v1h-1z"/>
<path fill="#4c7300" d="M11 8h1v1h-1zM40 22h1v1h-1zM31 29h1v1h-1zM34 29h1v1h-1zM35 29h1v1h-1z"/>
<path fill="#950000" d="M40 8h1v1h-1zM40 10h1v1h-1z"/>
<path fill="#001500" d="M6 9h1v1h-1zM42 21h1v1h-1z"/>
<path fill="#773300" d="M9 9h1v1h-1z"/>
<path fill="#cc3300" d="M25 9h1v1h-1zM35 13h1v1h-1zM11 15h1v1h-1zM20 16h1v1h-1zM11 20h1v1h-1zM26 28h1v1h-1z"/>
<path fill="#0d1e00" d="M6 10h1v1h-1zM4 17h1v1h-1zM41 20h1v1h-1zM41 23h1v1h-1z"/>
<path fill="#6a0000" d="M7 10h1v1h-1zM36 27h1v1h-1z"/>
<path fill="#223300" d="M4 11h1v1h-1zM8 20h1v1h-1zM15 27h1v1h-1z"/>
<path fill="#204a00" d="M5 11h1v1h-1zM39 24h1v1h-1z"/>
<path fill="#265900" d="M6 11h1v1h-1z"/>
<path fill="#19e600" d="M27 11h1v1h-1zM15 12h1v1h-1zM26 13h1v1h-1zM21 20h1v1h-1zM38 22h1v1h-1zM18 25h1v1h-1z"/>
<path fill="#593c00" d="M39 11h1v1h-1z"/>
<path fill="#0d3300" d="M2 13h1v1h-1zM3 16h1v1h-1z"/>
<path fill="#e61a00" d="M15 13h1v1h-1zM25 27h1v1h-1z"/>
<path fill="#041100" d="M1 14h1v1h-1zM40 15h1v1h-1zM5 19h1v1h-1zM40 25h1v1h-1zM13 27h1v1h-1zM14 28h1v1h-1zM20 31h1v1h-1z"/>
<path fill="#2fbb00" d="M3 14h1v1h-1z"/>
<path fill="#334c00" d="M3 15h1v1h-1z"/>
<path fill="#606000" d="M38 15h1v1h-1z"/>
<path fill="#558000" d="M5 16h1v1h-1zM38 17h1v1h-1zM13 25h1v1h-1z"/>
<path fill="#555500" d="M38 16h1v1h-1zM8 18h1v1h-1zM40 23h1v1h-1zM22 29h1v1h-1zM24 29h1v1h-1zM27 29h1v1h-1zM28 29h1v1h-1z"/>
<path fill="#330d00" d="M39 16h1v1h-1z"/>
<path fill="#0f0600" d="M1 17h1v1h-1zM12 27h1v1h-1zM25 31h1v1h-1z"/>
<path fill="#1e0d00" d="M39 17h1v1h-1z"/>
<path fill="#021300" d="M40 17h1v1h-1z"/>
<path fill="#110400" d="M41 18h1v1h-1z"/>
<path fill="#2a4000" d="M8 19h1v1h-1zM40 20h1v1h-1zM20 28h1v1h-1z"/>
<path fill="#5e8c00" d="M39 19h1v1h-1z"/>
<path fill="#130200" d="M42 20h1v1h-1z"/>
<path fill="#805500" d="M9 21h1v1h-1zM36 26h1v1h-1z"/>
<path fill="#8c5e00" d="M10 22h1v1h-1z"/>
<path fill="#00ea00" d="M11 23h1v1h-1z"/>
<path fill="#6a6a00" d="M12 24h1v1h-1z"/>
<path fill="#664400" d="M38 24h1v1h-1zM21 29h1v1h-1z"/>
<path fill="#196600" d="M37 25h1v1h-1z"/>
<path fill="#592600" d="M16 27h1v1h-1z"/>
<path fill="#114400" d="M19 28h1v1h-1z"/>
<path fill="#337700" d="M23 29h1v1h-1z"/>
<path fill="#863900" d="M25 29h1v1h-1z"/>
<path fill="#bf0000" d="M26 29h1v1h-1z"/>
</g></g>
<g filter="url(#bp)"><g transform="translate(1303.82 417.02) scale(7.36)" shape-rendering="crispEdges">
<path fill="#150000" d="M14 1h1v1h-1zM15 1h1v1h-1zM16 1h1v1h-1zM19 1h1v1h-1zM20 1h1v1h-1zM22 1h1v1h-1zM23 1h1v1h-1zM24 1h1v1h-1zM25 1h1v1h-1zM26 1h1v1h-1zM32 1h1v1h-1zM15 2h1v1h-1zM14 3h1v1h-1zM36 5h1v1h-1zM10 6h1v1h-1zM38 6h1v1h-1zM39 6h1v1h-1zM40 7h1v1h-1zM41 7h1v1h-1zM41 8h1v1h-1zM41 9h1v1h-1zM40 11h1v1h-1zM39 13h1v1h-1z"/>
<path fill="#001500" d="M17 1h1v1h-1zM16 29h1v1h-1zM36 30h1v1h-1zM23 31h1v1h-1zM28 31h1v1h-1zM31 31h1v1h-1z"/>
<path fill="#0d0800" d="M18 1h1v1h-1zM30 1h1v1h-1zM31 1h1v1h-1zM34 2h1v1h-1zM35 3h1v1h-1zM14 4h1v1h-1zM11 6h1v1h-1zM36 6h1v1h-1zM40 6h1v1h-1zM7 7h1v1h-1zM9 7h1v1h-1zM3 8h1v1h-1zM1 10h1v1h-1zM1 14h1v1h-1zM39 14h1v1h-1zM39 15h1v1h-1zM3 18h1v1h-1zM40 18h1v1h-1zM5 19h1v1h-1zM6 20h1v1h-1zM9 24h1v1h-1zM11 27h1v1h-1zM14 29h1v1h-1zM33 31h1v1h-1z"/>
<path fill="#0b0b00" d="M21 1h1v1h-1zM29 1h1v1h-1zM35 4h1v1h-1zM12 6h1v1h-1zM37 6h1v1h-1zM3 7h1v1h-1zM8 7h1v1h-1zM1 11h1v1h-1zM1 15h1v1h-1zM40 20h1v1h-1zM40 21h1v1h-1zM8 23h1v1h-1zM9 23h1v1h-1zM10 24h1v1h-1zM10 25h1v1h-1zM39 25h1v1h-1zM37 26h1v1h-1zM36 27h1v1h-1zM14 28h1v1h-1zM19 30h1v1h-1zM35 30h1v1h-1zM19 31h1v1h-1zM24 31h1v1h-1zM25 31h1v1h-1zM29 31h1v1h-1z"/>
<path fill="#0f0600" d="M27 1h1v1h-1zM28 1h1v1h-1zM12 5h1v1h-1zM10 7h1v1h-1zM4 18h1v1h-1zM12 27h1v1h-1z"/>
<path fill="#2a0000" d="M16 2h1v1h-1zM19 2h1v1h-1zM30 2h1v1h-1zM32 2h1v1h-1zM15 3h1v1h-1zM2 11h1v1h-1zM39 18h1v1h-1z"/>
<path fill="#400000" d="M17 2h1v1h-1zM18 2h1v1h-1zM21 2h1v1h-1zM23 2h1v1h-1zM25 2h1v1h-1zM26 2h1v1h-1zM28 2h1v1h-1zM39 7h1v1h-1zM40 10h1v1h-1z"/>
<path fill="#261a00" d="M20 2h1v1h-1zM22 2h1v1h-1zM29 2h1v1h-1zM34 3h1v1h-1zM15 5h1v1h-1zM35 6h1v1h-1zM38 14h1v1h-1zM4 17h1v1h-1zM14 27h1v1h-1z"/>
<path fill="#151500" d="M24 2h1v1h-1zM15 4h1v1h-1zM35 5h1v1h-1zM13 6h1v1h-1zM37 7h1v1h-1zM40 8h1v1h-1zM2 13h1v1h-1zM38 13h1v1h-1zM2 15h1v1h-1zM38 16h1v1h-1z"/>
<path fill="#1a1100" d="M27 2h1v1h-1zM4 8h1v1h-1zM6 8h1v1h-1zM9 8h1v1h-1zM2 10h1v1h-1zM38 12h1v1h-1zM7 20h1v1h-1zM39 22h1v1h-1zM34 30h1v1h-1z"/>
<path fill="#1e0d00" d="M31 2h1v1h-1zM33 2h1v1h-1zM40 9h1v1h-1z"/>
<path fill="#080d00" d="M35 2h1v1h-1zM13 5h1v1h-1zM5 7h1v1h-1zM6 7h1v1h-1zM2 9h1v1h-1zM1 12h1v1h-1zM39 12h1v1h-1zM1 13h1v1h-1zM2 16h1v1h-1zM39 16h1v1h-1zM2 17h1v1h-1zM6 19h1v1h-1zM40 19h1v1h-1zM6 21h1v1h-1zM8 22h1v1h-1zM40 22h1v1h-1zM39 24h1v1h-1zM38 25h1v1h-1zM36 28h1v1h-1zM15 29h1v1h-1zM36 29h1v1h-1zM16 30h1v1h-1zM17 30h1v1h-1zM22 31h1v1h-1zM26 31h1v1h-1zM27 31h1v1h-1zM32 31h1v1h-1z"/>
<path fill="#404000" d="M16 3h1v1h-1z"/>
<path fill="#ff0000" d="M17 3h1v1h-1zM19 3h1v1h-1zM22 3h1v1h-1zM17 4h1v1h-1zM19 4h1v1h-1zM24 4h1v1h-1zM33 4h1v1h-1zM20 5h1v1h-1zM25 5h1v1h-1zM18 6h1v1h-1zM25 6h1v1h-1zM29 6h1v1h-1zM32 6h1v1h-1zM11 8h1v1h-1zM17 8h1v1h-1zM34 8h1v1h-1zM36 8h1v1h-1zM36 9h1v1h-1zM38 9h1v1h-1zM19 10h1v1h-1zM36 10h1v1h-1zM37 10h1v1h-1zM34 12h1v1h-1zM36 12h1v1h-1zM37 12h1v1h-1zM36 13h1v1h-1zM37 13h1v1h-1zM36 14h1v1h-1zM5 16h1v1h-1zM18 16h1v1h-1zM29 24h1v1h-1z"/>
<path fill="#996600" d="M18 3h1v1h-1zM20 3h1v1h-1zM21 3h1v1h-1zM29 4h1v1h-1zM30 4h1v1h-1zM32 4h1v1h-1zM17 5h1v1h-1zM21 5h1v1h-1zM26 5h1v1h-1zM20 6h1v1h-1zM22 6h1v1h-1zM28 6h1v1h-1zM30 6h1v1h-1zM18 7h1v1h-1zM23 7h1v1h-1zM29 7h1v1h-1zM30 7h1v1h-1zM32 7h1v1h-1zM34 7h1v1h-1zM12 8h1v1h-1zM13 8h1v1h-1zM14 8h1v1h-1zM21 8h1v1h-1zM32 8h1v1h-1zM33 8h1v1h-1zM35 8h1v1h-1zM12 9h1v1h-1zM16 9h1v1h-1zM35 9h1v1h-1zM9 10h1v1h-1zM12 10h1v1h-1zM16 10h1v1h-1zM17 10h1v1h-1zM20 10h1v1h-1zM26 10h1v1h-1zM30 10h1v1h-1zM35 10h1v1h-1zM9 11h1v1h-1zM12 11h1v1h-1zM16 11h1v1h-1zM18 11h1v1h-1zM25 11h1v1h-1zM29 11h1v1h-1zM37 11h1v1h-1zM5 12h1v1h-1zM6 12h1v1h-1zM10 12h1v1h-1zM14 12h1v1h-1zM17 12h1v1h-1zM19 12h1v1h-1zM28 12h1v1h-1zM14 13h1v1h-1zM16 13h1v1h-1zM19 13h1v1h-1zM21 13h1v1h-1zM27 13h1v1h-1zM28 13h1v1h-1zM35 13h1v1h-1zM3 14h1v1h-1zM4 14h1v1h-1zM8 14h1v1h-1zM16 14h1v1h-1zM19 14h1v1h-1zM20 14h1v1h-1zM24 14h1v1h-1zM25 14h1v1h-1zM26 14h1v1h-1zM27 14h1v1h-1zM30 14h1v1h-1zM32 14h1v1h-1zM35 14h1v1h-1zM5 15h1v1h-1zM24 15h1v1h-1zM28 15h1v1h-1zM30 15h1v1h-1zM33 15h1v1h-1zM21 16h1v1h-1zM22 16h1v1h-1zM30 16h1v1h-1zM35 17h1v1h-1zM25 18h1v1h-1zM27 18h1v1h-1zM28 18h1v1h-1zM31 18h1v1h-1zM33 18h1v1h-1zM27 19h1v1h-1zM28 19h1v1h-1zM14 20h1v1h-1zM17 20h1v1h-1zM22 20h1v1h-1zM26 20h1v1h-1zM37 20h1v1h-1zM21 21h1v1h-1zM24 21h1v1h-1zM25 21h1v1h-1zM26 21h1v1h-1zM30 21h1v1h-1zM31 21h1v1h-1zM23 22h1v1h-1zM30 22h1v1h-1zM38 22h1v1h-1zM24 23h1v1h-1zM28 23h1v1h-1zM32 23h1v1h-1zM12 24h1v1h-1zM19 24h1v1h-1zM24 24h1v1h-1zM26 24h1v1h-1zM34 24h1v1h-1zM35 24h1v1h-1zM19 25h1v1h-1zM15 26h1v1h-1zM18 26h1v1h-1zM32 26h1v1h-1zM16 27h1v1h-1zM17 27h1v1h-1zM28 27h1v1h-1zM21 28h1v1h-1z"/>
<path fill="#6a6a00" d="M23 3h1v1h-1z"/>
<path fill="#664400" d="M24 3h1v1h-1zM33 3h1v1h-1zM16 5h1v1h-1zM39 10h1v1h-1z"/>
<path fill="#bf0000" d="M25 3h1v1h-1zM32 3h1v1h-1zM39 9h1v1h-1z"/>
<path fill="#aa0000" d="M26 3h1v1h-1zM38 11h1v1h-1z"/>
<path fill="#734c00" d="M27 3h1v1h-1zM6 17h1v1h-1z"/>
<path fill="#773300" d="M28 3h1v1h-1zM31 3h1v1h-1z"/>
<path fill="#3c5900" d="M29 3h1v1h-1z"/>
<path fill="#555500" d="M30 3h1v1h-1zM34 5h1v1h-1zM15 7h1v1h-1zM7 9h1v1h-1zM8 9h1v1h-1zM18 28h1v1h-1z"/>
<path fill="#4c3300" d="M16 4h1v1h-1zM13 7h1v1h-1zM14 7h1v1h-1zM39 8h1v1h-1z"/>
<path fill="#b24c00" d="M18 4h1v1h-1zM21 4h1v1h-1zM25 4h1v1h-1zM27 4h1v1h-1zM18 5h1v1h-1zM24 5h1v1h-1zM30 5h1v1h-1zM32 5h1v1h-1zM17 6h1v1h-1zM19 6h1v1h-1zM33 6h1v1h-1zM16 7h1v1h-1zM19 7h1v1h-1zM28 7h1v1h-1zM16 8h1v1h-1zM20 8h1v1h-1zM11 9h1v1h-1zM14 9h1v1h-1zM25 9h1v1h-1zM31 9h1v1h-1zM32 9h1v1h-1zM33 9h1v1h-1zM10 10h1v1h-1zM7 11h1v1h-1zM11 11h1v1h-1zM31 11h1v1h-1zM34 11h1v1h-1zM35 11h1v1h-1zM36 11h1v1h-1zM8 12h1v1h-1zM11 12h1v1h-1zM27 12h1v1h-1zM8 13h1v1h-1zM23 13h1v1h-1zM10 14h1v1h-1zM13 14h1v1h-1zM28 14h1v1h-1zM33 14h1v1h-1zM27 15h1v1h-1zM31 15h1v1h-1zM7 16h1v1h-1zM18 17h1v1h-1zM28 17h1v1h-1zM36 17h1v1h-1zM17 18h1v1h-1zM24 18h1v1h-1zM35 18h1v1h-1zM24 19h1v1h-1zM30 20h1v1h-1zM22 21h1v1h-1zM25 22h1v1h-1z"/>
<path fill="#808000" d="M20 4h1v1h-1zM22 4h1v1h-1zM23 4h1v1h-1zM28 4h1v1h-1zM31 4h1v1h-1zM19 5h1v1h-1zM29 5h1v1h-1zM31 5h1v1h-1zM23 6h1v1h-1zM26 6h1v1h-1zM31 6h1v1h-1zM17 7h1v1h-1zM20 7h1v1h-1zM21 7h1v1h-1zM31 7h1v1h-1zM33 7h1v1h-1zM18 8h1v1h-1zM23 8h1v1h-1zM25 8h1v1h-1zM27 8h1v1h-1zM29 8h1v1h-1zM13 9h1v1h-1zM15 9h1v1h-1zM19 9h1v1h-1zM26 9h1v1h-1zM34 9h1v1h-1zM37 9h1v1h-1zM7 10h1v1h-1zM8 10h1v1h-1zM11 10h1v1h-1zM14 10h1v1h-1zM15 10h1v1h-1zM21 10h1v1h-1zM24 10h1v1h-1zM27 10h1v1h-1zM29 10h1v1h-1zM31 10h1v1h-1zM32 10h1v1h-1zM38 10h1v1h-1zM4 11h1v1h-1zM10 11h1v1h-1zM13 11h1v1h-1zM14 11h1v1h-1zM15 11h1v1h-1zM17 11h1v1h-1zM20 11h1v1h-1zM23 11h1v1h-1zM24 11h1v1h-1zM26 11h1v1h-1zM30 11h1v1h-1zM32 11h1v1h-1zM33 11h1v1h-1zM7 12h1v1h-1zM13 12h1v1h-1zM16 12h1v1h-1zM20 12h1v1h-1zM21 12h1v1h-1zM25 12h1v1h-1zM30 12h1v1h-1zM31 12h1v1h-1zM32 12h1v1h-1zM33 12h1v1h-1zM3 13h1v1h-1zM6 13h1v1h-1zM7 13h1v1h-1zM9 13h1v1h-1zM11 13h1v1h-1zM20 13h1v1h-1zM30 13h1v1h-1zM7 14h1v1h-1zM9 14h1v1h-1zM12 14h1v1h-1zM14 14h1v1h-1zM17 14h1v1h-1zM21 14h1v1h-1zM23 14h1v1h-1zM31 14h1v1h-1zM34 14h1v1h-1zM4 15h1v1h-1zM7 15h1v1h-1zM9 15h1v1h-1zM12 15h1v1h-1zM16 15h1v1h-1zM19 15h1v1h-1zM20 15h1v1h-1zM21 15h1v1h-1zM22 15h1v1h-1zM36 15h1v1h-1zM6 16h1v1h-1zM8 16h1v1h-1zM9 16h1v1h-1zM10 16h1v1h-1zM11 16h1v1h-1zM16 16h1v1h-1zM17 16h1v1h-1zM20 16h1v1h-1zM23 16h1v1h-1zM24 16h1v1h-1zM25 16h1v1h-1zM26 16h1v1h-1zM27 16h1v1h-1zM28 16h1v1h-1zM31 16h1v1h-1zM32 16h1v1h-1zM33 16h1v1h-1zM35 16h1v1h-1zM36 16h1v1h-1zM9 17h1v1h-1zM15 17h1v1h-1zM16 17h1v1h-1zM19 17h1v1h-1zM23 17h1v1h-1zM37 17h1v1h-1zM11 18h1v1h-1zM14 18h1v1h-1zM15 18h1v1h-1zM16 18h1v1h-1zM18 18h1v1h-1zM19 18h1v1h-1zM21 18h1v1h-1zM22 18h1v1h-1zM26 18h1v1h-1zM29 18h1v1h-1zM30 18h1v1h-1zM32 18h1v1h-1zM34 18h1v1h-1zM36 18h1v1h-1zM9 19h1v1h-1zM13 19h1v1h-1zM18 19h1v1h-1zM19 19h1v1h-1zM20 19h1v1h-1zM21 19h1v1h-1zM22 19h1v1h-1zM23 19h1v1h-1zM26 19h1v1h-1zM30 19h1v1h-1zM31 19h1v1h-1zM32 19h1v1h-1zM9 20h1v1h-1zM16 20h1v1h-1zM19 20h1v1h-1zM20 20h1v1h-1zM21 20h1v1h-1zM24 20h1v1h-1zM27 20h1v1h-1zM28 20h1v1h-1zM29 20h1v1h-1zM38 20h1v1h-1zM15 21h1v1h-1zM16 21h1v1h-1zM23 21h1v1h-1zM27 21h1v1h-1zM35 21h1v1h-1zM37 21h1v1h-1zM18 22h1v1h-1zM20 22h1v1h-1zM21 22h1v1h-1zM24 22h1v1h-1zM26 22h1v1h-1zM27 22h1v1h-1zM28 22h1v1h-1zM29 22h1v1h-1zM33 22h1v1h-1zM35 22h1v1h-1zM36 22h1v1h-1zM21 23h1v1h-1zM22 23h1v1h-1zM31 23h1v1h-1zM34 23h1v1h-1zM37 23h1v1h-1zM22 24h1v1h-1zM25 24h1v1h-1zM27 24h1v1h-1zM28 24h1v1h-1zM31 24h1v1h-1zM15 25h1v1h-1zM16 25h1v1h-1zM17 25h1v1h-1zM18 25h1v1h-1zM21 25h1v1h-1zM24 25h1v1h-1zM25 25h1v1h-1zM28 25h1v1h-1zM29 25h1v1h-1zM31 25h1v1h-1zM32 25h1v1h-1zM14 26h1v1h-1zM20 26h1v1h-1zM21 26h1v1h-1zM23 26h1v1h-1zM29 26h1v1h-1zM33 26h1v1h-1zM20 27h1v1h-1zM21 27h1v1h-1zM23 27h1v1h-1zM24 27h1v1h-1zM30 27h1v1h-1zM34 27h1v1h-1zM19 28h1v1h-1zM22 28h1v1h-1zM24 28h1v1h-1zM31 28h1v1h-1z"/>
<path fill="#669900" d="M26 4h1v1h-1zM27 5h1v1h-1zM21 6h1v1h-1zM24 6h1v1h-1zM27 6h1v1h-1zM22 7h1v1h-1zM25 7h1v1h-1zM26 7h1v1h-1zM27 7h1v1h-1zM15 8h1v1h-1zM22 8h1v1h-1zM24 8h1v1h-1zM31 8h1v1h-1zM10 9h1v1h-1zM17 9h1v1h-1zM18 9h1v1h-1zM20 9h1v1h-1zM21 9h1v1h-1zM22 9h1v1h-1zM23 9h1v1h-1zM24 9h1v1h-1zM28 9h1v1h-1zM30 9h1v1h-1zM6 10h1v1h-1zM18 10h1v1h-1zM23 10h1v1h-1zM25 10h1v1h-1zM28 10h1v1h-1zM5 11h1v1h-1zM6 11h1v1h-1zM22 11h1v1h-1zM27 11h1v1h-1zM28 11h1v1h-1zM4 12h1v1h-1zM9 12h1v1h-1zM12 12h1v1h-1zM15 12h1v1h-1zM18 12h1v1h-1zM23 12h1v1h-1zM24 12h1v1h-1zM26 12h1v1h-1zM29 12h1v1h-1zM4 13h1v1h-1zM5 13h1v1h-1zM10 13h1v1h-1zM12 13h1v1h-1zM13 13h1v1h-1zM22 13h1v1h-1zM24 13h1v1h-1zM26 13h1v1h-1zM29 13h1v1h-1zM33 13h1v1h-1zM34 13h1v1h-1zM5 14h1v1h-1zM6 14h1v1h-1zM15 14h1v1h-1zM29 14h1v1h-1zM10 15h1v1h-1zM14 15h1v1h-1zM17 15h1v1h-1zM18 15h1v1h-1zM23 15h1v1h-1zM25 15h1v1h-1zM29 15h1v1h-1zM34 15h1v1h-1zM4 16h1v1h-1zM12 16h1v1h-1zM13 16h1v1h-1zM14 16h1v1h-1zM15 16h1v1h-1zM19 16h1v1h-1zM29 16h1v1h-1zM34 16h1v1h-1zM37 16h1v1h-1zM7 17h1v1h-1zM8 17h1v1h-1zM12 17h1v1h-1zM13 17h1v1h-1zM14 17h1v1h-1zM21 17h1v1h-1zM24 17h1v1h-1zM25 17h1v1h-1zM29 17h1v1h-1zM30 17h1v1h-1zM31 17h1v1h-1zM33 17h1v1h-1zM8 18h1v1h-1zM9 18h1v1h-1zM10 18h1v1h-1zM37 18h1v1h-1zM10 19h1v1h-1zM11 19h1v1h-1zM15 19h1v1h-1zM16 19h1v1h-1zM25 19h1v1h-1zM29 19h1v1h-1zM33 19h1v1h-1zM34 19h1v1h-1zM35 19h1v1h-1zM37 19h1v1h-1zM10 20h1v1h-1zM11 20h1v1h-1zM12 20h1v1h-1zM18 20h1v1h-1zM23 20h1v1h-1zM32 20h1v1h-1zM33 20h1v1h-1zM34 20h1v1h-1zM35 20h1v1h-1zM36 20h1v1h-1zM11 21h1v1h-1zM14 21h1v1h-1zM20 21h1v1h-1zM28 21h1v1h-1zM29 21h1v1h-1zM36 21h1v1h-1zM38 21h1v1h-1zM14 22h1v1h-1zM19 22h1v1h-1zM22 22h1v1h-1zM31 22h1v1h-1zM32 22h1v1h-1zM12 23h1v1h-1zM15 23h1v1h-1zM16 23h1v1h-1zM17 23h1v1h-1zM18 23h1v1h-1zM23 23h1v1h-1zM25 23h1v1h-1zM26 23h1v1h-1zM29 23h1v1h-1zM30 23h1v1h-1zM33 23h1v1h-1zM35 23h1v1h-1zM36 23h1v1h-1zM14 24h1v1h-1zM15 24h1v1h-1zM16 24h1v1h-1zM20 24h1v1h-1zM21 24h1v1h-1zM23 24h1v1h-1zM30 24h1v1h-1zM36 24h1v1h-1zM13 25h1v1h-1zM20 25h1v1h-1zM26 25h1v1h-1zM30 25h1v1h-1zM33 25h1v1h-1zM17 26h1v1h-1zM19 26h1v1h-1zM27 26h1v1h-1zM30 26h1v1h-1zM31 26h1v1h-1zM19 27h1v1h-1zM22 27h1v1h-1zM25 27h1v1h-1zM31 27h1v1h-1zM33 27h1v1h-1zM20 28h1v1h-1zM29 28h1v1h-1zM30 28h1v1h-1zM32 28h1v1h-1zM34 28h1v1h-1z"/>
<path fill="#353500" d="M34 4h1v1h-1z"/>
<path fill="#060f00" d="M14 5h1v1h-1zM4 7h1v1h-1zM2 8h1v1h-1zM1 16h1v1h-1zM3 17h1v1h-1zM39 17h1v1h-1zM7 21h1v1h-1zM40 24h1v1h-1zM11 26h1v1h-1zM13 28h1v1h-1zM18 30h1v1h-1zM20 31h1v1h-1zM30 31h1v1h-1z"/>
<path fill="#4db200" d="M22 5h1v1h-1zM23 5h1v1h-1zM28 5h1v1h-1zM26 8h1v1h-1zM30 8h1v1h-1zM27 9h1v1h-1zM29 9h1v1h-1zM3 10h1v1h-1zM5 10h1v1h-1zM13 10h1v1h-1zM22 10h1v1h-1zM3 11h1v1h-1zM21 11h1v1h-1zM3 12h1v1h-1zM22 12h1v1h-1zM35 12h1v1h-1zM18 13h1v1h-1zM25 13h1v1h-1zM31 13h1v1h-1zM18 14h1v1h-1zM11 15h1v1h-1zM15 15h1v1h-1zM26 15h1v1h-1zM32 15h1v1h-1zM35 15h1v1h-1zM37 15h1v1h-1zM10 17h1v1h-1zM11 17h1v1h-1zM20 17h1v1h-1zM26 17h1v1h-1zM27 17h1v1h-1zM32 17h1v1h-1zM34 17h1v1h-1zM12 18h1v1h-1zM13 18h1v1h-1zM23 18h1v1h-1zM14 19h1v1h-1zM17 19h1v1h-1zM13 20h1v1h-1zM15 20h1v1h-1zM31 20h1v1h-1zM12 21h1v1h-1zM13 21h1v1h-1zM18 21h1v1h-1zM19 21h1v1h-1zM32 21h1v1h-1zM33 21h1v1h-1zM34 21h1v1h-1zM13 22h1v1h-1zM16 22h1v1h-1zM17 22h1v1h-1zM37 22h1v1h-1zM13 23h1v1h-1zM14 23h1v1h-1zM19 23h1v1h-1zM27 23h1v1h-1zM13 24h1v1h-1zM17 24h1v1h-1zM18 24h1v1h-1zM32 24h1v1h-1zM33 24h1v1h-1zM14 25h1v1h-1zM22 25h1v1h-1zM23 25h1v1h-1zM34 25h1v1h-1zM16 26h1v1h-1zM25 26h1v1h-1zM26 26h1v1h-1zM28 26h1v1h-1zM18 27h1v1h-1zM26 27h1v1h-1zM27 27h1v1h-1zM32 27h1v1h-1zM23 28h1v1h-1zM27 28h1v1h-1z"/>
<path fill="#cc3300" d="M33 5h1v1h-1zM24 7h1v1h-1zM19 8h1v1h-1zM33 10h1v1h-1zM34 10h1v1h-1zM15 13h1v1h-1zM17 17h1v1h-1zM22 17h1v1h-1zM25 20h1v1h-1z"/>
<path fill="#220800" d="M14 6h1v1h-1z"/>
<path fill="#2d1300" d="M15 6h1v1h-1zM11 7h1v1h-1z"/>
<path fill="#8c5e00" d="M16 6h1v1h-1zM38 23h1v1h-1z"/>
<path fill="#954000" d="M34 6h1v1h-1zM37 8h1v1h-1z"/>
<path fill="#332200" d="M12 7h1v1h-1z"/>
<path fill="#805500" d="M35 7h1v1h-1zM8 19h1v1h-1z"/>
<path fill="#551500" d="M36 7h1v1h-1z"/>
<path fill="#202000" d="M38 7h1v1h-1zM8 8h1v1h-1zM2 12h1v1h-1zM38 15h1v1h-1zM39 19h1v1h-1zM39 21h1v1h-1zM35 28h1v1h-1zM35 29h1v1h-1zM27 30h1v1h-1zM28 30h1v1h-1z"/>
<path fill="#132d00" d="M5 8h1v1h-1zM39 20h1v1h-1z"/>
<path fill="#1a2600" d="M7 8h1v1h-1zM38 17h1v1h-1zM6 18h1v1h-1zM8 21h1v1h-1zM9 22h1v1h-1zM11 25h1v1h-1zM36 25h1v1h-1zM16 28h1v1h-1zM18 29h1v1h-1zM29 30h1v1h-1zM30 30h1v1h-1zM31 30h1v1h-1z"/>
<path fill="#402a00" d="M10 8h1v1h-1z"/>
<path fill="#00ff00" d="M28 8h1v1h-1zM4 10h1v1h-1zM8 11h1v1h-1zM19 11h1v1h-1zM32 13h1v1h-1zM37 14h1v1h-1zM22 26h1v1h-1zM24 26h1v1h-1zM34 26h1v1h-1zM29 27h1v1h-1zM33 28h1v1h-1z"/>
<path fill="#682d00" d="M38 8h1v1h-1z"/>
<path fill="#2a2a00" d="M3 9h1v1h-1zM35 27h1v1h-1z"/>
<path fill="#593c00" d="M4 9h1v1h-1z"/>
<path fill="#446600" d="M5 9h1v1h-1zM35 25h1v1h-1z"/>
<path fill="#4c7300" d="M6 9h1v1h-1zM3 15h1v1h-1z"/>
<path fill="#606000" d="M9 9h1v1h-1z"/>
<path fill="#004000" d="M39 11h1v1h-1z"/>
<path fill="#33cc00" d="M17 13h1v1h-1zM11 14h1v1h-1zM22 14h1v1h-1zM6 15h1v1h-1zM8 15h1v1h-1zM13 15h1v1h-1zM20 18h1v1h-1zM12 19h1v1h-1zM36 19h1v1h-1zM12 22h1v1h-1zM15 22h1v1h-1zM34 22h1v1h-1zM20 23h1v1h-1zM27 25h1v1h-1zM25 28h1v1h-1zM26 28h1v1h-1zM28 28h1v1h-1z"/>
<path fill="#111a00" d="M2 14h1v1h-1zM5 18h1v1h-1zM39 23h1v1h-1zM38 24h1v1h-1zM12 26h1v1h-1zM36 26h1v1h-1zM13 27h1v1h-1zM15 28h1v1h-1zM17 29h1v1h-1zM20 30h1v1h-1zM21 30h1v1h-1zM32 30h1v1h-1zM33 30h1v1h-1z"/>
<path fill="#223300" d="M3 16h1v1h-1zM19 29h1v1h-1z"/>
<path fill="#334c00" d="M5 17h1v1h-1zM37 24h1v1h-1zM20 29h1v1h-1zM25 29h1v1h-1z"/>
<path fill="#4a4a00" d="M7 18h1v1h-1zM31 29h1v1h-1z"/>
<path fill="#2a4000" d="M38 18h1v1h-1zM10 22h1v1h-1zM11 24h1v1h-1zM23 29h1v1h-1zM26 29h1v1h-1z"/>
<path fill="#063900" d="M7 19h1v1h-1zM24 30h1v1h-1z"/>
<path fill="#558000" d="M38 19h1v1h-1z"/>
<path fill="#0d7300" d="M8 20h1v1h-1z"/>
<path fill="#398600" d="M9 21h1v1h-1z"/>
<path fill="#19e600" d="M10 21h1v1h-1zM17 21h1v1h-1z"/>
<path fill="#409500" d="M11 22h1v1h-1zM12 25h1v1h-1z"/>
<path fill="#042600" d="M10 23h1v1h-1z"/>
<path fill="#009500" d="M11 23h1v1h-1z"/>
<path fill="#041100" d="M40 23h1v1h-1z"/>
<path fill="#082200" d="M37 25h1v1h-1z"/>
<path fill="#2d6800" d="M13 26h1v1h-1zM15 27h1v1h-1z"/>
<path fill="#008000" d="M35 26h1v1h-1zM24 29h1v1h-1zM30 29h1v1h-1zM32 29h1v1h-1z"/>
<path fill="#204a00" d="M17 28h1v1h-1zM29 29h1v1h-1zM33 29h1v1h-1z"/>
<path fill="#265900" d="M21 29h1v1h-1z"/>
<path fill="#196600" d="M22 29h1v1h-1zM27 29h1v1h-1z"/>
<path fill="#006a00" d="M28 29h1v1h-1zM34 29h1v1h-1z"/>
<path fill="#0d3300" d="M22 30h1v1h-1z"/>
<path fill="#0d1e00" d="M23 30h1v1h-1zM25 30h1v1h-1zM26 30h1v1h-1z"/>
<path fill="#021300" d="M21 31h1v1h-1z"/>
</g></g>
<g filter="url(#bp)"><g transform="translate(1621.80 418.60) scale(7.6)" shape-rendering="crispEdges">
<path fill="#0b0b00" d="M17 1h1v1h-1zM16 2h1v1h-1zM15 5h1v1h-1zM36 5h1v1h-1zM12 6h1v1h-1zM13 6h1v1h-1zM15 6h1v1h-1zM37 6h1v1h-1zM40 7h1v1h-1zM41 8h1v1h-1zM1 10h1v1h-1zM40 12h1v1h-1zM40 13h1v1h-1zM2 17h1v1h-1zM3 17h1v1h-1zM41 21h1v1h-1zM7 22h1v1h-1zM9 24h1v1h-1zM12 26h1v1h-1zM37 29h1v1h-1zM18 30h1v1h-1zM22 30h1v1h-1zM24 30h1v1h-1zM31 30h1v1h-1zM35 30h1v1h-1z"/>
<path fill="#150000" d="M18 1h1v1h-1zM19 1h1v1h-1zM20 1h1v1h-1zM23 1h1v1h-1zM24 1h1v1h-1zM25 1h1v1h-1zM27 1h1v1h-1zM30 1h1v1h-1zM31 1h1v1h-1zM32 1h1v1h-1zM34 1h1v1h-1zM15 2h1v1h-1zM35 2h1v1h-1zM35 3h1v1h-1zM36 3h1v1h-1zM15 4h1v1h-1zM14 5h1v1h-1zM37 5h1v1h-1zM38 5h1v1h-1zM38 6h1v1h-1zM39 6h1v1h-1zM40 6h1v1h-1zM6 7h1v1h-1zM41 7h1v1h-1zM3 8h1v1h-1zM42 10h1v1h-1zM41 11h1v1h-1zM41 20h1v1h-1zM41 22h1v1h-1zM27 30h1v1h-1z"/>
<path fill="#041100" d="M21 1h1v1h-1zM1 9h1v1h-1zM2 16h1v1h-1zM4 18h1v1h-1zM7 19h1v1h-1zM12 27h1v1h-1zM15 28h1v1h-1zM21 30h1v1h-1z"/>
<path fill="#080d00" d="M22 1h1v1h-1zM11 6h1v1h-1zM9 7h1v1h-1zM1 11h1v1h-1zM1 13h1v1h-1zM1 16h1v1h-1zM41 17h1v1h-1zM41 19h1v1h-1zM9 23h1v1h-1zM10 24h1v1h-1zM39 24h1v1h-1zM11 25h1v1h-1zM12 25h1v1h-1zM16 29h1v1h-1zM18 29h1v1h-1zM28 30h1v1h-1zM30 30h1v1h-1zM33 30h1v1h-1z"/>
<path fill="#0f0600" d="M26 1h1v1h-1zM34 2h1v1h-1zM36 4h1v1h-1zM42 9h1v1h-1zM40 14h1v1h-1zM41 18h1v1h-1zM41 23h1v1h-1zM38 25h1v1h-1zM37 28h1v1h-1zM20 30h1v1h-1zM29 30h1v1h-1zM32 30h1v1h-1z"/>
<path fill="#0d0800" d="M28 1h1v1h-1zM29 1h1v1h-1zM10 6h1v1h-1zM41 12h1v1h-1zM40 16h1v1h-1zM40 17h1v1h-1zM7 20h1v1h-1zM7 21h1v1h-1zM8 23h1v1h-1zM40 23h1v1h-1zM38 26h1v1h-1zM37 27h1v1h-1zM36 29h1v1h-1zM23 30h1v1h-1zM34 30h1v1h-1z"/>
<path fill="#2a0000" d="M17 2h1v1h-1zM18 2h1v1h-1zM22 2h1v1h-1zM23 2h1v1h-1zM28 2h1v1h-1zM30 2h1v1h-1zM31 2h1v1h-1zM33 2h1v1h-1zM41 9h1v1h-1zM39 14h1v1h-1zM40 18h1v1h-1zM36 28h1v1h-1z"/>
<path fill="#151500" d="M19 2h1v1h-1zM20 2h1v1h-1zM41 10h1v1h-1zM2 15h1v1h-1zM39 15h1v1h-1zM40 20h1v1h-1zM36 26h1v1h-1zM14 27h1v1h-1z"/>
<path fill="#261a00" d="M21 2h1v1h-1zM35 4h1v1h-1zM36 6h1v1h-1zM11 7h1v1h-1zM12 7h1v1h-1zM2 13h1v1h-1z"/>
<path fill="#1e0d00" d="M24 2h1v1h-1zM32 2h1v1h-1z"/>
<path fill="#400000" d="M25 2h1v1h-1zM27 2h1v1h-1zM35 5h1v1h-1zM13 7h1v1h-1zM37 7h1v1h-1zM39 7h1v1h-1zM2 11h1v1h-1zM40 11h1v1h-1zM39 12h1v1h-1zM5 17h1v1h-1z"/>
<path fill="#202000" d="M26 2h1v1h-1zM16 4h1v1h-1zM38 7h1v1h-1zM3 9h1v1h-1zM40 21h1v1h-1zM36 27h1v1h-1zM35 29h1v1h-1z"/>
<path fill="#2d1300" d="M29 2h1v1h-1zM40 19h1v1h-1zM8 20h1v1h-1zM9 22h1v1h-1zM39 23h1v1h-1z"/>
<path fill="#111a00" d="M16 3h1v1h-1zM4 8h1v1h-1zM2 14h1v1h-1zM37 25h1v1h-1zM19 29h1v1h-1z"/>
<path fill="#33cc00" d="M17 3h1v1h-1zM18 4h1v1h-1zM10 9h1v1h-1zM30 9h1v1h-1zM8 10h1v1h-1zM9 11h1v1h-1zM22 11h1v1h-1zM8 12h1v1h-1zM10 12h1v1h-1zM6 13h1v1h-1zM7 14h1v1h-1zM21 14h1v1h-1zM8 15h1v1h-1zM24 15h1v1h-1zM27 15h1v1h-1zM6 16h1v1h-1zM14 16h1v1h-1zM34 16h1v1h-1zM24 17h1v1h-1zM35 18h1v1h-1zM19 19h1v1h-1zM13 20h1v1h-1zM21 20h1v1h-1zM17 21h1v1h-1zM27 21h1v1h-1zM20 22h1v1h-1zM13 23h1v1h-1zM14 23h1v1h-1zM14 24h1v1h-1zM23 24h1v1h-1zM14 25h1v1h-1zM19 25h1v1h-1zM26 25h1v1h-1zM20 26h1v1h-1zM19 27h1v1h-1zM20 28h1v1h-1z"/>
<path fill="#669900" d="M18 3h1v1h-1zM19 3h1v1h-1zM20 3h1v1h-1zM28 3h1v1h-1zM20 4h1v1h-1zM24 4h1v1h-1zM26 4h1v1h-1zM18 5h1v1h-1zM22 6h1v1h-1zM24 6h1v1h-1zM28 6h1v1h-1zM30 6h1v1h-1zM17 7h1v1h-1zM26 7h1v1h-1zM30 7h1v1h-1zM14 8h1v1h-1zM17 8h1v1h-1zM20 8h1v1h-1zM28 8h1v1h-1zM36 8h1v1h-1zM9 9h1v1h-1zM11 9h1v1h-1zM18 9h1v1h-1zM20 9h1v1h-1zM31 9h1v1h-1zM4 10h1v1h-1zM5 10h1v1h-1zM11 10h1v1h-1zM13 10h1v1h-1zM14 10h1v1h-1zM16 10h1v1h-1zM26 10h1v1h-1zM28 10h1v1h-1zM29 10h1v1h-1zM37 10h1v1h-1zM4 11h1v1h-1zM5 11h1v1h-1zM12 11h1v1h-1zM16 11h1v1h-1zM17 11h1v1h-1zM21 11h1v1h-1zM27 11h1v1h-1zM28 11h1v1h-1zM36 11h1v1h-1zM12 12h1v1h-1zM13 12h1v1h-1zM17 12h1v1h-1zM32 12h1v1h-1zM34 12h1v1h-1zM4 13h1v1h-1zM9 13h1v1h-1zM11 13h1v1h-1zM12 13h1v1h-1zM13 13h1v1h-1zM16 13h1v1h-1zM23 13h1v1h-1zM27 13h1v1h-1zM30 13h1v1h-1zM4 14h1v1h-1zM6 14h1v1h-1zM10 14h1v1h-1zM16 14h1v1h-1zM17 14h1v1h-1zM27 14h1v1h-1zM34 14h1v1h-1zM35 14h1v1h-1zM6 15h1v1h-1zM10 15h1v1h-1zM12 15h1v1h-1zM21 15h1v1h-1zM29 15h1v1h-1zM30 15h1v1h-1zM31 15h1v1h-1zM33 15h1v1h-1zM36 15h1v1h-1zM8 16h1v1h-1zM11 16h1v1h-1zM13 16h1v1h-1zM17 16h1v1h-1zM19 16h1v1h-1zM22 16h1v1h-1zM24 16h1v1h-1zM11 17h1v1h-1zM15 17h1v1h-1zM28 17h1v1h-1zM36 17h1v1h-1zM13 18h1v1h-1zM16 18h1v1h-1zM17 18h1v1h-1zM27 18h1v1h-1zM30 18h1v1h-1zM31 18h1v1h-1zM12 19h1v1h-1zM13 19h1v1h-1zM17 19h1v1h-1zM18 19h1v1h-1zM20 19h1v1h-1zM21 19h1v1h-1zM14 20h1v1h-1zM15 20h1v1h-1zM18 20h1v1h-1zM19 20h1v1h-1zM28 20h1v1h-1zM11 21h1v1h-1zM18 21h1v1h-1zM22 21h1v1h-1zM23 21h1v1h-1zM25 21h1v1h-1zM11 22h1v1h-1zM14 22h1v1h-1zM18 22h1v1h-1zM12 23h1v1h-1zM15 23h1v1h-1zM19 23h1v1h-1zM21 23h1v1h-1zM24 23h1v1h-1zM15 24h1v1h-1zM16 24h1v1h-1zM18 24h1v1h-1zM22 24h1v1h-1zM26 24h1v1h-1zM29 24h1v1h-1zM33 24h1v1h-1zM17 25h1v1h-1zM20 25h1v1h-1zM22 25h1v1h-1zM24 25h1v1h-1zM17 26h1v1h-1zM27 26h1v1h-1zM28 26h1v1h-1zM18 27h1v1h-1zM26 27h1v1h-1zM25 28h1v1h-1zM28 28h1v1h-1zM29 28h1v1h-1z"/>
<path fill="#808000" d="M21 3h1v1h-1zM17 4h1v1h-1zM22 4h1v1h-1zM19 5h1v1h-1zM22 5h1v1h-1zM23 5h1v1h-1zM25 5h1v1h-1zM28 5h1v1h-1zM29 5h1v1h-1zM23 6h1v1h-1zM25 6h1v1h-1zM21 7h1v1h-1zM28 7h1v1h-1zM31 7h1v1h-1zM32 7h1v1h-1zM33 7h1v1h-1zM35 7h1v1h-1zM16 8h1v1h-1zM22 8h1v1h-1zM32 8h1v1h-1zM33 8h1v1h-1zM34 8h1v1h-1zM35 8h1v1h-1zM38 8h1v1h-1zM12 9h1v1h-1zM13 9h1v1h-1zM21 9h1v1h-1zM23 9h1v1h-1zM27 9h1v1h-1zM28 9h1v1h-1zM32 9h1v1h-1zM33 9h1v1h-1zM34 9h1v1h-1zM36 9h1v1h-1zM38 9h1v1h-1zM7 10h1v1h-1zM9 10h1v1h-1zM10 10h1v1h-1zM21 10h1v1h-1zM33 10h1v1h-1zM35 10h1v1h-1zM7 11h1v1h-1zM11 11h1v1h-1zM13 11h1v1h-1zM19 11h1v1h-1zM33 11h1v1h-1zM35 11h1v1h-1zM5 12h1v1h-1zM33 12h1v1h-1zM35 12h1v1h-1zM3 13h1v1h-1zM18 13h1v1h-1zM19 13h1v1h-1zM21 13h1v1h-1zM31 13h1v1h-1zM33 13h1v1h-1zM36 13h1v1h-1zM37 13h1v1h-1zM3 14h1v1h-1zM13 14h1v1h-1zM14 14h1v1h-1zM15 14h1v1h-1zM32 14h1v1h-1zM33 14h1v1h-1zM37 14h1v1h-1zM9 15h1v1h-1zM13 15h1v1h-1zM14 15h1v1h-1zM15 15h1v1h-1zM16 15h1v1h-1zM17 15h1v1h-1zM18 15h1v1h-1zM28 15h1v1h-1zM9 16h1v1h-1zM28 16h1v1h-1zM29 16h1v1h-1zM31 16h1v1h-1zM32 16h1v1h-1zM35 16h1v1h-1zM9 17h1v1h-1zM10 17h1v1h-1zM18 17h1v1h-1zM21 17h1v1h-1zM22 17h1v1h-1zM30 17h1v1h-1zM31 17h1v1h-1zM32 17h1v1h-1zM12 18h1v1h-1zM14 18h1v1h-1zM19 18h1v1h-1zM21 18h1v1h-1zM25 18h1v1h-1zM26 18h1v1h-1zM11 19h1v1h-1zM14 19h1v1h-1zM16 19h1v1h-1zM22 19h1v1h-1zM23 19h1v1h-1zM25 19h1v1h-1zM34 19h1v1h-1zM35 19h1v1h-1zM37 19h1v1h-1zM10 20h1v1h-1zM17 20h1v1h-1zM29 20h1v1h-1zM30 20h1v1h-1zM37 20h1v1h-1zM12 21h1v1h-1zM14 21h1v1h-1zM26 21h1v1h-1zM31 21h1v1h-1zM34 21h1v1h-1zM35 21h1v1h-1zM38 21h1v1h-1zM16 22h1v1h-1zM17 22h1v1h-1zM23 22h1v1h-1zM24 22h1v1h-1zM35 22h1v1h-1zM37 22h1v1h-1zM22 23h1v1h-1zM29 23h1v1h-1zM30 23h1v1h-1zM32 23h1v1h-1zM19 24h1v1h-1zM21 24h1v1h-1zM28 24h1v1h-1zM32 24h1v1h-1zM16 25h1v1h-1zM25 25h1v1h-1zM29 25h1v1h-1zM33 25h1v1h-1zM22 26h1v1h-1zM23 26h1v1h-1zM22 27h1v1h-1zM25 27h1v1h-1zM27 27h1v1h-1zM28 27h1v1h-1zM31 28h1v1h-1zM33 28h1v1h-1zM34 28h1v1h-1z"/>
<path fill="#ff0000" d="M22 3h1v1h-1zM23 3h1v1h-1zM24 3h1v1h-1zM25 3h1v1h-1zM26 3h1v1h-1zM31 3h1v1h-1zM19 4h1v1h-1zM21 4h1v1h-1zM32 4h1v1h-1zM33 4h1v1h-1zM17 5h1v1h-1zM21 5h1v1h-1zM24 5h1v1h-1zM26 5h1v1h-1zM27 5h1v1h-1zM21 6h1v1h-1zM26 6h1v1h-1zM31 6h1v1h-1zM33 6h1v1h-1zM18 7h1v1h-1zM19 7h1v1h-1zM23 7h1v1h-1zM24 7h1v1h-1zM26 8h1v1h-1zM39 8h1v1h-1zM37 9h1v1h-1zM31 10h1v1h-1zM36 10h1v1h-1zM38 10h1v1h-1zM3 11h1v1h-1zM22 12h1v1h-1zM37 12h1v1h-1zM25 13h1v1h-1zM32 13h1v1h-1zM8 14h1v1h-1zM28 14h1v1h-1zM21 16h1v1h-1zM37 16h1v1h-1zM12 17h1v1h-1zM13 17h1v1h-1zM37 17h1v1h-1zM38 17h1v1h-1zM22 18h1v1h-1zM37 18h1v1h-1zM32 19h1v1h-1zM38 19h1v1h-1zM27 20h1v1h-1zM21 21h1v1h-1zM28 21h1v1h-1zM33 22h1v1h-1zM25 23h1v1h-1zM35 23h1v1h-1zM36 23h1v1h-1zM37 23h1v1h-1zM35 24h1v1h-1z"/>
<path fill="#996600" d="M27 3h1v1h-1zM23 4h1v1h-1zM27 4h1v1h-1zM29 4h1v1h-1zM31 4h1v1h-1zM20 5h1v1h-1zM31 5h1v1h-1zM32 5h1v1h-1zM18 6h1v1h-1zM19 6h1v1h-1zM27 6h1v1h-1zM29 6h1v1h-1zM34 6h1v1h-1zM20 7h1v1h-1zM22 7h1v1h-1zM34 7h1v1h-1zM13 8h1v1h-1zM19 8h1v1h-1zM23 8h1v1h-1zM24 8h1v1h-1zM25 8h1v1h-1zM27 8h1v1h-1zM29 8h1v1h-1zM30 8h1v1h-1zM31 8h1v1h-1zM15 9h1v1h-1zM17 9h1v1h-1zM24 9h1v1h-1zM29 9h1v1h-1zM39 9h1v1h-1zM15 10h1v1h-1zM17 10h1v1h-1zM18 10h1v1h-1zM19 10h1v1h-1zM22 10h1v1h-1zM23 10h1v1h-1zM30 10h1v1h-1zM39 10h1v1h-1zM14 11h1v1h-1zM20 11h1v1h-1zM25 11h1v1h-1zM29 11h1v1h-1zM31 11h1v1h-1zM34 11h1v1h-1zM37 11h1v1h-1zM9 12h1v1h-1zM11 12h1v1h-1zM15 12h1v1h-1zM16 12h1v1h-1zM23 12h1v1h-1zM24 12h1v1h-1zM25 12h1v1h-1zM26 12h1v1h-1zM28 12h1v1h-1zM36 12h1v1h-1zM8 13h1v1h-1zM15 13h1v1h-1zM17 13h1v1h-1zM20 13h1v1h-1zM22 13h1v1h-1zM28 13h1v1h-1zM35 13h1v1h-1zM9 14h1v1h-1zM11 14h1v1h-1zM19 14h1v1h-1zM22 14h1v1h-1zM24 14h1v1h-1zM25 14h1v1h-1zM26 14h1v1h-1zM29 14h1v1h-1zM31 14h1v1h-1zM19 15h1v1h-1zM22 15h1v1h-1zM23 15h1v1h-1zM25 15h1v1h-1zM35 15h1v1h-1zM5 16h1v1h-1zM12 16h1v1h-1zM15 16h1v1h-1zM8 17h1v1h-1zM16 17h1v1h-1zM20 17h1v1h-1zM23 17h1v1h-1zM25 17h1v1h-1zM34 17h1v1h-1zM10 18h1v1h-1zM11 18h1v1h-1zM28 18h1v1h-1zM10 19h1v1h-1zM33 19h1v1h-1zM23 20h1v1h-1zM25 20h1v1h-1zM26 20h1v1h-1zM31 20h1v1h-1zM33 20h1v1h-1zM34 20h1v1h-1zM38 20h1v1h-1zM10 21h1v1h-1zM15 21h1v1h-1zM19 21h1v1h-1zM30 21h1v1h-1zM32 21h1v1h-1zM13 22h1v1h-1zM25 22h1v1h-1zM27 22h1v1h-1zM28 22h1v1h-1zM29 22h1v1h-1zM31 22h1v1h-1zM32 22h1v1h-1zM38 22h1v1h-1zM20 23h1v1h-1zM26 23h1v1h-1zM31 23h1v1h-1zM33 23h1v1h-1zM24 24h1v1h-1zM25 24h1v1h-1zM31 24h1v1h-1zM21 25h1v1h-1zM27 25h1v1h-1zM28 25h1v1h-1zM34 25h1v1h-1zM26 26h1v1h-1zM29 26h1v1h-1zM30 26h1v1h-1zM33 26h1v1h-1zM35 26h1v1h-1zM20 27h1v1h-1zM30 27h1v1h-1zM31 27h1v1h-1zM33 27h1v1h-1zM34 27h1v1h-1zM21 28h1v1h-1zM30 28h1v1h-1z"/>
<path fill="#b24c00" d="M29 3h1v1h-1zM30 3h1v1h-1zM25 4h1v1h-1zM28 4h1v1h-1zM33 5h1v1h-1zM34 5h1v1h-1zM20 6h1v1h-1zM25 7h1v1h-1zM29 7h1v1h-1zM12 8h1v1h-1zM16 9h1v1h-1zM19 9h1v1h-1zM25 9h1v1h-1zM26 9h1v1h-1zM20 10h1v1h-1zM24 10h1v1h-1zM27 10h1v1h-1zM8 11h1v1h-1zM15 11h1v1h-1zM18 11h1v1h-1zM23 11h1v1h-1zM24 11h1v1h-1zM14 12h1v1h-1zM20 12h1v1h-1zM29 13h1v1h-1zM18 14h1v1h-1zM36 14h1v1h-1zM34 15h1v1h-1zM23 16h1v1h-1zM26 16h1v1h-1zM30 16h1v1h-1zM33 16h1v1h-1zM36 16h1v1h-1zM26 17h1v1h-1zM27 17h1v1h-1zM33 17h1v1h-1zM18 18h1v1h-1zM24 18h1v1h-1zM29 18h1v1h-1zM38 18h1v1h-1zM28 19h1v1h-1zM29 19h1v1h-1zM30 19h1v1h-1zM31 19h1v1h-1zM11 20h1v1h-1zM22 20h1v1h-1zM29 21h1v1h-1zM33 21h1v1h-1zM36 21h1v1h-1zM37 21h1v1h-1zM12 22h1v1h-1zM15 22h1v1h-1zM30 22h1v1h-1zM36 22h1v1h-1zM16 23h1v1h-1zM27 23h1v1h-1zM20 24h1v1h-1zM27 24h1v1h-1zM30 24h1v1h-1zM36 24h1v1h-1zM30 25h1v1h-1zM32 25h1v1h-1zM15 26h1v1h-1zM25 26h1v1h-1zM31 26h1v1h-1zM32 26h1v1h-1zM34 26h1v1h-1zM29 27h1v1h-1zM32 27h1v1h-1zM26 28h1v1h-1zM27 28h1v1h-1z"/>
<path fill="#773300" d="M32 3h1v1h-1z"/>
<path fill="#882200" d="M33 3h1v1h-1z"/>
<path fill="#6a0000" d="M34 3h1v1h-1zM16 6h1v1h-1zM40 8h1v1h-1zM39 21h1v1h-1zM36 25h1v1h-1z"/>
<path fill="#00ff00" d="M30 4h1v1h-1zM32 6h1v1h-1zM27 7h1v1h-1zM12 10h1v1h-1zM25 10h1v1h-1zM32 10h1v1h-1zM12 14h1v1h-1zM30 14h1v1h-1zM26 15h1v1h-1zM7 16h1v1h-1zM17 17h1v1h-1zM23 18h1v1h-1zM26 19h1v1h-1zM32 20h1v1h-1zM36 20h1v1h-1zM22 22h1v1h-1zM26 22h1v1h-1zM34 22h1v1h-1zM32 28h1v1h-1z"/>
<path fill="#bf1500" d="M34 4h1v1h-1z"/>
<path fill="#550000" d="M16 5h1v1h-1zM39 17h1v1h-1zM32 29h1v1h-1z"/>
<path fill="#cc3300" d="M30 5h1v1h-1zM21 8h1v1h-1zM37 8h1v1h-1zM19 12h1v1h-1zM27 12h1v1h-1zM30 12h1v1h-1zM14 13h1v1h-1zM24 13h1v1h-1zM20 14h1v1h-1zM25 16h1v1h-1zM27 16h1v1h-1zM34 18h1v1h-1zM36 18h1v1h-1zM27 19h1v1h-1zM35 20h1v1h-1zM20 21h1v1h-1zM18 23h1v1h-1zM34 24h1v1h-1zM35 25h1v1h-1z"/>
<path fill="#060f00" d="M14 6h1v1h-1zM5 7h1v1h-1zM7 7h1v1h-1zM8 7h1v1h-1zM10 7h1v1h-1zM2 8h1v1h-1zM2 9h1v1h-1zM1 12h1v1h-1zM1 14h1v1h-1zM5 18h1v1h-1zM13 27h1v1h-1zM15 29h1v1h-1zM25 30h1v1h-1z"/>
<path fill="#4db200" d="M17 6h1v1h-1zM15 8h1v1h-1zM18 8h1v1h-1zM14 9h1v1h-1zM22 9h1v1h-1zM6 10h1v1h-1zM6 11h1v1h-1zM10 11h1v1h-1zM26 11h1v1h-1zM30 11h1v1h-1zM32 11h1v1h-1zM3 12h1v1h-1zM4 12h1v1h-1zM6 12h1v1h-1zM7 12h1v1h-1zM29 12h1v1h-1zM31 12h1v1h-1zM5 13h1v1h-1zM7 13h1v1h-1zM26 13h1v1h-1zM34 13h1v1h-1zM23 14h1v1h-1zM4 15h1v1h-1zM5 15h1v1h-1zM7 15h1v1h-1zM11 15h1v1h-1zM20 15h1v1h-1zM32 15h1v1h-1zM37 15h1v1h-1zM10 16h1v1h-1zM18 16h1v1h-1zM20 16h1v1h-1zM14 17h1v1h-1zM19 17h1v1h-1zM29 17h1v1h-1zM9 18h1v1h-1zM15 18h1v1h-1zM20 18h1v1h-1zM32 18h1v1h-1zM33 18h1v1h-1zM15 19h1v1h-1zM24 19h1v1h-1zM36 19h1v1h-1zM12 20h1v1h-1zM16 20h1v1h-1zM24 20h1v1h-1zM13 21h1v1h-1zM16 21h1v1h-1zM24 21h1v1h-1zM21 22h1v1h-1zM23 23h1v1h-1zM28 23h1v1h-1zM34 23h1v1h-1zM15 25h1v1h-1zM18 25h1v1h-1zM23 25h1v1h-1zM16 26h1v1h-1zM18 26h1v1h-1zM19 26h1v1h-1zM21 26h1v1h-1zM24 26h1v1h-1zM17 27h1v1h-1zM21 27h1v1h-1zM23 27h1v1h-1zM24 27h1v1h-1zM22 28h1v1h-1zM23 28h1v1h-1z"/>
<path fill="#558000" d="M35 6h1v1h-1z"/>
<path fill="#114400" d="M14 7h1v1h-1z"/>
<path fill="#332200" d="M15 7h1v1h-1zM12 24h1v1h-1zM15 27h1v1h-1zM22 29h1v1h-1zM23 29h1v1h-1zM25 29h1v1h-1z"/>
<path fill="#664400" d="M16 7h1v1h-1z"/>
<path fill="#6a6a00" d="M36 7h1v1h-1z"/>
<path fill="#0d3300" d="M5 8h1v1h-1zM4 17h1v1h-1z"/>
<path fill="#0d1e00" d="M6 8h1v1h-1zM7 18h1v1h-1zM11 24h1v1h-1zM16 28h1v1h-1z"/>
<path fill="#1a2600" d="M7 8h1v1h-1zM9 8h1v1h-1zM2 12h1v1h-1zM3 16h1v1h-1zM39 16h1v1h-1zM8 19h1v1h-1zM10 23h1v1h-1zM38 24h1v1h-1zM13 25h1v1h-1z"/>
<path fill="#042600" d="M8 8h1v1h-1z"/>
<path fill="#132d00" d="M10 8h1v1h-1zM2 10h1v1h-1zM39 13h1v1h-1zM20 29h1v1h-1z"/>
<path fill="#446600" d="M11 8h1v1h-1z"/>
<path fill="#265900" d="M4 9h1v1h-1z"/>
<path fill="#555500" d="M5 9h1v1h-1zM7 9h1v1h-1zM38 12h1v1h-1zM4 16h1v1h-1zM8 18h1v1h-1zM9 21h1v1h-1z"/>
<path fill="#337700" d="M6 9h1v1h-1zM16 27h1v1h-1zM19 28h1v1h-1z"/>
<path fill="#409500" d="M8 9h1v1h-1zM38 11h1v1h-1z"/>
<path fill="#e61a00" d="M35 9h1v1h-1zM18 12h1v1h-1zM21 12h1v1h-1zM35 17h1v1h-1zM31 25h1v1h-1z"/>
<path fill="#592600" d="M40 9h1v1h-1zM35 28h1v1h-1z"/>
<path fill="#805500" d="M3 10h1v1h-1z"/>
<path fill="#19e600" d="M34 10h1v1h-1zM10 13h1v1h-1zM5 14h1v1h-1zM16 16h1v1h-1zM20 20h1v1h-1zM19 22h1v1h-1zM17 23h1v1h-1zM17 24h1v1h-1zM24 28h1v1h-1z"/>
<path fill="#800000" d="M40 10h1v1h-1zM39 20h1v1h-1zM39 22h1v1h-1z"/>
<path fill="#4a2000" d="M39 11h1v1h-1z"/>
<path fill="#682d00" d="M38 13h1v1h-1z"/>
<path fill="#334c00" d="M38 14h1v1h-1z"/>
<path fill="#2aaa00" d="M3 15h1v1h-1z"/>
<path fill="#404000" d="M38 15h1v1h-1zM6 17h1v1h-1zM39 18h1v1h-1z"/>
<path fill="#021300" d="M40 15h1v1h-1zM17 29h1v1h-1z"/>
<path fill="#950000" d="M38 16h1v1h-1z"/>
<path fill="#398600" d="M7 17h1v1h-1zM9 19h1v1h-1z"/>
<path fill="#082200" d="M6 18h1v1h-1z"/>
<path fill="#110400" d="M6 19h1v1h-1zM37 26h1v1h-1z"/>
<path fill="#4c3300" d="M39 19h1v1h-1z"/>
<path fill="#2d6800" d="M9 20h1v1h-1z"/>
<path fill="#1a1100" d="M8 21h1v1h-1zM40 22h1v1h-1zM13 26h1v1h-1zM17 28h1v1h-1z"/>
<path fill="#001500" d="M8 22h1v1h-1zM14 28h1v1h-1zM26 30h1v1h-1z"/>
<path fill="#4c7300" d="M10 22h1v1h-1z"/>
<path fill="#730d00" d="M11 23h1v1h-1z"/>
<path fill="#863900" d="M38 23h1v1h-1z"/>
<path fill="#606000" d="M13 24h1v1h-1z"/>
<path fill="#aa0000" d="M37 24h1v1h-1z"/>
<path fill="#119900" d="M14 26h1v1h-1z"/>
<path fill="#734c00" d="M35 27h1v1h-1z"/>
<path fill="#2a4000" d="M18 28h1v1h-1z"/>
<path fill="#223300" d="M21 29h1v1h-1zM24 29h1v1h-1z"/>
<path fill="#084c00" d="M26 29h1v1h-1z"/>
<path fill="#3c1a00" d="M27 29h1v1h-1zM31 29h1v1h-1z"/>
<path fill="#2a2a00" d="M28 29h1v1h-1zM30 29h1v1h-1zM33 29h1v1h-1z"/>
<path fill="#1a3c00" d="M29 29h1v1h-1zM34 29h1v1h-1z"/>
</g></g>
<g font-family='"Liberation Sans", sans-serif'>
<text transform="translate(514.6 77.4) scale(0.935 1)" font-size="31.2" fill="#ffff00" text-anchor="middle">4.1 V</text>
<text transform="translate(844.6 77.4) scale(0.935 1)" font-size="31.2" fill="#ffff00" text-anchor="middle">4.7 V</text>
<text transform="translate(1154.2 78.3) scale(0.935 1)" font-size="31.2" fill="#ffff00" text-anchor="middle">4.4 V</text>
<text transform="translate(1461.3 78.3) scale(0.935 1)" font-size="31.2" fill="#ffff00" text-anchor="middle">4.1 V</text>
<text transform="translate(1791.8 78.3) scale(0.935 1)" font-size="31.2" fill="#ffff00" text-anchor="middle">3.6 V</text>
<text transform="translate(227 120.6) scale(0.935 1)" font-size="31.2" fill="#ffff00" text-anchor="middle">OCV</text>
<text transform="translate(729.7 124.3) scale(0.935 1)" font-size="30.6" fill="#ffff00" text-anchor="middle">Charge</text>
<text transform="translate(1064.5 125.2) scale(0.935 1)" font-size="30.6" fill="#ffff00" text-anchor="middle">Discharge</text>
<line x1="303.6" y1="116.4" x2="663" y2="116.4" stroke="#ffff00" stroke-width="1.4" stroke-dasharray="3.6 1.8"/>
<path d="M671.5 116.4L662.3 111.8L662.3 121Z" fill="#ffff00"/>
<line x1="1147.2" y1="116.05" x2="1817" y2="116.05" stroke="#cfc800" stroke-width="1.9" stroke-dasharray="3 1.96"/>
<path d="M1825.3 116.05L1816.3 111.3L1816.3 120.8Z" fill="#ffff00"/>
<text transform="translate(42.9 143.7) scale(0.945 1)" font-size="31" fill="#00aeef">1st</text>
<text transform="translate(40.9 417.5) scale(0.945 1)" font-size="31" fill="#00aeef">201st</text>
<text transform="translate(203 409.7) scale(0.935 1)" font-size="30.6" fill="#ff00ff" text-anchor="middle">I</text>
<text transform="translate(853 410.7) scale(0.935 1)" font-size="30.6" fill="#ff00ff" text-anchor="middle">III</text>
<text transform="translate(1793 410.7) scale(0.935 1)" font-size="30.6" fill="#ff00ff" text-anchor="middle">V</text>
<text transform="translate(208.5 692.3) scale(0.96 1)" font-size="42.5" fill="#ff00ff" text-anchor="middle">II</text>
<text transform="translate(857 689.1) scale(0.935 1)" font-size="30.6" fill="#ff00ff" text-anchor="middle">IV</text>
<text transform="translate(1796.5 689.3) scale(0.935 1)" font-size="30.6" fill="#ff00ff" text-anchor="middle">VI</text>
<rect x="1498.8" y="700.2" width="149.4" height="5.8" fill="#fff"/>
<line x1="60.9" y1="252.4" x2="314.3" y2="250.73999999999998" stroke="#fff" stroke-width="1.9"/>
<path transform="translate(320.3 250.7) rotate(-0.38)" d="M0 0L-9.5 -4.3L-9.5 4.3Z" fill="#fff"/>
<circle cx="98.8" cy="252.1" r="7.6" fill="none" stroke="#fff" stroke-width="2.3"/>
<circle cx="165.4" cy="251.7" r="7.6" fill="none" stroke="#fff" stroke-width="2.3"/>
<circle cx="223.9" cy="250.6" r="7.6" fill="none" stroke="#fff" stroke-width="2.3"/>
<circle cx="283.2" cy="250.4" r="7.6" fill="none" stroke="#fff" stroke-width="2.3"/>
<text x="100.2" y="230.70000000000002" font-size="29.8" fill="#fff" text-anchor="middle">1</text>
<text x="165" y="230.70000000000002" font-size="29.8" fill="#fff" text-anchor="middle">2</text>
<text x="223.9" y="230.70000000000002" font-size="29.8" fill="#fff" text-anchor="middle">3</text>
<text x="280.4" y="230.70000000000002" font-size="29.8" fill="#fff" text-anchor="middle">4</text>
<circle cx="127.4" cy="220.3" r="1.9" fill="#4a8a50" stroke="#2a78c0" stroke-width="1.1"/>
<line x1="698.1" y1="255.7" x2="951.6" y2="254.44" stroke="#fff" stroke-width="1.9"/>
<path transform="translate(957.6 254.4) rotate(-0.29)" d="M0 0L-9.5 -4.3L-9.5 4.3Z" fill="#fff"/>
<circle cx="736.4" cy="255" r="7.6" fill="none" stroke="#fff" stroke-width="2.3"/>
<circle cx="802.8" cy="254.6" r="7.6" fill="none" stroke="#fff" stroke-width="2.3"/>
<circle cx="861.8" cy="253.9" r="7.6" fill="none" stroke="#fff" stroke-width="2.3"/>
<circle cx="920.7" cy="253.7" r="7.6" fill="none" stroke="#fff" stroke-width="2.3"/>
<text x="736.4" y="233.6" font-size="29.8" fill="#fff" text-anchor="middle">1</text>
<text x="792.2" y="233.6" font-size="29.8" fill="#fff" text-anchor="middle">2</text>
<text x="850.7" y="233.6" font-size="29.8" fill="#fff" text-anchor="middle">3</text>
<text x="906.8" y="233.6" font-size="29.8" fill="#fff" text-anchor="middle">4</text>
<circle cx="765" cy="223.5" r="1.9" fill="#4a8a50" stroke="#2a78c0" stroke-width="1.1"/>
<line x1="1651.1" y1="260.9" x2="1903.9" y2="259.34000000000003" stroke="#fff" stroke-width="1.9"/>
<path transform="translate(1909.9 259.3) rotate(-0.35)" d="M0 0L-9.5 -4.3L-9.5 4.3Z" fill="#fff"/>
<circle cx="1689.1" cy="260" r="7.6" fill="none" stroke="#fff" stroke-width="2.3"/>
<circle cx="1755" cy="259.8" r="7.6" fill="none" stroke="#fff" stroke-width="2.3"/>
<circle cx="1814" cy="259.1" r="7.6" fill="none" stroke="#fff" stroke-width="2.3"/>
<circle cx="1873.2" cy="258.9" r="7.6" fill="none" stroke="#fff" stroke-width="2.3"/>
<text x="1688.6" y="238.6" font-size="29.8" fill="#fff" text-anchor="middle">1</text>
<text x="1743.8" y="238.6" font-size="29.8" fill="#fff" text-anchor="middle">2</text>
<text x="1802.8" y="238.6" font-size="29.8" fill="#fff" text-anchor="middle">3</text>
<text x="1859" y="238.6" font-size="29.8" fill="#fff" text-anchor="middle">4</text>
<circle cx="1717.5" cy="228.9" r="1.9" fill="#4a8a50" stroke="#2a78c0" stroke-width="1.1"/>
<line x1="63.4" y1="535.2" x2="316.9" y2="533.24" stroke="#fff" stroke-width="1.9"/>
<path transform="translate(322.9 533.2) rotate(-0.44)" d="M0 0L-9.5 -4.3L-9.5 4.3Z" fill="#fff"/>
<circle cx="101.9" cy="534.7" r="7.6" fill="none" stroke="#fff" stroke-width="2.3"/>
<circle cx="168.1" cy="534.2" r="7.6" fill="none" stroke="#fff" stroke-width="2.3"/>
<circle cx="226.9" cy="533.2" r="7.6" fill="none" stroke="#fff" stroke-width="2.3"/>
<circle cx="286.3" cy="533" r="7.6" fill="none" stroke="#fff" stroke-width="2.3"/>
<text x="101.5" y="513.3" font-size="29.8" fill="#fff" text-anchor="middle">1</text>
<text x="167.6" y="513.3" font-size="29.8" fill="#fff" text-anchor="middle">2</text>
<text x="226.9" y="513.3" font-size="29.8" fill="#fff" text-anchor="middle">3</text>
<text x="283.3" y="513.3" font-size="29.8" fill="#fff" text-anchor="middle">4</text>
<circle cx="130.3" cy="502.9" r="1.9" fill="#4a8a50" stroke="#2a78c0" stroke-width="1.1"/>
<line x1="685.9" y1="538.6" x2="939.4" y2="537.3399999999999" stroke="#fff" stroke-width="1.9"/>
<path transform="translate(945.4 537.3) rotate(-0.29)" d="M0 0L-9.5 -4.3L-9.5 4.3Z" fill="#fff"/>
<circle cx="724.1" cy="538.6" r="7.6" fill="none" stroke="#fff" stroke-width="2.3"/>
<circle cx="790.1" cy="538.2" r="7.6" fill="none" stroke="#fff" stroke-width="2.3"/>
<circle cx="849.1" cy="537.2" r="7.6" fill="none" stroke="#fff" stroke-width="2.3"/>
<circle cx="908.3" cy="537" r="7.6" fill="none" stroke="#fff" stroke-width="2.3"/>
<text x="724.1" y="516.6999999999999" font-size="29.8" fill="#fff" text-anchor="middle">1</text>
<text x="788.7" y="516.6999999999999" font-size="29.8" fill="#fff" text-anchor="middle">2</text>
<text x="847.5" y="516.6999999999999" font-size="29.8" fill="#fff" text-anchor="middle">3</text>
<text x="904.2" y="516.6999999999999" font-size="29.8" fill="#fff" text-anchor="middle">4</text>
<circle cx="752.3" cy="506.9" r="1.9" fill="#4a8a50" stroke="#2a78c0" stroke-width="1.1"/>
<line x1="1657" y1="541.1" x2="1910.3" y2="539.3399999999999" stroke="#fff" stroke-width="1.9"/>
<path transform="translate(1916.3 539.3) rotate(-0.40)" d="M0 0L-9.5 -4.3L-9.5 4.3Z" fill="#fff"/>
<circle cx="1694.8" cy="540.9" r="7.6" fill="none" stroke="#fff" stroke-width="2.3"/>
<circle cx="1761.7" cy="540.4" r="7.6" fill="none" stroke="#fff" stroke-width="2.3"/>
<circle cx="1820.6" cy="539.5" r="7.6" fill="none" stroke="#fff" stroke-width="2.3"/>
<circle cx="1879.4" cy="539.1" r="7.6" fill="none" stroke="#fff" stroke-width="2.3"/>
<text x="1694.8" y="518.8" font-size="29.8" fill="#fff" text-anchor="middle">1</text>
<text x="1759.9" y="518.8" font-size="29.8" fill="#fff" text-anchor="middle">2</text>
<text x="1818.6" y="518.8" font-size="29.8" fill="#fff" text-anchor="middle">3</text>
<text x="1877.6" y="518.8" font-size="29.8" fill="#fff" text-anchor="middle">4</text>
<circle cx="1723.9" cy="509.4" r="1.9" fill="#4a8a50" stroke="#2a78c0" stroke-width="1.1"/>
<rect x="722.8" y="757.8" width="584.4" height="15.5" fill="url(#cb)"/>
<text x="709.8" y="773.7" font-size="25" fill="#ff0d0d" text-anchor="end">−1.5 eV</text>
<text x="1318" y="773.7" font-size="25" fill="#1fe01f">+1.5 eV</text>
<text x="-1.6" y="23.2" font-size="42.5" font-weight="bold">a</text>
<text x="-2.4" y="850.6" font-size="42" font-weight="bold">b</text>
<rect x="132.9" y="877.90" width="30.8" height="295.10" fill="#fd0000" stroke="#3a0a00" stroke-width="0.7"/>
<rect x="194.2" y="877.90" width="30.8" height="295.10" fill="#fd0000" stroke="#3a0a00" stroke-width="0.7"/>
<rect x="255.3" y="877.90" width="30.8" height="295.10" fill="#fd0000" stroke="#3a0a00" stroke-width="0.7"/>
<rect x="316.4" y="877.90" width="30.8" height="295.10" fill="#fd0000" stroke="#3a0a00" stroke-width="0.7"/>
<rect x="118.3" y="863.2" width="244.7" height="309.79999999999995" fill="none" stroke="#000" stroke-width="2.1"/>
<line x1="109.89999999999999" y1="1173.00" x2="118.3" y2="1173.00" stroke="#000" stroke-width="2"/>
<text x="101.69999999999999" y="1181.00" font-size="25" text-anchor="end">0</text>
<line x1="114.0" y1="1143.49" x2="118.3" y2="1143.49" stroke="#000" stroke-width="2"/>
<line x1="109.89999999999999" y1="1113.98" x2="118.3" y2="1113.98" stroke="#000" stroke-width="2"/>
<text x="101.69999999999999" y="1121.98" font-size="25" text-anchor="end">20</text>
<line x1="114.0" y1="1084.47" x2="118.3" y2="1084.47" stroke="#000" stroke-width="2"/>
<line x1="109.89999999999999" y1="1054.96" x2="118.3" y2="1054.96" stroke="#000" stroke-width="2"/>
<text x="101.69999999999999" y="1062.96" font-size="25" text-anchor="end">40</text>
<line x1="114.0" y1="1025.45" x2="118.3" y2="1025.45" stroke="#000" stroke-width="2"/>
<line x1="109.89999999999999" y1="995.94" x2="118.3" y2="995.94" stroke="#000" stroke-width="2"/>
<text x="101.69999999999999" y="1003.94" font-size="25" text-anchor="end">60</text>
<line x1="114.0" y1="966.43" x2="118.3" y2="966.43" stroke="#000" stroke-width="2"/>
<line x1="109.89999999999999" y1="936.92" x2="118.3" y2="936.92" stroke="#000" stroke-width="2"/>
<text x="101.69999999999999" y="944.92" font-size="25" text-anchor="end">80</text>
<line x1="114.0" y1="907.41" x2="118.3" y2="907.41" stroke="#000" stroke-width="2"/>
<line x1="109.89999999999999" y1="877.90" x2="118.3" y2="877.90" stroke="#000" stroke-width="2"/>
<text x="101.69999999999999" y="885.90" font-size="25" text-anchor="end">100</text>
<line x1="118.30" y1="1173" x2="118.30" y2="1176.8" stroke="#000" stroke-width="2"/>
<line x1="148.89" y1="1173" x2="148.89" y2="1181.2" stroke="#000" stroke-width="2"/>
<text x="148.89" y="1207.0" font-size="25" text-anchor="middle">1</text>
<line x1="179.47" y1="1173" x2="179.47" y2="1176.8" stroke="#000" stroke-width="2"/>
<line x1="210.06" y1="1173" x2="210.06" y2="1181.2" stroke="#000" stroke-width="2"/>
<text x="210.06" y="1207.0" font-size="25" text-anchor="middle">2</text>
<line x1="240.65" y1="1173" x2="240.65" y2="1176.8" stroke="#000" stroke-width="2"/>
<line x1="271.24" y1="1173" x2="271.24" y2="1181.2" stroke="#000" stroke-width="2"/>
<text x="271.24" y="1207.0" font-size="25" text-anchor="middle">3</text>
<line x1="301.82" y1="1173" x2="301.82" y2="1176.8" stroke="#000" stroke-width="2"/>
<line x1="332.41" y1="1173" x2="332.41" y2="1181.2" stroke="#000" stroke-width="2"/>
<text x="332.41" y="1207.0" font-size="25" text-anchor="middle">4</text>
<line x1="363.00" y1="1173" x2="363.00" y2="1176.8" stroke="#000" stroke-width="2"/>
<text x="245.7" y="854.9" font-size="25" text-anchor="middle">I</text>
<rect x="453.3" y="879.0" width="30.8" height="235.52" fill="#9dce22" stroke="#10140a" stroke-width="0.9"/>
<rect x="453.3" y="1114.52" width="30.8" height="58.88" fill="#fd0000" stroke="#3a0a00" stroke-width="0.7"/>
<rect x="514.7" y="879.0" width="30.8" height="206.08" fill="#9dce22" stroke="#10140a" stroke-width="0.9"/>
<rect x="514.7" y="1085.08" width="30.8" height="88.32" fill="#fd0000" stroke="#3a0a00" stroke-width="0.7"/>
<rect x="576.1" y="879.0" width="30.8" height="147.20" fill="#9dce22" stroke="#10140a" stroke-width="0.9"/>
<rect x="576.1" y="1026.20" width="30.8" height="147.20" fill="#fd0000" stroke="#3a0a00" stroke-width="0.7"/>
<rect x="637.5" y="879.0" width="30.8" height="58.88" fill="#9dce22" stroke="#10140a" stroke-width="0.9"/>
<rect x="637.5" y="937.88" width="30.8" height="235.52" fill="#fd0000" stroke="#3a0a00" stroke-width="0.7"/>
<rect x="439" y="864.3" width="244.60000000000002" height="309.10000000000014" fill="none" stroke="#000" stroke-width="2.1"/>
<line x1="430.6" y1="1173.40" x2="439" y2="1173.40" stroke="#000" stroke-width="2"/>
<text x="422.4" y="1181.40" font-size="25" text-anchor="end">0</text>
<line x1="434.7" y1="1143.96" x2="439" y2="1143.96" stroke="#000" stroke-width="2"/>
<line x1="430.6" y1="1114.52" x2="439" y2="1114.52" stroke="#000" stroke-width="2"/>
<text x="422.4" y="1122.52" font-size="25" text-anchor="end">20</text>
<line x1="434.7" y1="1085.08" x2="439" y2="1085.08" stroke="#000" stroke-width="2"/>
<line x1="430.6" y1="1055.64" x2="439" y2="1055.64" stroke="#000" stroke-width="2"/>
<text x="422.4" y="1063.64" font-size="25" text-anchor="end">40</text>
<line x1="434.7" y1="1026.20" x2="439" y2="1026.20" stroke="#000" stroke-width="2"/>
<line x1="430.6" y1="996.76" x2="439" y2="996.76" stroke="#000" stroke-width="2"/>
<text x="422.4" y="1004.76" font-size="25" text-anchor="end">60</text>
<line x1="434.7" y1="967.32" x2="439" y2="967.32" stroke="#000" stroke-width="2"/>
<line x1="430.6" y1="937.88" x2="439" y2="937.88" stroke="#000" stroke-width="2"/>
<text x="422.4" y="945.88" font-size="25" text-anchor="end">80</text>
<line x1="434.7" y1="908.44" x2="439" y2="908.44" stroke="#000" stroke-width="2"/>
<line x1="430.6" y1="879.00" x2="439" y2="879.00" stroke="#000" stroke-width="2"/>
<text x="422.4" y="887.00" font-size="25" text-anchor="end">100</text>
<line x1="439.00" y1="1173.4" x2="439.00" y2="1177.2" stroke="#000" stroke-width="2"/>
<line x1="469.57" y1="1173.4" x2="469.57" y2="1181.6000000000001" stroke="#000" stroke-width="2"/>
<text x="469.57" y="1207.4" font-size="25" text-anchor="middle">1</text>
<line x1="500.15" y1="1173.4" x2="500.15" y2="1177.2" stroke="#000" stroke-width="2"/>
<line x1="530.73" y1="1173.4" x2="530.73" y2="1181.6000000000001" stroke="#000" stroke-width="2"/>
<text x="530.73" y="1207.4" font-size="25" text-anchor="middle">2</text>
<line x1="561.30" y1="1173.4" x2="561.30" y2="1177.2" stroke="#000" stroke-width="2"/>
<line x1="591.88" y1="1173.4" x2="591.88" y2="1181.6000000000001" stroke="#000" stroke-width="2"/>
<text x="591.88" y="1207.4" font-size="25" text-anchor="middle">3</text>
<line x1="622.45" y1="1173.4" x2="622.45" y2="1177.2" stroke="#000" stroke-width="2"/>
<line x1="653.03" y1="1173.4" x2="653.03" y2="1181.6000000000001" stroke="#000" stroke-width="2"/>
<text x="653.03" y="1207.4" font-size="25" text-anchor="middle">4</text>
<line x1="683.60" y1="1173.4" x2="683.60" y2="1177.2" stroke="#000" stroke-width="2"/>
<text x="569" y="854.9" font-size="25" text-anchor="middle">II</text>
<rect x="774.2" y="879.2" width="30.8" height="294.00" fill="#9dce22" stroke="#10140a" stroke-width="0.9"/>
<rect x="834.9" y="879.2" width="30.8" height="294.00" fill="#9dce22" stroke="#10140a" stroke-width="0.9"/>
<rect x="895.6" y="879.2" width="30.8" height="294.00" fill="#9dce22" stroke="#10140a" stroke-width="0.9"/>
<rect x="956.6" y="879.2" width="30.8" height="294.00" fill="#9dce22" stroke="#10140a" stroke-width="0.9"/>
<rect x="758.9" y="865" width="244.10000000000002" height="308.20000000000005" fill="none" stroke="#000" stroke-width="2.1"/>
<line x1="750.5" y1="1173.20" x2="758.9" y2="1173.20" stroke="#000" stroke-width="2"/>
<text x="742.3" y="1181.20" font-size="25" text-anchor="end">0</text>
<line x1="754.6" y1="1143.80" x2="758.9" y2="1143.80" stroke="#000" stroke-width="2"/>
<line x1="750.5" y1="1114.40" x2="758.9" y2="1114.40" stroke="#000" stroke-width="2"/>
<text x="742.3" y="1122.40" font-size="25" text-anchor="end">20</text>
<line x1="754.6" y1="1085.00" x2="758.9" y2="1085.00" stroke="#000" stroke-width="2"/>
<line x1="750.5" y1="1055.60" x2="758.9" y2="1055.60" stroke="#000" stroke-width="2"/>
<text x="742.3" y="1063.60" font-size="25" text-anchor="end">40</text>
<line x1="754.6" y1="1026.20" x2="758.9" y2="1026.20" stroke="#000" stroke-width="2"/>
<line x1="750.5" y1="996.80" x2="758.9" y2="996.80" stroke="#000" stroke-width="2"/>
<text x="742.3" y="1004.80" font-size="25" text-anchor="end">60</text>
<line x1="754.6" y1="967.40" x2="758.9" y2="967.40" stroke="#000" stroke-width="2"/>
<line x1="750.5" y1="938.00" x2="758.9" y2="938.00" stroke="#000" stroke-width="2"/>
<text x="742.3" y="946.00" font-size="25" text-anchor="end">80</text>
<line x1="754.6" y1="908.60" x2="758.9" y2="908.60" stroke="#000" stroke-width="2"/>
<line x1="750.5" y1="879.20" x2="758.9" y2="879.20" stroke="#000" stroke-width="2"/>
<text x="742.3" y="887.20" font-size="25" text-anchor="end">100</text>
<line x1="758.90" y1="1173.2" x2="758.90" y2="1177.0" stroke="#000" stroke-width="2"/>
<line x1="789.41" y1="1173.2" x2="789.41" y2="1181.4" stroke="#000" stroke-width="2"/>
<text x="789.41" y="1207.2" font-size="25" text-anchor="middle">1</text>
<line x1="819.92" y1="1173.2" x2="819.92" y2="1177.0" stroke="#000" stroke-width="2"/>
<line x1="850.44" y1="1173.2" x2="850.44" y2="1181.4" stroke="#000" stroke-width="2"/>
<text x="850.44" y="1207.2" font-size="25" text-anchor="middle">2</text>
<line x1="880.95" y1="1173.2" x2="880.95" y2="1177.0" stroke="#000" stroke-width="2"/>
<line x1="911.46" y1="1173.2" x2="911.46" y2="1181.4" stroke="#000" stroke-width="2"/>
<text x="911.46" y="1207.2" font-size="25" text-anchor="middle">3</text>
<line x1="941.98" y1="1173.2" x2="941.98" y2="1177.0" stroke="#000" stroke-width="2"/>
<line x1="972.49" y1="1173.2" x2="972.49" y2="1181.4" stroke="#000" stroke-width="2"/>
<text x="972.49" y="1207.2" font-size="25" text-anchor="middle">4</text>
<line x1="1003.00" y1="1173.2" x2="1003.00" y2="1177.0" stroke="#000" stroke-width="2"/>
<text x="883.5" y="854.9" font-size="25" text-anchor="middle">III</text>
<rect x="1094.4" y="879.2" width="30.8" height="235.20" fill="#9dce22" stroke="#10140a" stroke-width="0.9"/>
<rect x="1094.4" y="1114.40" width="30.8" height="58.80" fill="#fd0000" stroke="#3a0a00" stroke-width="0.7"/>
<rect x="1155.5" y="879.2" width="30.8" height="249.90" fill="#9dce22" stroke="#10140a" stroke-width="0.9"/>
<rect x="1155.5" y="1129.10" width="30.8" height="44.10" fill="#fd0000" stroke="#3a0a00" stroke-width="0.7"/>
<rect x="1216.5" y="879.2" width="30.8" height="261.66" fill="#9dce22" stroke="#10140a" stroke-width="0.9"/>
<rect x="1216.5" y="1140.86" width="30.8" height="32.34" fill="#fd0000" stroke="#3a0a00" stroke-width="0.7"/>
<rect x="1277.5" y="879.2" width="30.8" height="229.32" fill="#9dce22" stroke="#10140a" stroke-width="0.9"/>
<rect x="1277.5" y="1108.52" width="30.8" height="64.68" fill="#fd0000" stroke="#3a0a00" stroke-width="0.7"/>
<rect x="1079.4" y="865" width="243.5" height="308.20000000000005" fill="none" stroke="#000" stroke-width="2.1"/>
<line x1="1071.0" y1="1173.20" x2="1079.4" y2="1173.20" stroke="#000" stroke-width="2"/>
<text x="1062.8000000000002" y="1181.20" font-size="25" text-anchor="end">0</text>
<line x1="1075.1000000000001" y1="1143.80" x2="1079.4" y2="1143.80" stroke="#000" stroke-width="2"/>
<line x1="1071.0" y1="1114.40" x2="1079.4" y2="1114.40" stroke="#000" stroke-width="2"/>
<text x="1062.8000000000002" y="1122.40" font-size="25" text-anchor="end">20</text>
<line x1="1075.1000000000001" y1="1085.00" x2="1079.4" y2="1085.00" stroke="#000" stroke-width="2"/>
<line x1="1071.0" y1="1055.60" x2="1079.4" y2="1055.60" stroke="#000" stroke-width="2"/>
<text x="1062.8000000000002" y="1063.60" font-size="25" text-anchor="end">40</text>
<line x1="1075.1000000000001" y1="1026.20" x2="1079.4" y2="1026.20" stroke="#000" stroke-width="2"/>
<line x1="1071.0" y1="996.80" x2="1079.4" y2="996.80" stroke="#000" stroke-width="2"/>
<text x="1062.8000000000002" y="1004.80" font-size="25" text-anchor="end">60</text>
<line x1="1075.1000000000001" y1="967.40" x2="1079.4" y2="967.40" stroke="#000" stroke-width="2"/>
<line x1="1071.0" y1="938.00" x2="1079.4" y2="938.00" stroke="#000" stroke-width="2"/>
<text x="1062.8000000000002" y="946.00" font-size="25" text-anchor="end">80</text>
<line x1="1075.1000000000001" y1="908.60" x2="1079.4" y2="908.60" stroke="#000" stroke-width="2"/>
<line x1="1071.0" y1="879.20" x2="1079.4" y2="879.20" stroke="#000" stroke-width="2"/>
<text x="1062.8000000000002" y="887.20" font-size="25" text-anchor="end">100</text>
<line x1="1079.40" y1="1173.2" x2="1079.40" y2="1177.0" stroke="#000" stroke-width="2"/>
<line x1="1109.84" y1="1173.2" x2="1109.84" y2="1181.4" stroke="#000" stroke-width="2"/>
<text x="1109.84" y="1207.2" font-size="25" text-anchor="middle">1</text>
<line x1="1140.28" y1="1173.2" x2="1140.28" y2="1177.0" stroke="#000" stroke-width="2"/>
<line x1="1170.71" y1="1173.2" x2="1170.71" y2="1181.4" stroke="#000" stroke-width="2"/>
<text x="1170.71" y="1207.2" font-size="25" text-anchor="middle">2</text>
<line x1="1201.15" y1="1173.2" x2="1201.15" y2="1177.0" stroke="#000" stroke-width="2"/>
<line x1="1231.59" y1="1173.2" x2="1231.59" y2="1181.4" stroke="#000" stroke-width="2"/>
<text x="1231.59" y="1207.2" font-size="25" text-anchor="middle">3</text>
<line x1="1262.03" y1="1173.2" x2="1262.03" y2="1177.0" stroke="#000" stroke-width="2"/>
<line x1="1292.46" y1="1173.2" x2="1292.46" y2="1181.4" stroke="#000" stroke-width="2"/>
<text x="1292.46" y="1207.2" font-size="25" text-anchor="middle">4</text>
<line x1="1322.90" y1="1173.2" x2="1322.90" y2="1177.0" stroke="#000" stroke-width="2"/>
<text x="1204.5" y="854.9" font-size="25" text-anchor="middle">IV</text>
<rect x="1418.6" y="876.70" width="30.8" height="296.70" fill="#fd0000" stroke="#3a0a00" stroke-width="0.7"/>
<rect x="1480.5" y="876.70" width="30.8" height="296.70" fill="#fd0000" stroke="#3a0a00" stroke-width="0.7"/>
<rect x="1541.7" y="876.70" width="30.8" height="296.70" fill="#fd0000" stroke="#3a0a00" stroke-width="0.7"/>
<rect x="1603.5" y="876.70" width="30.8" height="296.70" fill="#fd0000" stroke="#3a0a00" stroke-width="0.7"/>
<rect x="1403.2" y="862.5" width="246.29999999999995" height="310.9000000000001" fill="none" stroke="#000" stroke-width="2.1"/>
<line x1="1394.8" y1="1173.40" x2="1403.2" y2="1173.40" stroke="#000" stroke-width="2"/>
<text x="1386.6000000000001" y="1181.40" font-size="25" text-anchor="end">0</text>
<line x1="1398.9" y1="1143.73" x2="1403.2" y2="1143.73" stroke="#000" stroke-width="2"/>
<line x1="1394.8" y1="1114.06" x2="1403.2" y2="1114.06" stroke="#000" stroke-width="2"/>
<text x="1386.6000000000001" y="1122.06" font-size="25" text-anchor="end">20</text>
<line x1="1398.9" y1="1084.39" x2="1403.2" y2="1084.39" stroke="#000" stroke-width="2"/>
<line x1="1394.8" y1="1054.72" x2="1403.2" y2="1054.72" stroke="#000" stroke-width="2"/>
<text x="1386.6000000000001" y="1062.72" font-size="25" text-anchor="end">40</text>
<line x1="1398.9" y1="1025.05" x2="1403.2" y2="1025.05" stroke="#000" stroke-width="2"/>
<line x1="1394.8" y1="995.38" x2="1403.2" y2="995.38" stroke="#000" stroke-width="2"/>
<text x="1386.6000000000001" y="1003.38" font-size="25" text-anchor="end">60</text>
<line x1="1398.9" y1="965.71" x2="1403.2" y2="965.71" stroke="#000" stroke-width="2"/>
<line x1="1394.8" y1="936.04" x2="1403.2" y2="936.04" stroke="#000" stroke-width="2"/>
<text x="1386.6000000000001" y="944.04" font-size="25" text-anchor="end">80</text>
<line x1="1398.9" y1="906.37" x2="1403.2" y2="906.37" stroke="#000" stroke-width="2"/>
<line x1="1394.8" y1="876.70" x2="1403.2" y2="876.70" stroke="#000" stroke-width="2"/>
<text x="1386.6000000000001" y="884.70" font-size="25" text-anchor="end">100</text>
<line x1="1403.20" y1="1173.4" x2="1403.20" y2="1177.2" stroke="#000" stroke-width="2"/>
<line x1="1433.99" y1="1173.4" x2="1433.99" y2="1181.6000000000001" stroke="#000" stroke-width="2"/>
<text x="1433.99" y="1207.4" font-size="25" text-anchor="middle">1</text>
<line x1="1464.78" y1="1173.4" x2="1464.78" y2="1177.2" stroke="#000" stroke-width="2"/>
<line x1="1495.56" y1="1173.4" x2="1495.56" y2="1181.6000000000001" stroke="#000" stroke-width="2"/>
<text x="1495.56" y="1207.4" font-size="25" text-anchor="middle">2</text>
<line x1="1526.35" y1="1173.4" x2="1526.35" y2="1177.2" stroke="#000" stroke-width="2"/>
<line x1="1557.14" y1="1173.4" x2="1557.14" y2="1181.6000000000001" stroke="#000" stroke-width="2"/>
<text x="1557.14" y="1207.4" font-size="25" text-anchor="middle">3</text>
<line x1="1587.92" y1="1173.4" x2="1587.92" y2="1177.2" stroke="#000" stroke-width="2"/>
<line x1="1618.71" y1="1173.4" x2="1618.71" y2="1181.6000000000001" stroke="#000" stroke-width="2"/>
<text x="1618.71" y="1207.4" font-size="25" text-anchor="middle">4</text>
<line x1="1649.50" y1="1173.4" x2="1649.50" y2="1177.2" stroke="#000" stroke-width="2"/>
<text x="1529" y="854.9" font-size="25" text-anchor="middle">V</text>
<rect x="1741.6" y="876.7" width="30.8" height="267.03" fill="#9dce22" stroke="#10140a" stroke-width="0.9"/>
<rect x="1741.6" y="1143.73" width="30.8" height="29.67" fill="#fd0000" stroke="#3a0a00" stroke-width="0.7"/>
<rect x="1803.4" y="876.7" width="30.8" height="281.87" fill="#9dce22" stroke="#10140a" stroke-width="0.9"/>
<rect x="1803.4" y="1158.57" width="30.8" height="14.84" fill="#fd0000" stroke="#3a0a00" stroke-width="0.7"/>
<rect x="1864.8" y="876.7" width="30.8" height="237.36" fill="#9dce22" stroke="#10140a" stroke-width="0.9"/>
<rect x="1864.8" y="1114.06" width="30.8" height="59.34" fill="#fd0000" stroke="#3a0a00" stroke-width="0.7"/>
<rect x="1926.5" y="876.7" width="30.8" height="207.69" fill="#9dce22" stroke="#10140a" stroke-width="0.9"/>
<rect x="1926.5" y="1084.39" width="30.8" height="89.01" fill="#fd0000" stroke="#3a0a00" stroke-width="0.7"/>
<rect x="1727" y="862.5" width="245.5999999999999" height="310.9000000000001" fill="none" stroke="#000" stroke-width="2.1"/>
<line x1="1718.6" y1="1173.40" x2="1727" y2="1173.40" stroke="#000" stroke-width="2"/>
<text x="1710.4" y="1181.40" font-size="25" text-anchor="end">0</text>
<line x1="1722.7" y1="1143.73" x2="1727" y2="1143.73" stroke="#000" stroke-width="2"/>
<line x1="1718.6" y1="1114.06" x2="1727" y2="1114.06" stroke="#000" stroke-width="2"/>
<text x="1710.4" y="1122.06" font-size="25" text-anchor="end">20</text>
<line x1="1722.7" y1="1084.39" x2="1727" y2="1084.39" stroke="#000" stroke-width="2"/>
<line x1="1718.6" y1="1054.72" x2="1727" y2="1054.72" stroke="#000" stroke-width="2"/>
<text x="1710.4" y="1062.72" font-size="25" text-anchor="end">40</text>
<line x1="1722.7" y1="1025.05" x2="1727" y2="1025.05" stroke="#000" stroke-width="2"/>
<line x1="1718.6" y1="995.38" x2="1727" y2="995.38" stroke="#000" stroke-width="2"/>
<text x="1710.4" y="1003.38" font-size="25" text-anchor="end">60</text>
<line x1="1722.7" y1="965.71" x2="1727" y2="965.71" stroke="#000" stroke-width="2"/>
<line x1="1718.6" y1="936.04" x2="1727" y2="936.04" stroke="#000" stroke-width="2"/>
<text x="1710.4" y="944.04" font-size="25" text-anchor="end">80</text>
<line x1="1722.7" y1="906.37" x2="1727" y2="906.37" stroke="#000" stroke-width="2"/>
<line x1="1718.6" y1="876.70" x2="1727" y2="876.70" stroke="#000" stroke-width="2"/>
<text x="1710.4" y="884.70" font-size="25" text-anchor="end">100</text>
<line x1="1727.00" y1="1173.4" x2="1727.00" y2="1177.2" stroke="#000" stroke-width="2"/>
<line x1="1757.70" y1="1173.4" x2="1757.70" y2="1181.6000000000001" stroke="#000" stroke-width="2"/>
<text x="1757.70" y="1207.4" font-size="25" text-anchor="middle">1</text>
<line x1="1788.40" y1="1173.4" x2="1788.40" y2="1177.2" stroke="#000" stroke-width="2"/>
<line x1="1819.10" y1="1173.4" x2="1819.10" y2="1181.6000000000001" stroke="#000" stroke-width="2"/>
<text x="1819.10" y="1207.4" font-size="25" text-anchor="middle">2</text>
<line x1="1849.80" y1="1173.4" x2="1849.80" y2="1177.2" stroke="#000" stroke-width="2"/>
<line x1="1880.50" y1="1173.4" x2="1880.50" y2="1181.6000000000001" stroke="#000" stroke-width="2"/>
<text x="1880.50" y="1207.4" font-size="25" text-anchor="middle">3</text>
<line x1="1911.20" y1="1173.4" x2="1911.20" y2="1177.2" stroke="#000" stroke-width="2"/>
<line x1="1941.90" y1="1173.4" x2="1941.90" y2="1181.6000000000001" stroke="#000" stroke-width="2"/>
<text x="1941.90" y="1207.4" font-size="25" text-anchor="middle">4</text>
<line x1="1972.60" y1="1173.4" x2="1972.60" y2="1177.2" stroke="#000" stroke-width="2"/>
<text x="1852" y="854.9" font-size="25" text-anchor="middle">VI</text>
<text x="1033.5" y="1238.4" font-size="25" text-anchor="middle">Selected regions along the scanning pathway</text>
<text transform="translate(41.1 1021.6) rotate(-90)" font-size="25" text-anchor="middle">Relative ratio (%)</text>
</g>
</svg>
</body>
</html>
